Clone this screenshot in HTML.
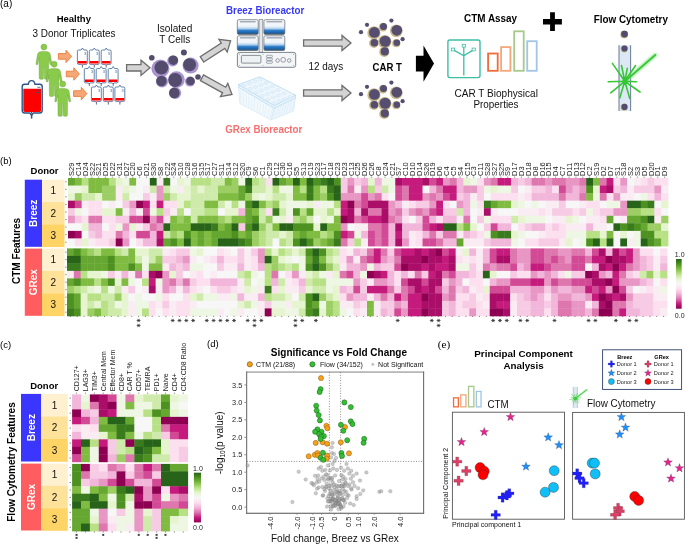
<!DOCTYPE html>
<html><head><meta charset="utf-8"><title>Figure</title>
<style>
html,body{margin:0;padding:0;background:#fff;overflow:hidden;}
svg{display:block;will-change:transform;}
text{font-family:"Liberation Sans", sans-serif;}
</style></head><body>
<svg width="685" height="544" viewBox="0 0 685 544">
<rect width="685" height="544" fill="#fff"/>
<text transform="translate(0.00,7.00) scale(1,1.0)" font-size="10" text-anchor="start" fill="#000">(a)</text>
<text transform="translate(73.80,21.70) scale(1,1.05)" font-size="9.5" font-weight="bold" text-anchor="middle" fill="#000">Healthy</text>
<text transform="translate(74.00,36.70) scale(1,1.08)" font-size="9.95" text-anchor="middle" fill="#111">3 Donor Triplicates</text>
<text transform="translate(174.60,31.60) scale(1,1.15)" font-size="10.1" text-anchor="middle" fill="#111">Isolated</text>
<text transform="translate(174.70,42.60) scale(1,1.15)" font-size="10.0" text-anchor="middle" fill="#111">T Cells</text>
<text transform="translate(265.20,14.00) scale(1,1.05)" font-size="9.8" font-weight="bold" text-anchor="middle" fill="#3838fa">Breez Bioreactor</text>
<text transform="translate(263.80,132.50) scale(1,1.07)" font-size="9.8" font-weight="bold" text-anchor="middle" fill="#f77070">GRex Bioreactor</text>
<text transform="translate(325.80,69.70) scale(1,1.02)" font-size="9.95" text-anchor="middle" fill="#111">12 days</text>
<text transform="translate(387.20,70.70) scale(1,1.08)" font-size="9.6" font-weight="bold" text-anchor="middle" fill="#000">CAR T</text>
<text transform="translate(490.60,22.20) scale(1,1.15)" font-size="9.9" font-weight="bold" text-anchor="middle" fill="#000">CTM Assay</text>
<text transform="translate(630.80,23.00) scale(1,1.15)" font-size="9.9" font-weight="bold" text-anchor="middle" fill="#000">Flow Cytometry</text>
<text transform="translate(496.20,96.70) scale(1,1.15)" font-size="10.05" text-anchor="middle" fill="#111">CAR T Biophysical</text>
<text transform="translate(496.00,108.30) scale(1,1.15)" font-size="9.9" text-anchor="middle" fill="#111">Properties</text>
<g transform="translate(43.9,47.0)"><circle r="3.0" fill="#8bcb4c" stroke="#6a9f3e" stroke-width="0.4"/><path d="M -2 4.4 L 2 4.4 Q 5.6 4.4 6.4 7.2 L 7.9 16.6 Q 8.1 17.8 7.0 17.8 Q 6.2 17.8 6.0 16.9 L 4.9 10.6 L 4.7 31.2 Q 4.7 32.2 3.6 32.2 L 1.4 32.2 Q 0.5 32.2 0.5 31.2 L 0.3 19.5 L -0.3 19.5 L -0.5 31.2 Q -0.5 32.2 -1.4 32.2 L -3.6 32.2 Q -4.7 32.2 -4.7 31.2 L -4.9 10.6 L -6.0 16.9 Q -6.2 17.8 -7.0 17.8 Q -8.1 17.8 -7.9 16.6 L -6.4 7.2 Q -5.6 4.4 -2 4.4 Z" fill="#8bcb4c" stroke="#6a9f3e" stroke-width="0.4"/></g>
<g transform="translate(54.1,64.2)"><circle r="3.0" fill="#8bcb4c" stroke="#6a9f3e" stroke-width="0.4"/><path d="M -2 4.4 L 2 4.4 Q 5.6 4.4 6.4 7.2 L 7.9 16.6 Q 8.1 17.8 7.0 17.8 Q 6.2 17.8 6.0 16.9 L 4.9 10.6 L 4.7 31.2 Q 4.7 32.2 3.6 32.2 L 1.4 32.2 Q 0.5 32.2 0.5 31.2 L 0.3 19.5 L -0.3 19.5 L -0.5 31.2 Q -0.5 32.2 -1.4 32.2 L -3.6 32.2 Q -4.7 32.2 -4.7 31.2 L -4.9 10.6 L -6.0 16.9 Q -6.2 17.8 -7.0 17.8 Q -8.1 17.8 -7.9 16.6 L -6.4 7.2 Q -5.6 4.4 -2 4.4 Z" fill="#8bcb4c" stroke="#6a9f3e" stroke-width="0.4"/></g>
<g transform="translate(62.7,84.1)"><circle r="3.0" fill="#8bcb4c" stroke="#6a9f3e" stroke-width="0.4"/><path d="M -2 4.4 L 2 4.4 Q 5.6 4.4 6.4 7.2 L 7.9 16.6 Q 8.1 17.8 7.0 17.8 Q 6.2 17.8 6.0 16.9 L 4.9 10.6 L 4.7 31.2 Q 4.7 32.2 3.6 32.2 L 1.4 32.2 Q 0.5 32.2 0.5 31.2 L 0.3 19.5 L -0.3 19.5 L -0.5 31.2 Q -0.5 32.2 -1.4 32.2 L -3.6 32.2 Q -4.7 32.2 -4.7 31.2 L -4.9 10.6 L -6.0 16.9 Q -6.2 17.8 -7.0 17.8 Q -8.1 17.8 -7.9 16.6 L -6.4 7.2 Q -5.6 4.4 -2 4.4 Z" fill="#8bcb4c" stroke="#6a9f3e" stroke-width="0.4"/></g>
<path d="M22.2 86.6 Q22.2 84.2 24.6 84.2 L28.4 84.2 Q28.6 80.6 31.6 80.6 Q34.6 80.6 34.8 84.2 L39.8 84.2 Q42.2 84.2 42.2 86.6 L42.2 110.6 Q42.2 113.0 39.8 113.0 L33.4 113.0 L31.6 115.2 L29.8 113.0 L24.6 113.0 Q22.2 113.0 22.2 110.6 Z" fill="#fff" stroke="#2b5687" stroke-width="1.4" stroke-linejoin="round"/>
<path d="M23.3 88.8 H41.1 V110.2 Q41.1 111.9 39.4 111.9 H25.0 Q23.3 111.9 23.3 110.2 Z" fill="#ff0000"/>
<path d="M31.6 111.8 V113.6" stroke="#ff0000" stroke-width="1.2"/>
<path d="M37.4 87.3 H40.4 M36.0 92.4 H39.6" stroke="#2b5687" stroke-width="0.8"/>
<path d="M37.8 89.6 h1.4 v1.2 h-1.4" fill="none" stroke="#2b5687" stroke-width="0.5"/>
<path d="M31.6 115 V118.6" fill="none" stroke="#2b5687" stroke-width="1.5"/>
<path d="M58.4 53.6 L66.0 53.6 L66.0 50.199999999999996 L71.6 56.4 L66.0 62.6 L66.0 59.199999999999996 L58.4 59.199999999999996 Z" fill="#f5a877" stroke="#ec7a34" stroke-width="0.9" stroke-linejoin="miter"/>
<path d="M66.3 71.2 L73.80000000000001 71.2 L73.80000000000001 67.8 L79.4 74.0 L73.80000000000001 80.2 L73.80000000000001 76.8 L66.3 76.8 Z" fill="#f5a877" stroke="#ec7a34" stroke-width="0.9" stroke-linejoin="miter"/>
<path d="M73.6 90.8 L81.30000000000001 90.8 L81.30000000000001 87.39999999999999 L86.9 93.6 L81.30000000000001 99.8 L81.30000000000001 96.39999999999999 L73.6 96.39999999999999 Z" fill="#f5a877" stroke="#ec7a34" stroke-width="0.9" stroke-linejoin="miter"/>
<path d="M77.4 51.2 Q77.4 50.0 78.60000000000001 50.0 L81.10000000000001 50.0 L82.4 48.0 L83.7 50.0 L86.10000000000001 50.0 Q87.30000000000001 50.0 87.30000000000001 51.2 L87.30000000000001 63.2 Q87.30000000000001 64.4 86.10000000000001 64.4 L83.2 64.4 L82.4 65.4 L81.60000000000001 64.4 L78.60000000000001 64.4 Q77.4 64.4 77.4 63.2 Z" fill="#fff" stroke="#3c6696" stroke-width="0.8" stroke-linejoin="round"/>
<rect x="78.0" y="61.0" width="8.7" height="2.5" fill="#ff0000"/>
<path d="M82.4 64.6 L82.4 65.4" stroke="#ff0000" stroke-width="1"/>
<text x="84.0" y="54.7" font-size="3.9" fill="#3c6696">3</text>
<path d="M82.4 65.4 V67.6" stroke="#3c6696" stroke-width="0.9"/>
<path d="M89.3 51.2 Q89.3 50.0 90.5 50.0 L93.0 50.0 L94.3 48.0 L95.6 50.0 L98.0 50.0 Q99.2 50.0 99.2 51.2 L99.2 63.2 Q99.2 64.4 98.0 64.4 L95.1 64.4 L94.3 65.4 L93.5 64.4 L90.5 64.4 Q89.3 64.4 89.3 63.2 Z" fill="#fff" stroke="#3c6696" stroke-width="0.8" stroke-linejoin="round"/>
<rect x="89.9" y="61.0" width="8.7" height="2.5" fill="#ff0000"/>
<path d="M94.3 64.6 L94.3 65.4" stroke="#ff0000" stroke-width="1"/>
<text x="95.9" y="54.7" font-size="3.9" fill="#3c6696">3</text>
<path d="M94.3 65.4 V67.6" stroke="#3c6696" stroke-width="0.9"/>
<path d="M101.2 51.2 Q101.2 50.0 102.4 50.0 L104.9 50.0 L106.2 48.0 L107.5 50.0 L109.9 50.0 Q111.10000000000001 50.0 111.10000000000001 51.2 L111.10000000000001 63.2 Q111.10000000000001 64.4 109.9 64.4 L107.0 64.4 L106.2 65.4 L105.4 64.4 L102.4 64.4 Q101.2 64.4 101.2 63.2 Z" fill="#fff" stroke="#3c6696" stroke-width="0.8" stroke-linejoin="round"/>
<rect x="101.8" y="61.0" width="8.7" height="2.5" fill="#ff0000"/>
<path d="M106.2 64.6 L106.2 65.4" stroke="#ff0000" stroke-width="1"/>
<text x="107.8" y="54.7" font-size="3.9" fill="#3c6696">3</text>
<path d="M106.2 65.4 V67.6" stroke="#3c6696" stroke-width="0.9"/>
<path d="M84.3 69.7 Q84.3 68.5 85.5 68.5 L88.0 68.5 L89.3 66.5 L90.6 68.5 L93.0 68.5 Q94.2 68.5 94.2 69.7 L94.2 81.7 Q94.2 82.9 93.0 82.9 L90.1 82.9 L89.3 83.9 L88.5 82.9 L85.5 82.9 Q84.3 82.9 84.3 81.7 Z" fill="#fff" stroke="#3c6696" stroke-width="0.8" stroke-linejoin="round"/>
<rect x="84.9" y="79.5" width="8.7" height="2.5" fill="#ff0000"/>
<path d="M89.3 83.1 L89.3 83.9" stroke="#ff0000" stroke-width="1"/>
<text x="90.9" y="73.2" font-size="3.9" fill="#3c6696">3</text>
<path d="M89.3 83.9 V86.1" stroke="#3c6696" stroke-width="0.9"/>
<path d="M96.2 69.7 Q96.2 68.5 97.4 68.5 L99.9 68.5 L101.2 66.5 L102.5 68.5 L104.9 68.5 Q106.10000000000001 68.5 106.10000000000001 69.7 L106.10000000000001 81.7 Q106.10000000000001 82.9 104.9 82.9 L102.0 82.9 L101.2 83.9 L100.4 82.9 L97.4 82.9 Q96.2 82.9 96.2 81.7 Z" fill="#fff" stroke="#3c6696" stroke-width="0.8" stroke-linejoin="round"/>
<rect x="96.8" y="79.5" width="8.7" height="2.5" fill="#ff0000"/>
<path d="M101.2 83.1 L101.2 83.9" stroke="#ff0000" stroke-width="1"/>
<text x="102.8" y="73.2" font-size="3.9" fill="#3c6696">3</text>
<path d="M101.2 83.9 V86.1" stroke="#3c6696" stroke-width="0.9"/>
<path d="M108.2 69.7 Q108.2 68.5 109.4 68.5 L111.9 68.5 L113.2 66.5 L114.5 68.5 L116.9 68.5 Q118.10000000000001 68.5 118.10000000000001 69.7 L118.10000000000001 81.7 Q118.10000000000001 82.9 116.9 82.9 L114.0 82.9 L113.2 83.9 L112.4 82.9 L109.4 82.9 Q108.2 82.9 108.2 81.7 Z" fill="#fff" stroke="#3c6696" stroke-width="0.8" stroke-linejoin="round"/>
<rect x="108.8" y="79.5" width="8.7" height="2.5" fill="#ff0000"/>
<path d="M113.2 83.1 L113.2 83.9" stroke="#ff0000" stroke-width="1"/>
<text x="114.8" y="73.2" font-size="3.9" fill="#3c6696">3</text>
<path d="M113.2 83.9 V86.1" stroke="#3c6696" stroke-width="0.9"/>
<path d="M91.4 88.2 Q91.4 87.0 92.60000000000001 87.0 L95.10000000000001 87.0 L96.4 85.0 L97.7 87.0 L100.10000000000001 87.0 Q101.30000000000001 87.0 101.30000000000001 88.2 L101.30000000000001 100.2 Q101.30000000000001 101.4 100.10000000000001 101.4 L97.2 101.4 L96.4 102.4 L95.60000000000001 101.4 L92.60000000000001 101.4 Q91.4 101.4 91.4 100.2 Z" fill="#fff" stroke="#3c6696" stroke-width="0.8" stroke-linejoin="round"/>
<rect x="92.0" y="98.0" width="8.7" height="2.5" fill="#ff0000"/>
<path d="M96.4 101.6 L96.4 102.4" stroke="#ff0000" stroke-width="1"/>
<text x="98.0" y="91.7" font-size="3.9" fill="#3c6696">3</text>
<path d="M96.4 102.4 V104.6" stroke="#3c6696" stroke-width="0.9"/>
<path d="M103.3 88.2 Q103.3 87.0 104.5 87.0 L107.0 87.0 L108.3 85.0 L109.6 87.0 L112.0 87.0 Q113.2 87.0 113.2 88.2 L113.2 100.2 Q113.2 101.4 112.0 101.4 L109.1 101.4 L108.3 102.4 L107.5 101.4 L104.5 101.4 Q103.3 101.4 103.3 100.2 Z" fill="#fff" stroke="#3c6696" stroke-width="0.8" stroke-linejoin="round"/>
<rect x="103.9" y="98.0" width="8.7" height="2.5" fill="#ff0000"/>
<path d="M108.3 101.6 L108.3 102.4" stroke="#ff0000" stroke-width="1"/>
<text x="109.9" y="91.7" font-size="3.9" fill="#3c6696">3</text>
<path d="M108.3 102.4 V104.6" stroke="#3c6696" stroke-width="0.9"/>
<path d="M114.9 88.2 Q114.9 87.0 116.10000000000001 87.0 L118.60000000000001 87.0 L119.9 85.0 L121.2 87.0 L123.60000000000001 87.0 Q124.80000000000001 87.0 124.80000000000001 88.2 L124.80000000000001 100.2 Q124.80000000000001 101.4 123.60000000000001 101.4 L120.7 101.4 L119.9 102.4 L119.10000000000001 101.4 L116.10000000000001 101.4 Q114.9 101.4 114.9 100.2 Z" fill="#fff" stroke="#3c6696" stroke-width="0.8" stroke-linejoin="round"/>
<rect x="115.5" y="98.0" width="8.7" height="2.5" fill="#ff0000"/>
<path d="M119.9 101.6 L119.9 102.4" stroke="#ff0000" stroke-width="1"/>
<text x="121.5" y="91.7" font-size="3.9" fill="#3c6696">3</text>
<path d="M119.9 102.4 V104.6" stroke="#3c6696" stroke-width="0.9"/>
<path d="M126.60 71.00 L141.00 71.00 L141.00 75.40 L150.00 67.80 L141.00 60.20 L141.00 64.60 L126.60 64.60 Z" fill="#d4d4d4" stroke="#6e6e6e" stroke-width="1.3" stroke-linejoin="miter"/>
<path d="M203.74 62.08 L224.80 48.39 L227.20 52.08 L230.60 40.80 L218.91 39.34 L221.31 43.02 L200.26 56.72 Z" fill="#d4d4d4" stroke="#6e6e6e" stroke-width="1.3" stroke-linejoin="miter"/>
<path d="M200.45 80.60 L222.58 92.84 L220.45 96.69 L232.00 94.40 L227.80 83.39 L225.67 87.24 L203.55 75.00 Z" fill="#d4d4d4" stroke="#6e6e6e" stroke-width="1.3" stroke-linejoin="miter"/>
<path d="M303.60 46.20 L342.00 46.20 L342.00 50.60 L351.00 43.00 L342.00 35.40 L342.00 39.80 L303.60 39.80 Z" fill="#d4d4d4" stroke="#6e6e6e" stroke-width="1.3" stroke-linejoin="miter"/>
<path d="M303.60 96.20 L342.00 96.20 L342.00 100.60 L351.00 93.00 L342.00 85.40 L342.00 89.80 L303.60 89.80 Z" fill="#d4d4d4" stroke="#6e6e6e" stroke-width="1.3" stroke-linejoin="miter"/>
<circle cx="160.4" cy="68.6" r="9.0" fill="#a994cf"/>
<circle cx="172.7" cy="60.9" r="5.5" fill="#a994cf"/>
<circle cx="190.6" cy="65.6" r="8.0" fill="#a994cf"/>
<circle cx="162.0" cy="81.6" r="6.0" fill="#a994cf"/>
<circle cx="176.4" cy="79.6" r="8.4" fill="#a994cf"/>
<circle cx="190.0" cy="81.6" r="5.0" fill="#a994cf"/>
<circle cx="175.2" cy="92.9" r="6.0" fill="#a994cf"/>
<circle cx="161.4" cy="67.6" r="6.9" fill="#544c6c"/>
<circle cx="173.3" cy="60.2" r="4.8" fill="#544c6c"/>
<circle cx="189.6" cy="64.7" r="6.5" fill="#544c6c"/>
<circle cx="161.4" cy="81.0" r="5.3" fill="#544c6c"/>
<circle cx="175.2" cy="80.0" r="6.9" fill="#544c6c"/>
<circle cx="190.5" cy="81.0" r="4.3" fill="#544c6c"/>
<circle cx="174.3" cy="92.9" r="5.3" fill="#544c6c"/>
<circle cx="151.8" cy="57.8" r="2.8" fill="#544c6c"/>
<circle cx="183.9" cy="52.6" r="3.0" fill="#544c6c"/>
<circle cx="198.0" cy="77.0" r="2.8" fill="#544c6c"/>
<circle cx="361.0" cy="32.20" r="2.1" fill="#554e70"/>
<circle cx="367.0" cy="24.80" r="2.1" fill="#554e70"/>
<circle cx="391.4" cy="20.60" r="2.1" fill="#554e70"/>
<circle cx="402.6" cy="39.20" r="2.1" fill="#554e70"/>
<circle cx="373.90" cy="32.90" r="6.6" fill="#c9b98b"/>
<circle cx="374.4" cy="32.40" r="5.4" fill="#554e70"/>
<circle cx="383.00" cy="27.10" r="4.3" fill="#c9b98b"/>
<circle cx="383.5" cy="26.60" r="3.5" fill="#554e70"/>
<circle cx="396.30" cy="30.80" r="6.4" fill="#c9b98b"/>
<circle cx="396.8" cy="30.30" r="5.4" fill="#554e70"/>
<circle cx="373.90" cy="43.20" r="4.8" fill="#c9b98b"/>
<circle cx="374.4" cy="42.70" r="3.8" fill="#554e70"/>
<circle cx="384.70" cy="41.80" r="6.8" fill="#c9b98b"/>
<circle cx="385.2" cy="41.30" r="5.6" fill="#554e70"/>
<circle cx="396.30" cy="43.20" r="4.1" fill="#c9b98b"/>
<circle cx="396.8" cy="42.70" r="3.3" fill="#554e70"/>
<circle cx="384.30" cy="51.90" r="5.1" fill="#c9b98b"/>
<circle cx="384.8" cy="51.40" r="4.1" fill="#554e70"/>
<circle cx="361.0" cy="94.20" r="2.1" fill="#554e70"/>
<circle cx="367.0" cy="86.80" r="2.1" fill="#554e70"/>
<circle cx="391.4" cy="82.60" r="2.1" fill="#554e70"/>
<circle cx="402.6" cy="101.20" r="2.1" fill="#554e70"/>
<circle cx="373.90" cy="94.90" r="6.6" fill="#c9b98b"/>
<circle cx="374.4" cy="94.40" r="5.4" fill="#554e70"/>
<circle cx="383.00" cy="89.10" r="4.3" fill="#c9b98b"/>
<circle cx="383.5" cy="88.60" r="3.5" fill="#554e70"/>
<circle cx="396.30" cy="92.80" r="6.4" fill="#c9b98b"/>
<circle cx="396.8" cy="92.30" r="5.4" fill="#554e70"/>
<circle cx="373.90" cy="105.20" r="4.8" fill="#c9b98b"/>
<circle cx="374.4" cy="104.70" r="3.8" fill="#554e70"/>
<circle cx="384.70" cy="103.80" r="6.8" fill="#c9b98b"/>
<circle cx="385.2" cy="103.30" r="5.6" fill="#554e70"/>
<circle cx="396.30" cy="105.20" r="4.1" fill="#c9b98b"/>
<circle cx="396.8" cy="104.70" r="3.3" fill="#554e70"/>
<circle cx="384.30" cy="113.90" r="5.1" fill="#c9b98b"/>
<circle cx="384.8" cy="113.40" r="4.1" fill="#554e70"/>
<defs><linearGradient id="bz" x1="0" y1="0" x2="0" y2="1"><stop offset="0" stop-color="#f7f9fb"/><stop offset="0.45" stop-color="#eef4fa"/><stop offset="0.6" stop-color="#b4d2ee"/><stop offset="0.74" stop-color="#2a7ccb"/><stop offset="0.88" stop-color="#1c64ad"/><stop offset="1" stop-color="#4a5563"/></linearGradient><linearGradient id="gx" x1="0" y1="0" x2="1" y2="1"><stop offset="0" stop-color="#eaf5fc"/><stop offset="1" stop-color="#d6ecf8"/></linearGradient></defs>
<rect x="259.1" y="19.3" width="3.7" height="33.4" fill="#e4e8ec" stroke="#777" stroke-width="0.6"/>
<rect x="237.3" y="19.7" width="20.9" height="14.7" rx="1.5" fill="url(#bz)" stroke="#5c6670" stroke-width="0.7"/>
<rect x="239.9" y="21.099999999999998" width="15.7" height="1.3" fill="#9aa4ae"/>
<rect x="263.9" y="19.7" width="20.9" height="14.7" rx="1.5" fill="url(#bz)" stroke="#5c6670" stroke-width="0.7"/>
<rect x="266.5" y="21.099999999999998" width="15.7" height="1.3" fill="#9aa4ae"/>
<rect x="237.3" y="35.8" width="20.9" height="14.7" rx="1.5" fill="url(#bz)" stroke="#5c6670" stroke-width="0.7"/>
<rect x="239.9" y="37.199999999999996" width="15.7" height="1.3" fill="#9aa4ae"/>
<rect x="263.9" y="35.8" width="20.9" height="14.7" rx="1.5" fill="url(#bz)" stroke="#5c6670" stroke-width="0.7"/>
<rect x="266.5" y="37.199999999999996" width="15.7" height="1.3" fill="#9aa4ae"/>
<rect x="237.4" y="52.4" width="58.3" height="14.9" rx="2" fill="#f3f5f7" stroke="#5c6670" stroke-width="0.8"/>
<rect x="241.4" y="55.4" width="19.5" height="7.7" rx="1" fill="#eef1f4" stroke="#5c6670" stroke-width="0.7"/>
<rect x="266.4" y="55.3" width="6" height="2.2" rx="0.8" fill="#eef1f4" stroke="#5c6670" stroke-width="0.5"/>
<rect x="266.4" y="58.2" width="6" height="2.2" rx="0.8" fill="#eef1f4" stroke="#5c6670" stroke-width="0.5"/>
<rect x="266.4" y="61.1" width="6" height="2.2" rx="0.8" fill="#eef1f4" stroke="#5c6670" stroke-width="0.5"/>
<circle cx="277.6" cy="60.5" r="1.8" fill="none" stroke="#5c6670" stroke-width="0.6"/>
<circle cx="283.2" cy="59.8" r="2.4" fill="none" stroke="#5c6670" stroke-width="0.6"/>
<circle cx="289.2" cy="60.5" r="1.8" fill="none" stroke="#5c6670" stroke-width="0.6"/>
<circle cx="239.5" cy="54.3" r="0.45" fill="#5c6670"/>
<circle cx="293.6" cy="54.3" r="0.45" fill="#5c6670"/>
<circle cx="239.5" cy="65.4" r="0.45" fill="#5c6670"/>
<circle cx="293.6" cy="65.4" r="0.45" fill="#5c6670"/>
<circle cx="263.0" cy="54.3" r="0.45" fill="#5c6670"/>
<circle cx="263.0" cy="65.4" r="0.45" fill="#5c6670"/>
<path d="M238.6 87.2 L274.2 108.2 L271.2 120.0 L239.8 103.6 Z" fill="#f3f9fd" stroke="#cfe6f5" stroke-width="0.6"/>
<path d="M274.2 108.2 L295.5 97.9 L293.6 111.0 L271.2 120.0 Z" fill="#eef6fc" stroke="#cfe6f5" stroke-width="0.6"/>
<path d="M240.2 89.9 L241.2 104.2 M243.0 90.5 L243.6 104.8 M246.1 93.4 L246.5 106.9 M248.9 94.0 L248.8 107.5 M252.0 96.9 L251.7 109.6 M254.8 97.5 L254.1 110.2 M258.0 100.4 L256.9 112.4 M260.8 101.0 L259.3 113.0 M263.9 103.9 L262.2 115.1 M266.7 104.5 L264.6 115.7 M269.8 107.4 L267.4 117.8 M272.6 108.0 L269.8 118.4 M275.5 107.7 L272.8 118.3 M278.3 107.1 L275.2 117.7 M280.8 105.1 L278.4 116.0 M283.6 104.5 L280.8 115.4 M286.1 102.6 L284.0 113.8 M288.9 102.0 L286.4 113.2 M291.4 100.0 L289.6 111.5 M294.2 99.4 L292.0 110.9" fill="none" stroke="#d7ebf7" stroke-width="0.6"/>
<path d="M238.6 84.6 L238.6 87.2 L274.2 108.2 L295.5 97.9 L295.5 95.3 Z" fill="#ebf5fc" stroke="#acd4ee" stroke-width="0.6" stroke-linejoin="round"/>
<path d="M238.6 84.6 L259.9 76.8 L295.5 95.3 L274.2 105.6 Z" fill="#f0f7fc" stroke="#acd4ee" stroke-width="0.7" stroke-linejoin="round"/>
<ellipse cx="244.2" cy="85.4" rx="2.3" ry="1.5" fill="#e6f2fb" stroke="#c6e2f4" stroke-width="0.45"/><ellipse cx="250.2" cy="88.9" rx="2.3" ry="1.5" fill="#e6f2fb" stroke="#c6e2f4" stroke-width="0.45"/><ellipse cx="256.1" cy="92.4" rx="2.3" ry="1.5" fill="#e6f2fb" stroke="#c6e2f4" stroke-width="0.45"/><ellipse cx="262.0" cy="95.9" rx="2.3" ry="1.5" fill="#e6f2fb" stroke="#c6e2f4" stroke-width="0.45"/><ellipse cx="268.0" cy="99.4" rx="2.3" ry="1.5" fill="#e6f2fb" stroke="#c6e2f4" stroke-width="0.45"/><ellipse cx="273.9" cy="102.9" rx="2.3" ry="1.5" fill="#e6f2fb" stroke="#c6e2f4" stroke-width="0.45"/><ellipse cx="249.6" cy="83.4" rx="2.3" ry="1.5" fill="#e6f2fb" stroke="#c6e2f4" stroke-width="0.45"/><ellipse cx="255.5" cy="86.9" rx="2.3" ry="1.5" fill="#e6f2fb" stroke="#c6e2f4" stroke-width="0.45"/><ellipse cx="261.4" cy="90.4" rx="2.3" ry="1.5" fill="#e6f2fb" stroke="#c6e2f4" stroke-width="0.45"/><ellipse cx="267.4" cy="93.9" rx="2.3" ry="1.5" fill="#e6f2fb" stroke="#c6e2f4" stroke-width="0.45"/><ellipse cx="273.3" cy="97.4" rx="2.3" ry="1.5" fill="#e6f2fb" stroke="#c6e2f4" stroke-width="0.45"/><ellipse cx="279.2" cy="100.9" rx="2.3" ry="1.5" fill="#e6f2fb" stroke="#c6e2f4" stroke-width="0.45"/><ellipse cx="254.9" cy="81.5" rx="2.3" ry="1.5" fill="#e6f2fb" stroke="#c6e2f4" stroke-width="0.45"/><ellipse cx="260.8" cy="85.0" rx="2.3" ry="1.5" fill="#e6f2fb" stroke="#c6e2f4" stroke-width="0.45"/><ellipse cx="266.7" cy="88.5" rx="2.3" ry="1.5" fill="#e6f2fb" stroke="#c6e2f4" stroke-width="0.45"/><ellipse cx="272.7" cy="92.0" rx="2.3" ry="1.5" fill="#e6f2fb" stroke="#c6e2f4" stroke-width="0.45"/><ellipse cx="278.6" cy="95.5" rx="2.3" ry="1.5" fill="#e6f2fb" stroke="#c6e2f4" stroke-width="0.45"/><ellipse cx="284.5" cy="99.0" rx="2.3" ry="1.5" fill="#e6f2fb" stroke="#c6e2f4" stroke-width="0.45"/><ellipse cx="260.2" cy="79.5" rx="2.3" ry="1.5" fill="#e6f2fb" stroke="#c6e2f4" stroke-width="0.45"/><ellipse cx="266.1" cy="83.0" rx="2.3" ry="1.5" fill="#e6f2fb" stroke="#c6e2f4" stroke-width="0.45"/><ellipse cx="272.1" cy="86.5" rx="2.3" ry="1.5" fill="#e6f2fb" stroke="#c6e2f4" stroke-width="0.45"/><ellipse cx="278.0" cy="90.0" rx="2.3" ry="1.5" fill="#e6f2fb" stroke="#c6e2f4" stroke-width="0.45"/><ellipse cx="283.9" cy="93.5" rx="2.3" ry="1.5" fill="#e6f2fb" stroke="#c6e2f4" stroke-width="0.45"/><ellipse cx="289.9" cy="97.0" rx="2.3" ry="1.5" fill="#e6f2fb" stroke="#c6e2f4" stroke-width="0.45"/>
<path d="M415.9 55.7 H423.5 V45.6 L434.0 63.6 L423.5 81.7 V71.6 H415.9 Z" fill="#000"/>
<rect x="447.9" y="40.0" width="32.1" height="37.6" rx="2" fill="none" stroke="#3dbfa5" stroke-width="1.4"/>
<path d="M463.8 46.5 V75.6 M453 49.6 L463.8 55.7 L473.7 49.6" fill="none" stroke="#3dbfa5" stroke-width="1.3"/>
<rect x="462.2" y="44.3" width="3.2" height="2.8" fill="#fff" stroke="#3dbfa5" stroke-width="0.8"/>
<rect x="451.4" y="48.1" width="3.2" height="2.8" fill="#fff" stroke="#3dbfa5" stroke-width="0.8"/>
<rect x="472.1" y="48.1" width="3.2" height="2.8" fill="#fff" stroke="#3dbfa5" stroke-width="0.8"/>
<rect x="488.09999999999997" y="53.5" width="9.60" height="17.30" fill="none" stroke="#f26b3a" stroke-width="1.8"/>
<rect x="501.09999999999997" y="47.1" width="9.30" height="23.70" fill="none" stroke="#f3a77b" stroke-width="1.8"/>
<rect x="514.1999999999999" y="31.299999999999997" width="9.50" height="39.50" fill="none" stroke="#a7c98a" stroke-width="1.8"/>
<rect x="527.1999999999999" y="41.199999999999996" width="9.50" height="29.60" fill="none" stroke="#a2c4e8" stroke-width="1.8"/>
<path d="M550.1 12.2 H554.9 V19.0 H561.9 V24.4 H554.9 V30.9 H550.1 V24.4 H543.0 V19.0 H550.1 Z" fill="#000"/>
<defs><filter id="glow" x="-50%" y="-50%" width="200%" height="200%"><feGaussianBlur stdDeviation="1.2"/></filter></defs>
<rect x="619.0" y="45.2" width="11.6" height="65.8" fill="#dde8f5"/>
<path d="M619.0 45.2 V111 M630.6 45.2 V111" stroke="#7384a0" stroke-width="1.1"/>
<path d="M624.8 81.3 L655.4 54.8" stroke="#7fe07f" stroke-width="3.6" stroke-linecap="round" filter="url(#glow)" opacity="0.85"/>
<path d="M624.8 81.3 L655.4 54.8" stroke="#33c833" stroke-width="1.7" stroke-linecap="round"/>
<path d="M624.8 81.3 L608.2 81.8 M624.8 81.3 L636.4 81.8 M624.8 81.3 L612.4 63.4 M624.8 81.3 L621.5 65.5 M624.8 81.3 L627.3 68.4 M624.8 81.3 L635.5 65.5 M624.8 81.3 L610.7 92.8 M624.8 81.3 L619.8 97.8 M624.8 81.3 L629.8 98.6 M624.8 81.3 L640.0 92.0" stroke="#33c833" stroke-width="1.6" stroke-linecap="round"/>
<circle cx="624.8" cy="81.3" r="2.6" fill="#33c833"/>
<circle cx="624.2" cy="34.4" r="3.9" fill="#cbbb8c"/>
<circle cx="624.5" cy="34.1" r="3.4" fill="#534c70"/>
<circle cx="624.2" cy="48.8" r="3.6" fill="#cbbb8c"/>
<circle cx="624.5" cy="48.5" r="3.1" fill="#534c70"/>
<circle cx="624.2" cy="107.2" r="3.6" fill="#cbbb8c"/>
<circle cx="624.5" cy="106.9" r="3.1" fill="#534c70"/>
<text x="0.00" y="163.90" font-size="9.5" text-anchor="start" fill="#000" >(b)</text>
<text x="44.50" y="174.40" font-size="9.5" font-weight="bold" text-anchor="middle" fill="#000" >Donor</text>
<text transform="translate(19.50,251.00) rotate(-90)" font-size="10" font-weight="bold" text-anchor="middle" fill="#000">CTM Features</text>
<rect x="24.8" y="179.7" width="17.2" height="67.10000000000002" fill="#3b36fd"/>
<rect x="42.0" y="179.70" width="22.5" height="22.67" fill="#fff0d0"/>
<text x="53.25" y="194.48" font-size="10" text-anchor="middle" fill="#111" >1</text>
<rect x="42.0" y="202.07" width="22.5" height="22.67" fill="#ffe299"/>
<text x="53.25" y="216.85" font-size="10" text-anchor="middle" fill="#111" >2</text>
<rect x="42.0" y="224.43" width="22.5" height="22.67" fill="#ffd466"/>
<text x="53.25" y="239.22" font-size="10" text-anchor="middle" fill="#111" >3</text>
<text transform="translate(37.00,213.25) rotate(-90)" font-size="10" font-weight="bold" text-anchor="middle" fill="#fff">Breez</text>
<rect x="24.8" y="248.6" width="17.2" height="67.20000000000002" fill="#ff5d5f"/>
<rect x="42.0" y="248.60" width="22.5" height="22.70" fill="#fff0d0"/>
<text x="53.25" y="263.40" font-size="10" text-anchor="middle" fill="#111" >1</text>
<rect x="42.0" y="271.00" width="22.5" height="22.70" fill="#ffe299"/>
<text x="53.25" y="285.80" font-size="10" text-anchor="middle" fill="#111" >2</text>
<rect x="42.0" y="293.40" width="22.5" height="22.70" fill="#ffd466"/>
<text x="53.25" y="308.20" font-size="10" text-anchor="middle" fill="#111" >3</text>
<text transform="translate(37.00,282.20) rotate(-90)" font-size="10" font-weight="bold" text-anchor="middle" fill="#fff">GRex</text>
<rect x="68.00" y="178.00" width="7.22" height="7.96" fill="#66a731"/>
<rect x="74.82" y="178.00" width="7.22" height="7.96" fill="#7fbc41"/>
<rect x="81.64" y="178.00" width="7.22" height="7.96" fill="#b8e186"/>
<rect x="88.45" y="178.00" width="7.22" height="7.96" fill="#7fbc41"/>
<rect x="95.27" y="178.00" width="7.22" height="7.96" fill="#7fbc41"/>
<rect x="102.09" y="178.00" width="7.22" height="7.96" fill="#7fbc41"/>
<rect x="108.91" y="178.00" width="7.22" height="7.96" fill="#b8e186"/>
<rect x="115.73" y="178.00" width="7.22" height="7.96" fill="#e6f5d0"/>
<rect x="122.55" y="178.00" width="7.22" height="7.96" fill="#eef6e4"/>
<rect x="129.36" y="178.00" width="7.22" height="7.96" fill="#7fbc41"/>
<rect x="136.18" y="178.00" width="7.22" height="7.96" fill="#f7f7f7"/>
<rect x="143.00" y="178.00" width="7.22" height="7.96" fill="#f7f7f7"/>
<rect x="149.82" y="178.00" width="7.22" height="7.96" fill="#276419"/>
<rect x="156.64" y="178.00" width="7.22" height="7.96" fill="#faecf3"/>
<rect x="163.45" y="178.00" width="7.22" height="7.96" fill="#3a7b1d"/>
<rect x="170.27" y="178.00" width="7.22" height="7.96" fill="#f7f7f7"/>
<rect x="177.09" y="178.00" width="7.22" height="7.96" fill="#e6f5d0"/>
<rect x="183.91" y="178.00" width="7.22" height="7.96" fill="#eef6e4"/>
<rect x="190.73" y="178.00" width="7.22" height="7.96" fill="#b8e186"/>
<rect x="197.55" y="178.00" width="7.22" height="7.96" fill="#b8e186"/>
<rect x="204.36" y="178.00" width="7.22" height="7.96" fill="#b8e186"/>
<rect x="211.18" y="178.00" width="7.22" height="7.96" fill="#cfebab"/>
<rect x="218.00" y="178.00" width="7.22" height="7.96" fill="#cfebab"/>
<rect x="224.82" y="178.00" width="7.22" height="7.96" fill="#7fbc41"/>
<rect x="231.64" y="178.00" width="7.22" height="7.96" fill="#9cce64"/>
<rect x="238.45" y="178.00" width="7.22" height="7.96" fill="#eef6e4"/>
<rect x="245.27" y="178.00" width="7.22" height="7.96" fill="#276419"/>
<rect x="252.09" y="178.00" width="7.22" height="7.96" fill="#b8e186"/>
<rect x="258.91" y="178.00" width="7.22" height="7.96" fill="#cfebab"/>
<rect x="265.73" y="178.00" width="7.22" height="7.96" fill="#fde0ef"/>
<rect x="272.55" y="178.00" width="7.22" height="7.96" fill="#276419"/>
<rect x="279.36" y="178.00" width="7.22" height="7.96" fill="#66a731"/>
<rect x="286.18" y="178.00" width="7.22" height="7.96" fill="#7fbc41"/>
<rect x="293.00" y="178.00" width="7.22" height="7.96" fill="#276419"/>
<rect x="299.82" y="178.00" width="7.22" height="7.96" fill="#7fbc41"/>
<rect x="306.64" y="178.00" width="7.22" height="7.96" fill="#276419"/>
<rect x="313.45" y="178.00" width="7.22" height="7.96" fill="#4d9221"/>
<rect x="320.27" y="178.00" width="7.22" height="7.96" fill="#3a7b1d"/>
<rect x="327.09" y="178.00" width="7.22" height="7.96" fill="#276419"/>
<rect x="333.91" y="178.00" width="7.22" height="7.96" fill="#4d9221"/>
<rect x="340.73" y="178.00" width="7.22" height="7.96" fill="#f7cbe4"/>
<rect x="347.55" y="178.00" width="7.22" height="7.96" fill="#e896c4"/>
<rect x="354.36" y="178.00" width="7.22" height="7.96" fill="#f7cbe4"/>
<rect x="361.18" y="178.00" width="7.22" height="7.96" fill="#f1b6da"/>
<rect x="368.00" y="178.00" width="7.22" height="7.96" fill="#e6f5d0"/>
<rect x="374.82" y="178.00" width="7.22" height="7.96" fill="#f1b6da"/>
<rect x="381.64" y="178.00" width="7.22" height="7.96" fill="#eef6e4"/>
<rect x="388.45" y="178.00" width="7.22" height="7.96" fill="#eef6e4"/>
<rect x="395.27" y="178.00" width="7.22" height="7.96" fill="#aa0e68"/>
<rect x="402.09" y="178.00" width="7.22" height="7.96" fill="#c51b7d"/>
<rect x="408.91" y="178.00" width="7.22" height="7.96" fill="#c51b7d"/>
<rect x="415.73" y="178.00" width="7.22" height="7.96" fill="#c51b7d"/>
<rect x="422.55" y="178.00" width="7.22" height="7.96" fill="#aa0e68"/>
<rect x="429.36" y="178.00" width="7.22" height="7.96" fill="#d24996"/>
<rect x="436.18" y="178.00" width="7.22" height="7.96" fill="#c51b7d"/>
<rect x="443.00" y="178.00" width="7.22" height="7.96" fill="#e896c4"/>
<rect x="449.82" y="178.00" width="7.22" height="7.96" fill="#de77ae"/>
<rect x="456.64" y="178.00" width="7.22" height="7.96" fill="#f1b6da"/>
<rect x="463.45" y="178.00" width="7.22" height="7.96" fill="#e6f5d0"/>
<rect x="470.27" y="178.00" width="7.22" height="7.96" fill="#eef6e4"/>
<rect x="477.09" y="178.00" width="7.22" height="7.96" fill="#fde0ef"/>
<rect x="483.91" y="178.00" width="7.22" height="7.96" fill="#e896c4"/>
<rect x="490.73" y="178.00" width="7.22" height="7.96" fill="#de77ae"/>
<rect x="497.55" y="178.00" width="7.22" height="7.96" fill="#c51b7d"/>
<rect x="504.36" y="178.00" width="7.22" height="7.96" fill="#c51b7d"/>
<rect x="511.18" y="178.00" width="7.22" height="7.96" fill="#f1b6da"/>
<rect x="518.00" y="178.00" width="7.22" height="7.96" fill="#f7cbe4"/>
<rect x="524.82" y="178.00" width="7.22" height="7.96" fill="#f1b6da"/>
<rect x="531.64" y="178.00" width="7.22" height="7.96" fill="#de77ae"/>
<rect x="538.45" y="178.00" width="7.22" height="7.96" fill="#de77ae"/>
<rect x="545.27" y="178.00" width="7.22" height="7.96" fill="#e896c4"/>
<rect x="552.09" y="178.00" width="7.22" height="7.96" fill="#de77ae"/>
<rect x="558.91" y="178.00" width="7.22" height="7.96" fill="#de77ae"/>
<rect x="565.73" y="178.00" width="7.22" height="7.96" fill="#e896c4"/>
<rect x="572.55" y="178.00" width="7.22" height="7.96" fill="#e896c4"/>
<rect x="579.36" y="178.00" width="7.22" height="7.96" fill="#de77ae"/>
<rect x="586.18" y="178.00" width="7.22" height="7.96" fill="#276419"/>
<rect x="593.00" y="178.00" width="7.22" height="7.96" fill="#7fbc41"/>
<rect x="599.82" y="178.00" width="7.22" height="7.96" fill="#de77ae"/>
<rect x="606.64" y="178.00" width="7.22" height="7.96" fill="#c51b7d"/>
<rect x="613.45" y="178.00" width="7.22" height="7.96" fill="#fde0ef"/>
<rect x="620.27" y="178.00" width="7.22" height="7.96" fill="#e896c4"/>
<rect x="627.09" y="178.00" width="7.22" height="7.96" fill="#f7f7f7"/>
<rect x="633.91" y="178.00" width="7.22" height="7.96" fill="#faecf3"/>
<rect x="640.73" y="178.00" width="7.22" height="7.96" fill="#fde0ef"/>
<rect x="647.55" y="178.00" width="7.22" height="7.96" fill="#f7cbe4"/>
<rect x="654.36" y="178.00" width="7.22" height="7.96" fill="#fde0ef"/>
<rect x="661.18" y="178.00" width="7.22" height="7.96" fill="#fde0ef"/>
<rect x="68.00" y="185.56" width="7.22" height="7.96" fill="#eef6e4"/>
<rect x="74.82" y="185.56" width="7.22" height="7.96" fill="#eef6e4"/>
<rect x="81.64" y="185.56" width="7.22" height="7.96" fill="#e6f5d0"/>
<rect x="88.45" y="185.56" width="7.22" height="7.96" fill="#7fbc41"/>
<rect x="95.27" y="185.56" width="7.22" height="7.96" fill="#7fbc41"/>
<rect x="102.09" y="185.56" width="7.22" height="7.96" fill="#9cce64"/>
<rect x="108.91" y="185.56" width="7.22" height="7.96" fill="#9cce64"/>
<rect x="115.73" y="185.56" width="7.22" height="7.96" fill="#faecf3"/>
<rect x="122.55" y="185.56" width="7.22" height="7.96" fill="#e6f5d0"/>
<rect x="129.36" y="185.56" width="7.22" height="7.96" fill="#eef6e4"/>
<rect x="136.18" y="185.56" width="7.22" height="7.96" fill="#f7f7f7"/>
<rect x="143.00" y="185.56" width="7.22" height="7.96" fill="#faecf3"/>
<rect x="149.82" y="185.56" width="7.22" height="7.96" fill="#cfebab"/>
<rect x="156.64" y="185.56" width="7.22" height="7.96" fill="#e896c4"/>
<rect x="163.45" y="185.56" width="7.22" height="7.96" fill="#cfebab"/>
<rect x="170.27" y="185.56" width="7.22" height="7.96" fill="#eef6e4"/>
<rect x="177.09" y="185.56" width="7.22" height="7.96" fill="#faecf3"/>
<rect x="183.91" y="185.56" width="7.22" height="7.96" fill="#e6f5d0"/>
<rect x="190.73" y="185.56" width="7.22" height="7.96" fill="#cfebab"/>
<rect x="197.55" y="185.56" width="7.22" height="7.96" fill="#e6f5d0"/>
<rect x="204.36" y="185.56" width="7.22" height="7.96" fill="#cfebab"/>
<rect x="211.18" y="185.56" width="7.22" height="7.96" fill="#cfebab"/>
<rect x="218.00" y="185.56" width="7.22" height="7.96" fill="#9cce64"/>
<rect x="224.82" y="185.56" width="7.22" height="7.96" fill="#9cce64"/>
<rect x="231.64" y="185.56" width="7.22" height="7.96" fill="#9cce64"/>
<rect x="238.45" y="185.56" width="7.22" height="7.96" fill="#66a731"/>
<rect x="245.27" y="185.56" width="7.22" height="7.96" fill="#3a7b1d"/>
<rect x="252.09" y="185.56" width="7.22" height="7.96" fill="#cfebab"/>
<rect x="258.91" y="185.56" width="7.22" height="7.96" fill="#cfebab"/>
<rect x="265.73" y="185.56" width="7.22" height="7.96" fill="#e6f5d0"/>
<rect x="272.55" y="185.56" width="7.22" height="7.96" fill="#b8e186"/>
<rect x="279.36" y="185.56" width="7.22" height="7.96" fill="#eef6e4"/>
<rect x="286.18" y="185.56" width="7.22" height="7.96" fill="#eef6e4"/>
<rect x="293.00" y="185.56" width="7.22" height="7.96" fill="#7fbc41"/>
<rect x="299.82" y="185.56" width="7.22" height="7.96" fill="#b8e186"/>
<rect x="306.64" y="185.56" width="7.22" height="7.96" fill="#3a7b1d"/>
<rect x="313.45" y="185.56" width="7.22" height="7.96" fill="#7fbc41"/>
<rect x="320.27" y="185.56" width="7.22" height="7.96" fill="#b8e186"/>
<rect x="327.09" y="185.56" width="7.22" height="7.96" fill="#3a7b1d"/>
<rect x="333.91" y="185.56" width="7.22" height="7.96" fill="#276419"/>
<rect x="340.73" y="185.56" width="7.22" height="7.96" fill="#f7cbe4"/>
<rect x="347.55" y="185.56" width="7.22" height="7.96" fill="#de77ae"/>
<rect x="354.36" y="185.56" width="7.22" height="7.96" fill="#faecf3"/>
<rect x="361.18" y="185.56" width="7.22" height="7.96" fill="#e896c4"/>
<rect x="368.00" y="185.56" width="7.22" height="7.96" fill="#b8e186"/>
<rect x="374.82" y="185.56" width="7.22" height="7.96" fill="#f7cbe4"/>
<rect x="381.64" y="185.56" width="7.22" height="7.96" fill="#cfebab"/>
<rect x="388.45" y="185.56" width="7.22" height="7.96" fill="#eef6e4"/>
<rect x="395.27" y="185.56" width="7.22" height="7.96" fill="#d24996"/>
<rect x="402.09" y="185.56" width="7.22" height="7.96" fill="#de77ae"/>
<rect x="408.91" y="185.56" width="7.22" height="7.96" fill="#c51b7d"/>
<rect x="415.73" y="185.56" width="7.22" height="7.96" fill="#c51b7d"/>
<rect x="422.55" y="185.56" width="7.22" height="7.96" fill="#f7f7f7"/>
<rect x="429.36" y="185.56" width="7.22" height="7.96" fill="#f1b6da"/>
<rect x="436.18" y="185.56" width="7.22" height="7.96" fill="#de77ae"/>
<rect x="443.00" y="185.56" width="7.22" height="7.96" fill="#c51b7d"/>
<rect x="449.82" y="185.56" width="7.22" height="7.96" fill="#c51b7d"/>
<rect x="456.64" y="185.56" width="7.22" height="7.96" fill="#f1b6da"/>
<rect x="463.45" y="185.56" width="7.22" height="7.96" fill="#e896c4"/>
<rect x="470.27" y="185.56" width="7.22" height="7.96" fill="#e896c4"/>
<rect x="477.09" y="185.56" width="7.22" height="7.96" fill="#f7cbe4"/>
<rect x="483.91" y="185.56" width="7.22" height="7.96" fill="#eef6e4"/>
<rect x="490.73" y="185.56" width="7.22" height="7.96" fill="#e6f5d0"/>
<rect x="497.55" y="185.56" width="7.22" height="7.96" fill="#eef6e4"/>
<rect x="504.36" y="185.56" width="7.22" height="7.96" fill="#eef6e4"/>
<rect x="511.18" y="185.56" width="7.22" height="7.96" fill="#f7cbe4"/>
<rect x="518.00" y="185.56" width="7.22" height="7.96" fill="#f7f7f7"/>
<rect x="524.82" y="185.56" width="7.22" height="7.96" fill="#faecf3"/>
<rect x="531.64" y="185.56" width="7.22" height="7.96" fill="#f7cbe4"/>
<rect x="538.45" y="185.56" width="7.22" height="7.96" fill="#f7cbe4"/>
<rect x="545.27" y="185.56" width="7.22" height="7.96" fill="#f1b6da"/>
<rect x="552.09" y="185.56" width="7.22" height="7.96" fill="#fde0ef"/>
<rect x="558.91" y="185.56" width="7.22" height="7.96" fill="#d24996"/>
<rect x="565.73" y="185.56" width="7.22" height="7.96" fill="#e896c4"/>
<rect x="572.55" y="185.56" width="7.22" height="7.96" fill="#f1b6da"/>
<rect x="579.36" y="185.56" width="7.22" height="7.96" fill="#e896c4"/>
<rect x="586.18" y="185.56" width="7.22" height="7.96" fill="#4d9221"/>
<rect x="593.00" y="185.56" width="7.22" height="7.96" fill="#e6f5d0"/>
<rect x="599.82" y="185.56" width="7.22" height="7.96" fill="#c51b7d"/>
<rect x="606.64" y="185.56" width="7.22" height="7.96" fill="#aa0e68"/>
<rect x="613.45" y="185.56" width="7.22" height="7.96" fill="#f7cbe4"/>
<rect x="620.27" y="185.56" width="7.22" height="7.96" fill="#f1b6da"/>
<rect x="627.09" y="185.56" width="7.22" height="7.96" fill="#faecf3"/>
<rect x="633.91" y="185.56" width="7.22" height="7.96" fill="#f7cbe4"/>
<rect x="640.73" y="185.56" width="7.22" height="7.96" fill="#f7cbe4"/>
<rect x="647.55" y="185.56" width="7.22" height="7.96" fill="#f7cbe4"/>
<rect x="654.36" y="185.56" width="7.22" height="7.96" fill="#e896c4"/>
<rect x="661.18" y="185.56" width="7.22" height="7.96" fill="#faecf3"/>
<rect x="68.00" y="193.11" width="7.22" height="7.96" fill="#e6f5d0"/>
<rect x="74.82" y="193.11" width="7.22" height="7.96" fill="#9cce64"/>
<rect x="81.64" y="193.11" width="7.22" height="7.96" fill="#cfebab"/>
<rect x="88.45" y="193.11" width="7.22" height="7.96" fill="#cfebab"/>
<rect x="95.27" y="193.11" width="7.22" height="7.96" fill="#e6f5d0"/>
<rect x="102.09" y="193.11" width="7.22" height="7.96" fill="#9cce64"/>
<rect x="108.91" y="193.11" width="7.22" height="7.96" fill="#9cce64"/>
<rect x="115.73" y="193.11" width="7.22" height="7.96" fill="#faecf3"/>
<rect x="122.55" y="193.11" width="7.22" height="7.96" fill="#cfebab"/>
<rect x="129.36" y="193.11" width="7.22" height="7.96" fill="#f7f7f7"/>
<rect x="136.18" y="193.11" width="7.22" height="7.96" fill="#f7f7f7"/>
<rect x="143.00" y="193.11" width="7.22" height="7.96" fill="#f7cbe4"/>
<rect x="149.82" y="193.11" width="7.22" height="7.96" fill="#faecf3"/>
<rect x="156.64" y="193.11" width="7.22" height="7.96" fill="#e896c4"/>
<rect x="163.45" y="193.11" width="7.22" height="7.96" fill="#9cce64"/>
<rect x="170.27" y="193.11" width="7.22" height="7.96" fill="#cfebab"/>
<rect x="177.09" y="193.11" width="7.22" height="7.96" fill="#e6f5d0"/>
<rect x="183.91" y="193.11" width="7.22" height="7.96" fill="#e6f5d0"/>
<rect x="190.73" y="193.11" width="7.22" height="7.96" fill="#cfebab"/>
<rect x="197.55" y="193.11" width="7.22" height="7.96" fill="#cfebab"/>
<rect x="204.36" y="193.11" width="7.22" height="7.96" fill="#cfebab"/>
<rect x="211.18" y="193.11" width="7.22" height="7.96" fill="#cfebab"/>
<rect x="218.00" y="193.11" width="7.22" height="7.96" fill="#7fbc41"/>
<rect x="224.82" y="193.11" width="7.22" height="7.96" fill="#7fbc41"/>
<rect x="231.64" y="193.11" width="7.22" height="7.96" fill="#7fbc41"/>
<rect x="238.45" y="193.11" width="7.22" height="7.96" fill="#66a731"/>
<rect x="245.27" y="193.11" width="7.22" height="7.96" fill="#9cce64"/>
<rect x="252.09" y="193.11" width="7.22" height="7.96" fill="#e6f5d0"/>
<rect x="258.91" y="193.11" width="7.22" height="7.96" fill="#eef6e4"/>
<rect x="265.73" y="193.11" width="7.22" height="7.96" fill="#e6f5d0"/>
<rect x="272.55" y="193.11" width="7.22" height="7.96" fill="#cfebab"/>
<rect x="279.36" y="193.11" width="7.22" height="7.96" fill="#cfebab"/>
<rect x="286.18" y="193.11" width="7.22" height="7.96" fill="#e6f5d0"/>
<rect x="293.00" y="193.11" width="7.22" height="7.96" fill="#7fbc41"/>
<rect x="299.82" y="193.11" width="7.22" height="7.96" fill="#7fbc41"/>
<rect x="306.64" y="193.11" width="7.22" height="7.96" fill="#3a7b1d"/>
<rect x="313.45" y="193.11" width="7.22" height="7.96" fill="#7fbc41"/>
<rect x="320.27" y="193.11" width="7.22" height="7.96" fill="#9cce64"/>
<rect x="327.09" y="193.11" width="7.22" height="7.96" fill="#4d9221"/>
<rect x="333.91" y="193.11" width="7.22" height="7.96" fill="#276419"/>
<rect x="340.73" y="193.11" width="7.22" height="7.96" fill="#e896c4"/>
<rect x="347.55" y="193.11" width="7.22" height="7.96" fill="#e896c4"/>
<rect x="354.36" y="193.11" width="7.22" height="7.96" fill="#e896c4"/>
<rect x="361.18" y="193.11" width="7.22" height="7.96" fill="#d24996"/>
<rect x="368.00" y="193.11" width="7.22" height="7.96" fill="#e896c4"/>
<rect x="374.82" y="193.11" width="7.22" height="7.96" fill="#de77ae"/>
<rect x="381.64" y="193.11" width="7.22" height="7.96" fill="#fde0ef"/>
<rect x="388.45" y="193.11" width="7.22" height="7.96" fill="#f7f7f7"/>
<rect x="395.27" y="193.11" width="7.22" height="7.96" fill="#d24996"/>
<rect x="402.09" y="193.11" width="7.22" height="7.96" fill="#de77ae"/>
<rect x="408.91" y="193.11" width="7.22" height="7.96" fill="#c51b7d"/>
<rect x="415.73" y="193.11" width="7.22" height="7.96" fill="#c51b7d"/>
<rect x="422.55" y="193.11" width="7.22" height="7.96" fill="#e896c4"/>
<rect x="429.36" y="193.11" width="7.22" height="7.96" fill="#de77ae"/>
<rect x="436.18" y="193.11" width="7.22" height="7.96" fill="#e896c4"/>
<rect x="443.00" y="193.11" width="7.22" height="7.96" fill="#d24996"/>
<rect x="449.82" y="193.11" width="7.22" height="7.96" fill="#c51b7d"/>
<rect x="456.64" y="193.11" width="7.22" height="7.96" fill="#f7cbe4"/>
<rect x="463.45" y="193.11" width="7.22" height="7.96" fill="#f1b6da"/>
<rect x="470.27" y="193.11" width="7.22" height="7.96" fill="#faecf3"/>
<rect x="477.09" y="193.11" width="7.22" height="7.96" fill="#f7cbe4"/>
<rect x="483.91" y="193.11" width="7.22" height="7.96" fill="#f7f7f7"/>
<rect x="490.73" y="193.11" width="7.22" height="7.96" fill="#fde0ef"/>
<rect x="497.55" y="193.11" width="7.22" height="7.96" fill="#fde0ef"/>
<rect x="504.36" y="193.11" width="7.22" height="7.96" fill="#fde0ef"/>
<rect x="511.18" y="193.11" width="7.22" height="7.96" fill="#fde0ef"/>
<rect x="518.00" y="193.11" width="7.22" height="7.96" fill="#faecf3"/>
<rect x="524.82" y="193.11" width="7.22" height="7.96" fill="#fde0ef"/>
<rect x="531.64" y="193.11" width="7.22" height="7.96" fill="#f1b6da"/>
<rect x="538.45" y="193.11" width="7.22" height="7.96" fill="#f1b6da"/>
<rect x="545.27" y="193.11" width="7.22" height="7.96" fill="#f1b6da"/>
<rect x="552.09" y="193.11" width="7.22" height="7.96" fill="#f1b6da"/>
<rect x="558.91" y="193.11" width="7.22" height="7.96" fill="#de77ae"/>
<rect x="565.73" y="193.11" width="7.22" height="7.96" fill="#f1b6da"/>
<rect x="572.55" y="193.11" width="7.22" height="7.96" fill="#f1b6da"/>
<rect x="579.36" y="193.11" width="7.22" height="7.96" fill="#de77ae"/>
<rect x="586.18" y="193.11" width="7.22" height="7.96" fill="#7fbc41"/>
<rect x="593.00" y="193.11" width="7.22" height="7.96" fill="#eef6e4"/>
<rect x="599.82" y="193.11" width="7.22" height="7.96" fill="#de77ae"/>
<rect x="606.64" y="193.11" width="7.22" height="7.96" fill="#fde0ef"/>
<rect x="613.45" y="193.11" width="7.22" height="7.96" fill="#e896c4"/>
<rect x="620.27" y="193.11" width="7.22" height="7.96" fill="#faecf3"/>
<rect x="627.09" y="193.11" width="7.22" height="7.96" fill="#faecf3"/>
<rect x="633.91" y="193.11" width="7.22" height="7.96" fill="#f7f7f7"/>
<rect x="640.73" y="193.11" width="7.22" height="7.96" fill="#eef6e4"/>
<rect x="647.55" y="193.11" width="7.22" height="7.96" fill="#fde0ef"/>
<rect x="654.36" y="193.11" width="7.22" height="7.96" fill="#f1b6da"/>
<rect x="661.18" y="193.11" width="7.22" height="7.96" fill="#fde0ef"/>
<rect x="68.00" y="200.67" width="7.22" height="7.96" fill="#aa0e68"/>
<rect x="74.82" y="200.67" width="7.22" height="7.96" fill="#d24996"/>
<rect x="81.64" y="200.67" width="7.22" height="7.96" fill="#faecf3"/>
<rect x="88.45" y="200.67" width="7.22" height="7.96" fill="#fde0ef"/>
<rect x="95.27" y="200.67" width="7.22" height="7.96" fill="#fde0ef"/>
<rect x="102.09" y="200.67" width="7.22" height="7.96" fill="#f7f7f7"/>
<rect x="108.91" y="200.67" width="7.22" height="7.96" fill="#faecf3"/>
<rect x="115.73" y="200.67" width="7.22" height="7.96" fill="#f7f7f7"/>
<rect x="122.55" y="200.67" width="7.22" height="7.96" fill="#f7cbe4"/>
<rect x="129.36" y="200.67" width="7.22" height="7.96" fill="#e896c4"/>
<rect x="136.18" y="200.67" width="7.22" height="7.96" fill="#8e0152"/>
<rect x="143.00" y="200.67" width="7.22" height="7.96" fill="#c51b7d"/>
<rect x="149.82" y="200.67" width="7.22" height="7.96" fill="#fde0ef"/>
<rect x="156.64" y="200.67" width="7.22" height="7.96" fill="#c51b7d"/>
<rect x="163.45" y="200.67" width="7.22" height="7.96" fill="#fde0ef"/>
<rect x="170.27" y="200.67" width="7.22" height="7.96" fill="#fde0ef"/>
<rect x="177.09" y="200.67" width="7.22" height="7.96" fill="#e6f5d0"/>
<rect x="183.91" y="200.67" width="7.22" height="7.96" fill="#b8e186"/>
<rect x="190.73" y="200.67" width="7.22" height="7.96" fill="#cfebab"/>
<rect x="197.55" y="200.67" width="7.22" height="7.96" fill="#cfebab"/>
<rect x="204.36" y="200.67" width="7.22" height="7.96" fill="#7fbc41"/>
<rect x="211.18" y="200.67" width="7.22" height="7.96" fill="#7fbc41"/>
<rect x="218.00" y="200.67" width="7.22" height="7.96" fill="#cfebab"/>
<rect x="224.82" y="200.67" width="7.22" height="7.96" fill="#eef6e4"/>
<rect x="231.64" y="200.67" width="7.22" height="7.96" fill="#b8e186"/>
<rect x="238.45" y="200.67" width="7.22" height="7.96" fill="#eef6e4"/>
<rect x="245.27" y="200.67" width="7.22" height="7.96" fill="#4d9221"/>
<rect x="252.09" y="200.67" width="7.22" height="7.96" fill="#276419"/>
<rect x="258.91" y="200.67" width="7.22" height="7.96" fill="#7fbc41"/>
<rect x="265.73" y="200.67" width="7.22" height="7.96" fill="#b8e186"/>
<rect x="272.55" y="200.67" width="7.22" height="7.96" fill="#9cce64"/>
<rect x="279.36" y="200.67" width="7.22" height="7.96" fill="#e6f5d0"/>
<rect x="286.18" y="200.67" width="7.22" height="7.96" fill="#eef6e4"/>
<rect x="293.00" y="200.67" width="7.22" height="7.96" fill="#eef6e4"/>
<rect x="299.82" y="200.67" width="7.22" height="7.96" fill="#eef6e4"/>
<rect x="306.64" y="200.67" width="7.22" height="7.96" fill="#e6f5d0"/>
<rect x="313.45" y="200.67" width="7.22" height="7.96" fill="#faecf3"/>
<rect x="320.27" y="200.67" width="7.22" height="7.96" fill="#eef6e4"/>
<rect x="327.09" y="200.67" width="7.22" height="7.96" fill="#eef6e4"/>
<rect x="333.91" y="200.67" width="7.22" height="7.96" fill="#b8e186"/>
<rect x="340.73" y="200.67" width="7.22" height="7.96" fill="#c51b7d"/>
<rect x="347.55" y="200.67" width="7.22" height="7.96" fill="#8e0152"/>
<rect x="354.36" y="200.67" width="7.22" height="7.96" fill="#de77ae"/>
<rect x="361.18" y="200.67" width="7.22" height="7.96" fill="#d24996"/>
<rect x="368.00" y="200.67" width="7.22" height="7.96" fill="#aa0e68"/>
<rect x="374.82" y="200.67" width="7.22" height="7.96" fill="#aa0e68"/>
<rect x="381.64" y="200.67" width="7.22" height="7.96" fill="#aa0e68"/>
<rect x="388.45" y="200.67" width="7.22" height="7.96" fill="#e896c4"/>
<rect x="395.27" y="200.67" width="7.22" height="7.96" fill="#f1b6da"/>
<rect x="402.09" y="200.67" width="7.22" height="7.96" fill="#faecf3"/>
<rect x="408.91" y="200.67" width="7.22" height="7.96" fill="#fde0ef"/>
<rect x="415.73" y="200.67" width="7.22" height="7.96" fill="#f7cbe4"/>
<rect x="422.55" y="200.67" width="7.22" height="7.96" fill="#f7cbe4"/>
<rect x="429.36" y="200.67" width="7.22" height="7.96" fill="#e896c4"/>
<rect x="436.18" y="200.67" width="7.22" height="7.96" fill="#c51b7d"/>
<rect x="443.00" y="200.67" width="7.22" height="7.96" fill="#fde0ef"/>
<rect x="449.82" y="200.67" width="7.22" height="7.96" fill="#f7f7f7"/>
<rect x="456.64" y="200.67" width="7.22" height="7.96" fill="#e896c4"/>
<rect x="463.45" y="200.67" width="7.22" height="7.96" fill="#f1b6da"/>
<rect x="470.27" y="200.67" width="7.22" height="7.96" fill="#eef6e4"/>
<rect x="477.09" y="200.67" width="7.22" height="7.96" fill="#fde0ef"/>
<rect x="483.91" y="200.67" width="7.22" height="7.96" fill="#3a7b1d"/>
<rect x="490.73" y="200.67" width="7.22" height="7.96" fill="#66a731"/>
<rect x="497.55" y="200.67" width="7.22" height="7.96" fill="#7fbc41"/>
<rect x="504.36" y="200.67" width="7.22" height="7.96" fill="#7fbc41"/>
<rect x="511.18" y="200.67" width="7.22" height="7.96" fill="#e6f5d0"/>
<rect x="518.00" y="200.67" width="7.22" height="7.96" fill="#eef6e4"/>
<rect x="524.82" y="200.67" width="7.22" height="7.96" fill="#f7f7f7"/>
<rect x="531.64" y="200.67" width="7.22" height="7.96" fill="#eef6e4"/>
<rect x="538.45" y="200.67" width="7.22" height="7.96" fill="#f7f7f7"/>
<rect x="545.27" y="200.67" width="7.22" height="7.96" fill="#faecf3"/>
<rect x="552.09" y="200.67" width="7.22" height="7.96" fill="#faecf3"/>
<rect x="558.91" y="200.67" width="7.22" height="7.96" fill="#f7cbe4"/>
<rect x="565.73" y="200.67" width="7.22" height="7.96" fill="#f7f7f7"/>
<rect x="572.55" y="200.67" width="7.22" height="7.96" fill="#f7f7f7"/>
<rect x="579.36" y="200.67" width="7.22" height="7.96" fill="#faecf3"/>
<rect x="586.18" y="200.67" width="7.22" height="7.96" fill="#fde0ef"/>
<rect x="593.00" y="200.67" width="7.22" height="7.96" fill="#fde0ef"/>
<rect x="599.82" y="200.67" width="7.22" height="7.96" fill="#f7f7f7"/>
<rect x="606.64" y="200.67" width="7.22" height="7.96" fill="#eef6e4"/>
<rect x="613.45" y="200.67" width="7.22" height="7.96" fill="#eef6e4"/>
<rect x="620.27" y="200.67" width="7.22" height="7.96" fill="#e896c4"/>
<rect x="627.09" y="200.67" width="7.22" height="7.96" fill="#276419"/>
<rect x="633.91" y="200.67" width="7.22" height="7.96" fill="#276419"/>
<rect x="640.73" y="200.67" width="7.22" height="7.96" fill="#4d9221"/>
<rect x="647.55" y="200.67" width="7.22" height="7.96" fill="#3a7b1d"/>
<rect x="654.36" y="200.67" width="7.22" height="7.96" fill="#f7f7f7"/>
<rect x="661.18" y="200.67" width="7.22" height="7.96" fill="#e6f5d0"/>
<rect x="68.00" y="208.22" width="7.22" height="7.96" fill="#f7cbe4"/>
<rect x="74.82" y="208.22" width="7.22" height="7.96" fill="#eef6e4"/>
<rect x="81.64" y="208.22" width="7.22" height="7.96" fill="#f7f7f7"/>
<rect x="88.45" y="208.22" width="7.22" height="7.96" fill="#fde0ef"/>
<rect x="95.27" y="208.22" width="7.22" height="7.96" fill="#fde0ef"/>
<rect x="102.09" y="208.22" width="7.22" height="7.96" fill="#e6f5d0"/>
<rect x="108.91" y="208.22" width="7.22" height="7.96" fill="#e6f5d0"/>
<rect x="115.73" y="208.22" width="7.22" height="7.96" fill="#7fbc41"/>
<rect x="122.55" y="208.22" width="7.22" height="7.96" fill="#faecf3"/>
<rect x="129.36" y="208.22" width="7.22" height="7.96" fill="#f1b6da"/>
<rect x="136.18" y="208.22" width="7.22" height="7.96" fill="#faecf3"/>
<rect x="143.00" y="208.22" width="7.22" height="7.96" fill="#d24996"/>
<rect x="149.82" y="208.22" width="7.22" height="7.96" fill="#eef6e4"/>
<rect x="156.64" y="208.22" width="7.22" height="7.96" fill="#b8e186"/>
<rect x="163.45" y="208.22" width="7.22" height="7.96" fill="#f7cbe4"/>
<rect x="170.27" y="208.22" width="7.22" height="7.96" fill="#faecf3"/>
<rect x="177.09" y="208.22" width="7.22" height="7.96" fill="#b8e186"/>
<rect x="183.91" y="208.22" width="7.22" height="7.96" fill="#f7f7f7"/>
<rect x="190.73" y="208.22" width="7.22" height="7.96" fill="#cfebab"/>
<rect x="197.55" y="208.22" width="7.22" height="7.96" fill="#cfebab"/>
<rect x="204.36" y="208.22" width="7.22" height="7.96" fill="#b8e186"/>
<rect x="211.18" y="208.22" width="7.22" height="7.96" fill="#b8e186"/>
<rect x="218.00" y="208.22" width="7.22" height="7.96" fill="#f7f7f7"/>
<rect x="224.82" y="208.22" width="7.22" height="7.96" fill="#e6f5d0"/>
<rect x="231.64" y="208.22" width="7.22" height="7.96" fill="#e6f5d0"/>
<rect x="238.45" y="208.22" width="7.22" height="7.96" fill="#f1b6da"/>
<rect x="245.27" y="208.22" width="7.22" height="7.96" fill="#66a731"/>
<rect x="252.09" y="208.22" width="7.22" height="7.96" fill="#7fbc41"/>
<rect x="258.91" y="208.22" width="7.22" height="7.96" fill="#cfebab"/>
<rect x="265.73" y="208.22" width="7.22" height="7.96" fill="#fde0ef"/>
<rect x="272.55" y="208.22" width="7.22" height="7.96" fill="#3a7b1d"/>
<rect x="279.36" y="208.22" width="7.22" height="7.96" fill="#cfebab"/>
<rect x="286.18" y="208.22" width="7.22" height="7.96" fill="#eef6e4"/>
<rect x="293.00" y="208.22" width="7.22" height="7.96" fill="#4d9221"/>
<rect x="299.82" y="208.22" width="7.22" height="7.96" fill="#b8e186"/>
<rect x="306.64" y="208.22" width="7.22" height="7.96" fill="#66a731"/>
<rect x="313.45" y="208.22" width="7.22" height="7.96" fill="#e6f5d0"/>
<rect x="320.27" y="208.22" width="7.22" height="7.96" fill="#e6f5d0"/>
<rect x="327.09" y="208.22" width="7.22" height="7.96" fill="#b8e186"/>
<rect x="333.91" y="208.22" width="7.22" height="7.96" fill="#e6f5d0"/>
<rect x="340.73" y="208.22" width="7.22" height="7.96" fill="#c51b7d"/>
<rect x="347.55" y="208.22" width="7.22" height="7.96" fill="#aa0e68"/>
<rect x="354.36" y="208.22" width="7.22" height="7.96" fill="#f1b6da"/>
<rect x="361.18" y="208.22" width="7.22" height="7.96" fill="#aa0e68"/>
<rect x="368.00" y="208.22" width="7.22" height="7.96" fill="#de77ae"/>
<rect x="374.82" y="208.22" width="7.22" height="7.96" fill="#de77ae"/>
<rect x="381.64" y="208.22" width="7.22" height="7.96" fill="#aa0e68"/>
<rect x="388.45" y="208.22" width="7.22" height="7.96" fill="#e896c4"/>
<rect x="395.27" y="208.22" width="7.22" height="7.96" fill="#de77ae"/>
<rect x="402.09" y="208.22" width="7.22" height="7.96" fill="#f7cbe4"/>
<rect x="408.91" y="208.22" width="7.22" height="7.96" fill="#e896c4"/>
<rect x="415.73" y="208.22" width="7.22" height="7.96" fill="#de77ae"/>
<rect x="422.55" y="208.22" width="7.22" height="7.96" fill="#e896c4"/>
<rect x="429.36" y="208.22" width="7.22" height="7.96" fill="#d24996"/>
<rect x="436.18" y="208.22" width="7.22" height="7.96" fill="#c51b7d"/>
<rect x="443.00" y="208.22" width="7.22" height="7.96" fill="#f7cbe4"/>
<rect x="449.82" y="208.22" width="7.22" height="7.96" fill="#f7cbe4"/>
<rect x="456.64" y="208.22" width="7.22" height="7.96" fill="#cfebab"/>
<rect x="463.45" y="208.22" width="7.22" height="7.96" fill="#f1b6da"/>
<rect x="470.27" y="208.22" width="7.22" height="7.96" fill="#f7f7f7"/>
<rect x="477.09" y="208.22" width="7.22" height="7.96" fill="#faecf3"/>
<rect x="483.91" y="208.22" width="7.22" height="7.96" fill="#aa0e68"/>
<rect x="490.73" y="208.22" width="7.22" height="7.96" fill="#faecf3"/>
<rect x="497.55" y="208.22" width="7.22" height="7.96" fill="#f7f7f7"/>
<rect x="504.36" y="208.22" width="7.22" height="7.96" fill="#f7f7f7"/>
<rect x="511.18" y="208.22" width="7.22" height="7.96" fill="#f7f7f7"/>
<rect x="518.00" y="208.22" width="7.22" height="7.96" fill="#faecf3"/>
<rect x="524.82" y="208.22" width="7.22" height="7.96" fill="#faecf3"/>
<rect x="531.64" y="208.22" width="7.22" height="7.96" fill="#faecf3"/>
<rect x="538.45" y="208.22" width="7.22" height="7.96" fill="#fde0ef"/>
<rect x="545.27" y="208.22" width="7.22" height="7.96" fill="#faecf3"/>
<rect x="552.09" y="208.22" width="7.22" height="7.96" fill="#f7cbe4"/>
<rect x="558.91" y="208.22" width="7.22" height="7.96" fill="#f7cbe4"/>
<rect x="565.73" y="208.22" width="7.22" height="7.96" fill="#f7cbe4"/>
<rect x="572.55" y="208.22" width="7.22" height="7.96" fill="#fde0ef"/>
<rect x="579.36" y="208.22" width="7.22" height="7.96" fill="#f7cbe4"/>
<rect x="586.18" y="208.22" width="7.22" height="7.96" fill="#eef6e4"/>
<rect x="593.00" y="208.22" width="7.22" height="7.96" fill="#fde0ef"/>
<rect x="599.82" y="208.22" width="7.22" height="7.96" fill="#f7cbe4"/>
<rect x="606.64" y="208.22" width="7.22" height="7.96" fill="#f7cbe4"/>
<rect x="613.45" y="208.22" width="7.22" height="7.96" fill="#e896c4"/>
<rect x="620.27" y="208.22" width="7.22" height="7.96" fill="#e896c4"/>
<rect x="627.09" y="208.22" width="7.22" height="7.96" fill="#9cce64"/>
<rect x="633.91" y="208.22" width="7.22" height="7.96" fill="#9cce64"/>
<rect x="640.73" y="208.22" width="7.22" height="7.96" fill="#b8e186"/>
<rect x="647.55" y="208.22" width="7.22" height="7.96" fill="#b8e186"/>
<rect x="654.36" y="208.22" width="7.22" height="7.96" fill="#fde0ef"/>
<rect x="661.18" y="208.22" width="7.22" height="7.96" fill="#f7f7f7"/>
<rect x="68.00" y="215.78" width="7.22" height="7.96" fill="#e896c4"/>
<rect x="74.82" y="215.78" width="7.22" height="7.96" fill="#f7cbe4"/>
<rect x="81.64" y="215.78" width="7.22" height="7.96" fill="#fde0ef"/>
<rect x="88.45" y="215.78" width="7.22" height="7.96" fill="#de77ae"/>
<rect x="95.27" y="215.78" width="7.22" height="7.96" fill="#de77ae"/>
<rect x="102.09" y="215.78" width="7.22" height="7.96" fill="#fde0ef"/>
<rect x="108.91" y="215.78" width="7.22" height="7.96" fill="#fde0ef"/>
<rect x="115.73" y="215.78" width="7.22" height="7.96" fill="#f7cbe4"/>
<rect x="122.55" y="215.78" width="7.22" height="7.96" fill="#f7cbe4"/>
<rect x="129.36" y="215.78" width="7.22" height="7.96" fill="#d24996"/>
<rect x="136.18" y="215.78" width="7.22" height="7.96" fill="#d24996"/>
<rect x="143.00" y="215.78" width="7.22" height="7.96" fill="#8e0152"/>
<rect x="149.82" y="215.78" width="7.22" height="7.96" fill="#e896c4"/>
<rect x="156.64" y="215.78" width="7.22" height="7.96" fill="#d24996"/>
<rect x="163.45" y="215.78" width="7.22" height="7.96" fill="#fde0ef"/>
<rect x="170.27" y="215.78" width="7.22" height="7.96" fill="#7fbc41"/>
<rect x="177.09" y="215.78" width="7.22" height="7.96" fill="#9cce64"/>
<rect x="183.91" y="215.78" width="7.22" height="7.96" fill="#7fbc41"/>
<rect x="190.73" y="215.78" width="7.22" height="7.96" fill="#cfebab"/>
<rect x="197.55" y="215.78" width="7.22" height="7.96" fill="#7fbc41"/>
<rect x="204.36" y="215.78" width="7.22" height="7.96" fill="#7fbc41"/>
<rect x="211.18" y="215.78" width="7.22" height="7.96" fill="#7fbc41"/>
<rect x="218.00" y="215.78" width="7.22" height="7.96" fill="#9cce64"/>
<rect x="224.82" y="215.78" width="7.22" height="7.96" fill="#b8e186"/>
<rect x="231.64" y="215.78" width="7.22" height="7.96" fill="#7fbc41"/>
<rect x="238.45" y="215.78" width="7.22" height="7.96" fill="#7fbc41"/>
<rect x="245.27" y="215.78" width="7.22" height="7.96" fill="#66a731"/>
<rect x="252.09" y="215.78" width="7.22" height="7.96" fill="#4d9221"/>
<rect x="258.91" y="215.78" width="7.22" height="7.96" fill="#cfebab"/>
<rect x="265.73" y="215.78" width="7.22" height="7.96" fill="#9cce64"/>
<rect x="272.55" y="215.78" width="7.22" height="7.96" fill="#eef6e4"/>
<rect x="279.36" y="215.78" width="7.22" height="7.96" fill="#e6f5d0"/>
<rect x="286.18" y="215.78" width="7.22" height="7.96" fill="#faecf3"/>
<rect x="293.00" y="215.78" width="7.22" height="7.96" fill="#b8e186"/>
<rect x="299.82" y="215.78" width="7.22" height="7.96" fill="#9cce64"/>
<rect x="306.64" y="215.78" width="7.22" height="7.96" fill="#cfebab"/>
<rect x="313.45" y="215.78" width="7.22" height="7.96" fill="#f7f7f7"/>
<rect x="320.27" y="215.78" width="7.22" height="7.96" fill="#e6f5d0"/>
<rect x="327.09" y="215.78" width="7.22" height="7.96" fill="#eef6e4"/>
<rect x="333.91" y="215.78" width="7.22" height="7.96" fill="#7fbc41"/>
<rect x="340.73" y="215.78" width="7.22" height="7.96" fill="#8e0152"/>
<rect x="347.55" y="215.78" width="7.22" height="7.96" fill="#aa0e68"/>
<rect x="354.36" y="215.78" width="7.22" height="7.96" fill="#de77ae"/>
<rect x="361.18" y="215.78" width="7.22" height="7.96" fill="#d24996"/>
<rect x="368.00" y="215.78" width="7.22" height="7.96" fill="#c51b7d"/>
<rect x="374.82" y="215.78" width="7.22" height="7.96" fill="#c51b7d"/>
<rect x="381.64" y="215.78" width="7.22" height="7.96" fill="#aa0e68"/>
<rect x="388.45" y="215.78" width="7.22" height="7.96" fill="#de77ae"/>
<rect x="395.27" y="215.78" width="7.22" height="7.96" fill="#e896c4"/>
<rect x="402.09" y="215.78" width="7.22" height="7.96" fill="#fde0ef"/>
<rect x="408.91" y="215.78" width="7.22" height="7.96" fill="#f7f7f7"/>
<rect x="415.73" y="215.78" width="7.22" height="7.96" fill="#f7cbe4"/>
<rect x="422.55" y="215.78" width="7.22" height="7.96" fill="#d24996"/>
<rect x="429.36" y="215.78" width="7.22" height="7.96" fill="#f1b6da"/>
<rect x="436.18" y="215.78" width="7.22" height="7.96" fill="#fde0ef"/>
<rect x="443.00" y="215.78" width="7.22" height="7.96" fill="#f1b6da"/>
<rect x="449.82" y="215.78" width="7.22" height="7.96" fill="#f1b6da"/>
<rect x="456.64" y="215.78" width="7.22" height="7.96" fill="#faecf3"/>
<rect x="463.45" y="215.78" width="7.22" height="7.96" fill="#de77ae"/>
<rect x="470.27" y="215.78" width="7.22" height="7.96" fill="#f7f7f7"/>
<rect x="477.09" y="215.78" width="7.22" height="7.96" fill="#f7cbe4"/>
<rect x="483.91" y="215.78" width="7.22" height="7.96" fill="#eef6e4"/>
<rect x="490.73" y="215.78" width="7.22" height="7.96" fill="#fde0ef"/>
<rect x="497.55" y="215.78" width="7.22" height="7.96" fill="#fde0ef"/>
<rect x="504.36" y="215.78" width="7.22" height="7.96" fill="#fde0ef"/>
<rect x="511.18" y="215.78" width="7.22" height="7.96" fill="#cfebab"/>
<rect x="518.00" y="215.78" width="7.22" height="7.96" fill="#e6f5d0"/>
<rect x="524.82" y="215.78" width="7.22" height="7.96" fill="#eef6e4"/>
<rect x="531.64" y="215.78" width="7.22" height="7.96" fill="#eef6e4"/>
<rect x="538.45" y="215.78" width="7.22" height="7.96" fill="#eef6e4"/>
<rect x="545.27" y="215.78" width="7.22" height="7.96" fill="#f7f7f7"/>
<rect x="552.09" y="215.78" width="7.22" height="7.96" fill="#faecf3"/>
<rect x="558.91" y="215.78" width="7.22" height="7.96" fill="#faecf3"/>
<rect x="565.73" y="215.78" width="7.22" height="7.96" fill="#e6f5d0"/>
<rect x="572.55" y="215.78" width="7.22" height="7.96" fill="#eef6e4"/>
<rect x="579.36" y="215.78" width="7.22" height="7.96" fill="#f7f7f7"/>
<rect x="586.18" y="215.78" width="7.22" height="7.96" fill="#faecf3"/>
<rect x="593.00" y="215.78" width="7.22" height="7.96" fill="#faecf3"/>
<rect x="599.82" y="215.78" width="7.22" height="7.96" fill="#fde0ef"/>
<rect x="606.64" y="215.78" width="7.22" height="7.96" fill="#66a731"/>
<rect x="613.45" y="215.78" width="7.22" height="7.96" fill="#f7f7f7"/>
<rect x="620.27" y="215.78" width="7.22" height="7.96" fill="#faecf3"/>
<rect x="627.09" y="215.78" width="7.22" height="7.96" fill="#66a731"/>
<rect x="633.91" y="215.78" width="7.22" height="7.96" fill="#66a731"/>
<rect x="640.73" y="215.78" width="7.22" height="7.96" fill="#4d9221"/>
<rect x="647.55" y="215.78" width="7.22" height="7.96" fill="#276419"/>
<rect x="654.36" y="215.78" width="7.22" height="7.96" fill="#faecf3"/>
<rect x="661.18" y="215.78" width="7.22" height="7.96" fill="#9cce64"/>
<rect x="68.00" y="223.33" width="7.22" height="7.96" fill="#f7f7f7"/>
<rect x="74.82" y="223.33" width="7.22" height="7.96" fill="#f7f7f7"/>
<rect x="81.64" y="223.33" width="7.22" height="7.96" fill="#e6f5d0"/>
<rect x="88.45" y="223.33" width="7.22" height="7.96" fill="#f1b6da"/>
<rect x="95.27" y="223.33" width="7.22" height="7.96" fill="#f1b6da"/>
<rect x="102.09" y="223.33" width="7.22" height="7.96" fill="#f7f7f7"/>
<rect x="108.91" y="223.33" width="7.22" height="7.96" fill="#fde0ef"/>
<rect x="115.73" y="223.33" width="7.22" height="7.96" fill="#eef6e4"/>
<rect x="122.55" y="223.33" width="7.22" height="7.96" fill="#e896c4"/>
<rect x="129.36" y="223.33" width="7.22" height="7.96" fill="#e6f5d0"/>
<rect x="136.18" y="223.33" width="7.22" height="7.96" fill="#faecf3"/>
<rect x="143.00" y="223.33" width="7.22" height="7.96" fill="#f7cbe4"/>
<rect x="149.82" y="223.33" width="7.22" height="7.96" fill="#de77ae"/>
<rect x="156.64" y="223.33" width="7.22" height="7.96" fill="#e896c4"/>
<rect x="163.45" y="223.33" width="7.22" height="7.96" fill="#276419"/>
<rect x="170.27" y="223.33" width="7.22" height="7.96" fill="#7fbc41"/>
<rect x="177.09" y="223.33" width="7.22" height="7.96" fill="#7fbc41"/>
<rect x="183.91" y="223.33" width="7.22" height="7.96" fill="#7fbc41"/>
<rect x="190.73" y="223.33" width="7.22" height="7.96" fill="#276419"/>
<rect x="197.55" y="223.33" width="7.22" height="7.96" fill="#276419"/>
<rect x="204.36" y="223.33" width="7.22" height="7.96" fill="#276419"/>
<rect x="211.18" y="223.33" width="7.22" height="7.96" fill="#3a7b1d"/>
<rect x="218.00" y="223.33" width="7.22" height="7.96" fill="#7fbc41"/>
<rect x="224.82" y="223.33" width="7.22" height="7.96" fill="#66a731"/>
<rect x="231.64" y="223.33" width="7.22" height="7.96" fill="#276419"/>
<rect x="238.45" y="223.33" width="7.22" height="7.96" fill="#f7cbe4"/>
<rect x="245.27" y="223.33" width="7.22" height="7.96" fill="#4d9221"/>
<rect x="252.09" y="223.33" width="7.22" height="7.96" fill="#276419"/>
<rect x="258.91" y="223.33" width="7.22" height="7.96" fill="#9cce64"/>
<rect x="265.73" y="223.33" width="7.22" height="7.96" fill="#cfebab"/>
<rect x="272.55" y="223.33" width="7.22" height="7.96" fill="#7fbc41"/>
<rect x="279.36" y="223.33" width="7.22" height="7.96" fill="#276419"/>
<rect x="286.18" y="223.33" width="7.22" height="7.96" fill="#276419"/>
<rect x="293.00" y="223.33" width="7.22" height="7.96" fill="#4d9221"/>
<rect x="299.82" y="223.33" width="7.22" height="7.96" fill="#4d9221"/>
<rect x="306.64" y="223.33" width="7.22" height="7.96" fill="#4d9221"/>
<rect x="313.45" y="223.33" width="7.22" height="7.96" fill="#e6f5d0"/>
<rect x="320.27" y="223.33" width="7.22" height="7.96" fill="#276419"/>
<rect x="327.09" y="223.33" width="7.22" height="7.96" fill="#7fbc41"/>
<rect x="333.91" y="223.33" width="7.22" height="7.96" fill="#7fbc41"/>
<rect x="340.73" y="223.33" width="7.22" height="7.96" fill="#e896c4"/>
<rect x="347.55" y="223.33" width="7.22" height="7.96" fill="#f7f7f7"/>
<rect x="354.36" y="223.33" width="7.22" height="7.96" fill="#faecf3"/>
<rect x="361.18" y="223.33" width="7.22" height="7.96" fill="#faecf3"/>
<rect x="368.00" y="223.33" width="7.22" height="7.96" fill="#de77ae"/>
<rect x="374.82" y="223.33" width="7.22" height="7.96" fill="#de77ae"/>
<rect x="381.64" y="223.33" width="7.22" height="7.96" fill="#d24996"/>
<rect x="388.45" y="223.33" width="7.22" height="7.96" fill="#f1b6da"/>
<rect x="395.27" y="223.33" width="7.22" height="7.96" fill="#aa0e68"/>
<rect x="402.09" y="223.33" width="7.22" height="7.96" fill="#f1b6da"/>
<rect x="408.91" y="223.33" width="7.22" height="7.96" fill="#f1b6da"/>
<rect x="415.73" y="223.33" width="7.22" height="7.96" fill="#f1b6da"/>
<rect x="422.55" y="223.33" width="7.22" height="7.96" fill="#d24996"/>
<rect x="429.36" y="223.33" width="7.22" height="7.96" fill="#c51b7d"/>
<rect x="436.18" y="223.33" width="7.22" height="7.96" fill="#aa0e68"/>
<rect x="443.00" y="223.33" width="7.22" height="7.96" fill="#276419"/>
<rect x="449.82" y="223.33" width="7.22" height="7.96" fill="#276419"/>
<rect x="456.64" y="223.33" width="7.22" height="7.96" fill="#b8e186"/>
<rect x="463.45" y="223.33" width="7.22" height="7.96" fill="#7fbc41"/>
<rect x="470.27" y="223.33" width="7.22" height="7.96" fill="#e6f5d0"/>
<rect x="477.09" y="223.33" width="7.22" height="7.96" fill="#f7f7f7"/>
<rect x="483.91" y="223.33" width="7.22" height="7.96" fill="#f7cbe4"/>
<rect x="490.73" y="223.33" width="7.22" height="7.96" fill="#d24996"/>
<rect x="497.55" y="223.33" width="7.22" height="7.96" fill="#f1b6da"/>
<rect x="504.36" y="223.33" width="7.22" height="7.96" fill="#f1b6da"/>
<rect x="511.18" y="223.33" width="7.22" height="7.96" fill="#f7f7f7"/>
<rect x="518.00" y="223.33" width="7.22" height="7.96" fill="#fde0ef"/>
<rect x="524.82" y="223.33" width="7.22" height="7.96" fill="#f7cbe4"/>
<rect x="531.64" y="223.33" width="7.22" height="7.96" fill="#f1b6da"/>
<rect x="538.45" y="223.33" width="7.22" height="7.96" fill="#f1b6da"/>
<rect x="545.27" y="223.33" width="7.22" height="7.96" fill="#fde0ef"/>
<rect x="552.09" y="223.33" width="7.22" height="7.96" fill="#f7cbe4"/>
<rect x="558.91" y="223.33" width="7.22" height="7.96" fill="#fde0ef"/>
<rect x="565.73" y="223.33" width="7.22" height="7.96" fill="#faecf3"/>
<rect x="572.55" y="223.33" width="7.22" height="7.96" fill="#faecf3"/>
<rect x="579.36" y="223.33" width="7.22" height="7.96" fill="#faecf3"/>
<rect x="586.18" y="223.33" width="7.22" height="7.96" fill="#f1b6da"/>
<rect x="593.00" y="223.33" width="7.22" height="7.96" fill="#faecf3"/>
<rect x="599.82" y="223.33" width="7.22" height="7.96" fill="#faecf3"/>
<rect x="606.64" y="223.33" width="7.22" height="7.96" fill="#f7f7f7"/>
<rect x="613.45" y="223.33" width="7.22" height="7.96" fill="#276419"/>
<rect x="620.27" y="223.33" width="7.22" height="7.96" fill="#4d9221"/>
<rect x="627.09" y="223.33" width="7.22" height="7.96" fill="#3a7b1d"/>
<rect x="633.91" y="223.33" width="7.22" height="7.96" fill="#4d9221"/>
<rect x="640.73" y="223.33" width="7.22" height="7.96" fill="#66a731"/>
<rect x="647.55" y="223.33" width="7.22" height="7.96" fill="#9cce64"/>
<rect x="654.36" y="223.33" width="7.22" height="7.96" fill="#9cce64"/>
<rect x="661.18" y="223.33" width="7.22" height="7.96" fill="#e6f5d0"/>
<rect x="68.00" y="230.89" width="7.22" height="7.96" fill="#8e0152"/>
<rect x="74.82" y="230.89" width="7.22" height="7.96" fill="#aa0e68"/>
<rect x="81.64" y="230.89" width="7.22" height="7.96" fill="#f7f7f7"/>
<rect x="88.45" y="230.89" width="7.22" height="7.96" fill="#f7cbe4"/>
<rect x="95.27" y="230.89" width="7.22" height="7.96" fill="#f1b6da"/>
<rect x="102.09" y="230.89" width="7.22" height="7.96" fill="#fde0ef"/>
<rect x="108.91" y="230.89" width="7.22" height="7.96" fill="#fde0ef"/>
<rect x="115.73" y="230.89" width="7.22" height="7.96" fill="#de77ae"/>
<rect x="122.55" y="230.89" width="7.22" height="7.96" fill="#f1b6da"/>
<rect x="129.36" y="230.89" width="7.22" height="7.96" fill="#fde0ef"/>
<rect x="136.18" y="230.89" width="7.22" height="7.96" fill="#d24996"/>
<rect x="143.00" y="230.89" width="7.22" height="7.96" fill="#d24996"/>
<rect x="149.82" y="230.89" width="7.22" height="7.96" fill="#f1b6da"/>
<rect x="156.64" y="230.89" width="7.22" height="7.96" fill="#c51b7d"/>
<rect x="163.45" y="230.89" width="7.22" height="7.96" fill="#cfebab"/>
<rect x="170.27" y="230.89" width="7.22" height="7.96" fill="#9cce64"/>
<rect x="177.09" y="230.89" width="7.22" height="7.96" fill="#b8e186"/>
<rect x="183.91" y="230.89" width="7.22" height="7.96" fill="#4d9221"/>
<rect x="190.73" y="230.89" width="7.22" height="7.96" fill="#7fbc41"/>
<rect x="197.55" y="230.89" width="7.22" height="7.96" fill="#66a731"/>
<rect x="204.36" y="230.89" width="7.22" height="7.96" fill="#7fbc41"/>
<rect x="211.18" y="230.89" width="7.22" height="7.96" fill="#66a731"/>
<rect x="218.00" y="230.89" width="7.22" height="7.96" fill="#66a731"/>
<rect x="224.82" y="230.89" width="7.22" height="7.96" fill="#66a731"/>
<rect x="231.64" y="230.89" width="7.22" height="7.96" fill="#4d9221"/>
<rect x="238.45" y="230.89" width="7.22" height="7.96" fill="#7fbc41"/>
<rect x="245.27" y="230.89" width="7.22" height="7.96" fill="#66a731"/>
<rect x="252.09" y="230.89" width="7.22" height="7.96" fill="#9cce64"/>
<rect x="258.91" y="230.89" width="7.22" height="7.96" fill="#b8e186"/>
<rect x="265.73" y="230.89" width="7.22" height="7.96" fill="#cfebab"/>
<rect x="272.55" y="230.89" width="7.22" height="7.96" fill="#cfebab"/>
<rect x="279.36" y="230.89" width="7.22" height="7.96" fill="#e6f5d0"/>
<rect x="286.18" y="230.89" width="7.22" height="7.96" fill="#cfebab"/>
<rect x="293.00" y="230.89" width="7.22" height="7.96" fill="#7fbc41"/>
<rect x="299.82" y="230.89" width="7.22" height="7.96" fill="#66a731"/>
<rect x="306.64" y="230.89" width="7.22" height="7.96" fill="#7fbc41"/>
<rect x="313.45" y="230.89" width="7.22" height="7.96" fill="#7fbc41"/>
<rect x="320.27" y="230.89" width="7.22" height="7.96" fill="#b8e186"/>
<rect x="327.09" y="230.89" width="7.22" height="7.96" fill="#9cce64"/>
<rect x="333.91" y="230.89" width="7.22" height="7.96" fill="#4d9221"/>
<rect x="340.73" y="230.89" width="7.22" height="7.96" fill="#c51b7d"/>
<rect x="347.55" y="230.89" width="7.22" height="7.96" fill="#d24996"/>
<rect x="354.36" y="230.89" width="7.22" height="7.96" fill="#eef6e4"/>
<rect x="361.18" y="230.89" width="7.22" height="7.96" fill="#f1b6da"/>
<rect x="368.00" y="230.89" width="7.22" height="7.96" fill="#d24996"/>
<rect x="374.82" y="230.89" width="7.22" height="7.96" fill="#de77ae"/>
<rect x="381.64" y="230.89" width="7.22" height="7.96" fill="#d24996"/>
<rect x="388.45" y="230.89" width="7.22" height="7.96" fill="#f1b6da"/>
<rect x="395.27" y="230.89" width="7.22" height="7.96" fill="#c51b7d"/>
<rect x="402.09" y="230.89" width="7.22" height="7.96" fill="#f1b6da"/>
<rect x="408.91" y="230.89" width="7.22" height="7.96" fill="#faecf3"/>
<rect x="415.73" y="230.89" width="7.22" height="7.96" fill="#fde0ef"/>
<rect x="422.55" y="230.89" width="7.22" height="7.96" fill="#f1b6da"/>
<rect x="429.36" y="230.89" width="7.22" height="7.96" fill="#de77ae"/>
<rect x="436.18" y="230.89" width="7.22" height="7.96" fill="#f7cbe4"/>
<rect x="443.00" y="230.89" width="7.22" height="7.96" fill="#de77ae"/>
<rect x="449.82" y="230.89" width="7.22" height="7.96" fill="#de77ae"/>
<rect x="456.64" y="230.89" width="7.22" height="7.96" fill="#faecf3"/>
<rect x="463.45" y="230.89" width="7.22" height="7.96" fill="#f1b6da"/>
<rect x="470.27" y="230.89" width="7.22" height="7.96" fill="#f7cbe4"/>
<rect x="477.09" y="230.89" width="7.22" height="7.96" fill="#fde0ef"/>
<rect x="483.91" y="230.89" width="7.22" height="7.96" fill="#eef6e4"/>
<rect x="490.73" y="230.89" width="7.22" height="7.96" fill="#4d9221"/>
<rect x="497.55" y="230.89" width="7.22" height="7.96" fill="#3a7b1d"/>
<rect x="504.36" y="230.89" width="7.22" height="7.96" fill="#3a7b1d"/>
<rect x="511.18" y="230.89" width="7.22" height="7.96" fill="#e6f5d0"/>
<rect x="518.00" y="230.89" width="7.22" height="7.96" fill="#eef6e4"/>
<rect x="524.82" y="230.89" width="7.22" height="7.96" fill="#f7f7f7"/>
<rect x="531.64" y="230.89" width="7.22" height="7.96" fill="#f7f7f7"/>
<rect x="538.45" y="230.89" width="7.22" height="7.96" fill="#faecf3"/>
<rect x="545.27" y="230.89" width="7.22" height="7.96" fill="#fde0ef"/>
<rect x="552.09" y="230.89" width="7.22" height="7.96" fill="#fde0ef"/>
<rect x="558.91" y="230.89" width="7.22" height="7.96" fill="#fde0ef"/>
<rect x="565.73" y="230.89" width="7.22" height="7.96" fill="#eef6e4"/>
<rect x="572.55" y="230.89" width="7.22" height="7.96" fill="#eef6e4"/>
<rect x="579.36" y="230.89" width="7.22" height="7.96" fill="#eef6e4"/>
<rect x="586.18" y="230.89" width="7.22" height="7.96" fill="#b8e186"/>
<rect x="593.00" y="230.89" width="7.22" height="7.96" fill="#b8e186"/>
<rect x="599.82" y="230.89" width="7.22" height="7.96" fill="#e6f5d0"/>
<rect x="606.64" y="230.89" width="7.22" height="7.96" fill="#7fbc41"/>
<rect x="613.45" y="230.89" width="7.22" height="7.96" fill="#f7f7f7"/>
<rect x="620.27" y="230.89" width="7.22" height="7.96" fill="#e6f5d0"/>
<rect x="627.09" y="230.89" width="7.22" height="7.96" fill="#f7f7f7"/>
<rect x="633.91" y="230.89" width="7.22" height="7.96" fill="#eef6e4"/>
<rect x="640.73" y="230.89" width="7.22" height="7.96" fill="#4d9221"/>
<rect x="647.55" y="230.89" width="7.22" height="7.96" fill="#4d9221"/>
<rect x="654.36" y="230.89" width="7.22" height="7.96" fill="#b8e186"/>
<rect x="661.18" y="230.89" width="7.22" height="7.96" fill="#b8e186"/>
<rect x="68.00" y="238.44" width="7.22" height="7.96" fill="#f7f7f7"/>
<rect x="74.82" y="238.44" width="7.22" height="7.96" fill="#fde0ef"/>
<rect x="81.64" y="238.44" width="7.22" height="7.96" fill="#e6f5d0"/>
<rect x="88.45" y="238.44" width="7.22" height="7.96" fill="#faecf3"/>
<rect x="95.27" y="238.44" width="7.22" height="7.96" fill="#fde0ef"/>
<rect x="102.09" y="238.44" width="7.22" height="7.96" fill="#fde0ef"/>
<rect x="108.91" y="238.44" width="7.22" height="7.96" fill="#f7cbe4"/>
<rect x="115.73" y="238.44" width="7.22" height="7.96" fill="#8e0152"/>
<rect x="122.55" y="238.44" width="7.22" height="7.96" fill="#e896c4"/>
<rect x="129.36" y="238.44" width="7.22" height="7.96" fill="#f7f7f7"/>
<rect x="136.18" y="238.44" width="7.22" height="7.96" fill="#fde0ef"/>
<rect x="143.00" y="238.44" width="7.22" height="7.96" fill="#f1b6da"/>
<rect x="149.82" y="238.44" width="7.22" height="7.96" fill="#f1b6da"/>
<rect x="156.64" y="238.44" width="7.22" height="7.96" fill="#aa0e68"/>
<rect x="163.45" y="238.44" width="7.22" height="7.96" fill="#66a731"/>
<rect x="170.27" y="238.44" width="7.22" height="7.96" fill="#4d9221"/>
<rect x="177.09" y="238.44" width="7.22" height="7.96" fill="#7fbc41"/>
<rect x="183.91" y="238.44" width="7.22" height="7.96" fill="#276419"/>
<rect x="190.73" y="238.44" width="7.22" height="7.96" fill="#7fbc41"/>
<rect x="197.55" y="238.44" width="7.22" height="7.96" fill="#66a731"/>
<rect x="204.36" y="238.44" width="7.22" height="7.96" fill="#7fbc41"/>
<rect x="211.18" y="238.44" width="7.22" height="7.96" fill="#66a731"/>
<rect x="218.00" y="238.44" width="7.22" height="7.96" fill="#276419"/>
<rect x="224.82" y="238.44" width="7.22" height="7.96" fill="#276419"/>
<rect x="231.64" y="238.44" width="7.22" height="7.96" fill="#276419"/>
<rect x="238.45" y="238.44" width="7.22" height="7.96" fill="#3a7b1d"/>
<rect x="245.27" y="238.44" width="7.22" height="7.96" fill="#4d9221"/>
<rect x="252.09" y="238.44" width="7.22" height="7.96" fill="#9cce64"/>
<rect x="258.91" y="238.44" width="7.22" height="7.96" fill="#b8e186"/>
<rect x="265.73" y="238.44" width="7.22" height="7.96" fill="#cfebab"/>
<rect x="272.55" y="238.44" width="7.22" height="7.96" fill="#f7f7f7"/>
<rect x="279.36" y="238.44" width="7.22" height="7.96" fill="#b8e186"/>
<rect x="286.18" y="238.44" width="7.22" height="7.96" fill="#cfebab"/>
<rect x="293.00" y="238.44" width="7.22" height="7.96" fill="#4d9221"/>
<rect x="299.82" y="238.44" width="7.22" height="7.96" fill="#276419"/>
<rect x="306.64" y="238.44" width="7.22" height="7.96" fill="#4d9221"/>
<rect x="313.45" y="238.44" width="7.22" height="7.96" fill="#9cce64"/>
<rect x="320.27" y="238.44" width="7.22" height="7.96" fill="#7fbc41"/>
<rect x="327.09" y="238.44" width="7.22" height="7.96" fill="#66a731"/>
<rect x="333.91" y="238.44" width="7.22" height="7.96" fill="#3a7b1d"/>
<rect x="340.73" y="238.44" width="7.22" height="7.96" fill="#de77ae"/>
<rect x="347.55" y="238.44" width="7.22" height="7.96" fill="#f7cbe4"/>
<rect x="354.36" y="238.44" width="7.22" height="7.96" fill="#b8e186"/>
<rect x="361.18" y="238.44" width="7.22" height="7.96" fill="#faecf3"/>
<rect x="368.00" y="238.44" width="7.22" height="7.96" fill="#d24996"/>
<rect x="374.82" y="238.44" width="7.22" height="7.96" fill="#de77ae"/>
<rect x="381.64" y="238.44" width="7.22" height="7.96" fill="#d24996"/>
<rect x="388.45" y="238.44" width="7.22" height="7.96" fill="#f1b6da"/>
<rect x="395.27" y="238.44" width="7.22" height="7.96" fill="#aa0e68"/>
<rect x="402.09" y="238.44" width="7.22" height="7.96" fill="#e896c4"/>
<rect x="408.91" y="238.44" width="7.22" height="7.96" fill="#faecf3"/>
<rect x="415.73" y="238.44" width="7.22" height="7.96" fill="#fde0ef"/>
<rect x="422.55" y="238.44" width="7.22" height="7.96" fill="#d24996"/>
<rect x="429.36" y="238.44" width="7.22" height="7.96" fill="#d24996"/>
<rect x="436.18" y="238.44" width="7.22" height="7.96" fill="#de77ae"/>
<rect x="443.00" y="238.44" width="7.22" height="7.96" fill="#f1b6da"/>
<rect x="449.82" y="238.44" width="7.22" height="7.96" fill="#f1b6da"/>
<rect x="456.64" y="238.44" width="7.22" height="7.96" fill="#66a731"/>
<rect x="463.45" y="238.44" width="7.22" height="7.96" fill="#faecf3"/>
<rect x="470.27" y="238.44" width="7.22" height="7.96" fill="#faecf3"/>
<rect x="477.09" y="238.44" width="7.22" height="7.96" fill="#faecf3"/>
<rect x="483.91" y="238.44" width="7.22" height="7.96" fill="#f7cbe4"/>
<rect x="490.73" y="238.44" width="7.22" height="7.96" fill="#f1b6da"/>
<rect x="497.55" y="238.44" width="7.22" height="7.96" fill="#f1b6da"/>
<rect x="504.36" y="238.44" width="7.22" height="7.96" fill="#f1b6da"/>
<rect x="511.18" y="238.44" width="7.22" height="7.96" fill="#eef6e4"/>
<rect x="518.00" y="238.44" width="7.22" height="7.96" fill="#f7f7f7"/>
<rect x="524.82" y="238.44" width="7.22" height="7.96" fill="#fde0ef"/>
<rect x="531.64" y="238.44" width="7.22" height="7.96" fill="#fde0ef"/>
<rect x="538.45" y="238.44" width="7.22" height="7.96" fill="#f7cbe4"/>
<rect x="545.27" y="238.44" width="7.22" height="7.96" fill="#f7cbe4"/>
<rect x="552.09" y="238.44" width="7.22" height="7.96" fill="#f7cbe4"/>
<rect x="558.91" y="238.44" width="7.22" height="7.96" fill="#faecf3"/>
<rect x="565.73" y="238.44" width="7.22" height="7.96" fill="#e6f5d0"/>
<rect x="572.55" y="238.44" width="7.22" height="7.96" fill="#f7f7f7"/>
<rect x="579.36" y="238.44" width="7.22" height="7.96" fill="#eef6e4"/>
<rect x="586.18" y="238.44" width="7.22" height="7.96" fill="#4d9221"/>
<rect x="593.00" y="238.44" width="7.22" height="7.96" fill="#276419"/>
<rect x="599.82" y="238.44" width="7.22" height="7.96" fill="#b8e186"/>
<rect x="606.64" y="238.44" width="7.22" height="7.96" fill="#276419"/>
<rect x="613.45" y="238.44" width="7.22" height="7.96" fill="#f7f7f7"/>
<rect x="620.27" y="238.44" width="7.22" height="7.96" fill="#276419"/>
<rect x="627.09" y="238.44" width="7.22" height="7.96" fill="#faecf3"/>
<rect x="633.91" y="238.44" width="7.22" height="7.96" fill="#eef6e4"/>
<rect x="640.73" y="238.44" width="7.22" height="7.96" fill="#276419"/>
<rect x="647.55" y="238.44" width="7.22" height="7.96" fill="#4d9221"/>
<rect x="654.36" y="238.44" width="7.22" height="7.96" fill="#66a731"/>
<rect x="661.18" y="238.44" width="7.22" height="7.96" fill="#b8e186"/>
<rect x="67.00" y="248.40" width="7.22" height="7.90" fill="#66a731"/>
<rect x="73.82" y="248.40" width="7.22" height="7.90" fill="#4d9221"/>
<rect x="80.64" y="248.40" width="7.22" height="7.90" fill="#7fbc41"/>
<rect x="87.45" y="248.40" width="7.22" height="7.90" fill="#9cce64"/>
<rect x="94.27" y="248.40" width="7.22" height="7.90" fill="#b8e186"/>
<rect x="101.09" y="248.40" width="7.22" height="7.90" fill="#7fbc41"/>
<rect x="107.91" y="248.40" width="7.22" height="7.90" fill="#7fbc41"/>
<rect x="114.73" y="248.40" width="7.22" height="7.90" fill="#b8e186"/>
<rect x="121.55" y="248.40" width="7.22" height="7.90" fill="#cfebab"/>
<rect x="128.36" y="248.40" width="7.22" height="7.90" fill="#7fbc41"/>
<rect x="135.18" y="248.40" width="7.22" height="7.90" fill="#e6f5d0"/>
<rect x="142.00" y="248.40" width="7.22" height="7.90" fill="#e6f5d0"/>
<rect x="148.82" y="248.40" width="7.22" height="7.90" fill="#cfebab"/>
<rect x="155.64" y="248.40" width="7.22" height="7.90" fill="#cfebab"/>
<rect x="162.45" y="248.40" width="7.22" height="7.90" fill="#faecf3"/>
<rect x="169.27" y="248.40" width="7.22" height="7.90" fill="#fde0ef"/>
<rect x="176.09" y="248.40" width="7.22" height="7.90" fill="#f7cbe4"/>
<rect x="182.91" y="248.40" width="7.22" height="7.90" fill="#f7cbe4"/>
<rect x="189.73" y="248.40" width="7.22" height="7.90" fill="#eef6e4"/>
<rect x="196.55" y="248.40" width="7.22" height="7.90" fill="#e6f5d0"/>
<rect x="203.36" y="248.40" width="7.22" height="7.90" fill="#f7f7f7"/>
<rect x="210.18" y="248.40" width="7.22" height="7.90" fill="#f7f7f7"/>
<rect x="217.00" y="248.40" width="7.22" height="7.90" fill="#fde0ef"/>
<rect x="223.82" y="248.40" width="7.22" height="7.90" fill="#faecf3"/>
<rect x="230.64" y="248.40" width="7.22" height="7.90" fill="#f7f7f7"/>
<rect x="237.45" y="248.40" width="7.22" height="7.90" fill="#f7cbe4"/>
<rect x="244.27" y="248.40" width="7.22" height="7.90" fill="#faecf3"/>
<rect x="251.09" y="248.40" width="7.22" height="7.90" fill="#f7cbe4"/>
<rect x="257.91" y="248.40" width="7.22" height="7.90" fill="#e896c4"/>
<rect x="264.73" y="248.40" width="7.22" height="7.90" fill="#b8e186"/>
<rect x="271.55" y="248.40" width="7.22" height="7.90" fill="#e6f5d0"/>
<rect x="278.36" y="248.40" width="7.22" height="7.90" fill="#b8e186"/>
<rect x="285.18" y="248.40" width="7.22" height="7.90" fill="#cfebab"/>
<rect x="292.00" y="248.40" width="7.22" height="7.90" fill="#e6f5d0"/>
<rect x="298.82" y="248.40" width="7.22" height="7.90" fill="#cfebab"/>
<rect x="305.64" y="248.40" width="7.22" height="7.90" fill="#4d9221"/>
<rect x="312.45" y="248.40" width="7.22" height="7.90" fill="#276419"/>
<rect x="319.27" y="248.40" width="7.22" height="7.90" fill="#4d9221"/>
<rect x="326.09" y="248.40" width="7.22" height="7.90" fill="#b8e186"/>
<rect x="332.91" y="248.40" width="7.22" height="7.90" fill="#cfebab"/>
<rect x="339.73" y="248.40" width="7.22" height="7.90" fill="#fde0ef"/>
<rect x="346.55" y="248.40" width="7.22" height="7.90" fill="#faecf3"/>
<rect x="353.36" y="248.40" width="7.22" height="7.90" fill="#f1b6da"/>
<rect x="360.18" y="248.40" width="7.22" height="7.90" fill="#f7cbe4"/>
<rect x="367.00" y="248.40" width="7.22" height="7.90" fill="#de77ae"/>
<rect x="373.82" y="248.40" width="7.22" height="7.90" fill="#c51b7d"/>
<rect x="380.64" y="248.40" width="7.22" height="7.90" fill="#de77ae"/>
<rect x="387.45" y="248.40" width="7.22" height="7.90" fill="#f7cbe4"/>
<rect x="394.27" y="248.40" width="7.22" height="7.90" fill="#d24996"/>
<rect x="401.09" y="248.40" width="7.22" height="7.90" fill="#c51b7d"/>
<rect x="407.91" y="248.40" width="7.22" height="7.90" fill="#c51b7d"/>
<rect x="414.73" y="248.40" width="7.22" height="7.90" fill="#aa0e68"/>
<rect x="421.55" y="248.40" width="7.22" height="7.90" fill="#c51b7d"/>
<rect x="428.36" y="248.40" width="7.22" height="7.90" fill="#aa0e68"/>
<rect x="435.18" y="248.40" width="7.22" height="7.90" fill="#8e0152"/>
<rect x="442.00" y="248.40" width="7.22" height="7.90" fill="#d24996"/>
<rect x="448.82" y="248.40" width="7.22" height="7.90" fill="#c51b7d"/>
<rect x="455.64" y="248.40" width="7.22" height="7.90" fill="#faecf3"/>
<rect x="462.45" y="248.40" width="7.22" height="7.90" fill="#e6f5d0"/>
<rect x="469.27" y="248.40" width="7.22" height="7.90" fill="#f1b6da"/>
<rect x="476.09" y="248.40" width="7.22" height="7.90" fill="#faecf3"/>
<rect x="482.91" y="248.40" width="7.22" height="7.90" fill="#f1b6da"/>
<rect x="489.73" y="248.40" width="7.22" height="7.90" fill="#d24996"/>
<rect x="496.55" y="248.40" width="7.22" height="7.90" fill="#c51b7d"/>
<rect x="503.36" y="248.40" width="7.22" height="7.90" fill="#c51b7d"/>
<rect x="510.18" y="248.40" width="7.22" height="7.90" fill="#de77ae"/>
<rect x="517.00" y="248.40" width="7.22" height="7.90" fill="#e896c4"/>
<rect x="523.82" y="248.40" width="7.22" height="7.90" fill="#e896c4"/>
<rect x="530.64" y="248.40" width="7.22" height="7.90" fill="#d24996"/>
<rect x="537.45" y="248.40" width="7.22" height="7.90" fill="#d24996"/>
<rect x="544.27" y="248.40" width="7.22" height="7.90" fill="#de77ae"/>
<rect x="551.09" y="248.40" width="7.22" height="7.90" fill="#de77ae"/>
<rect x="557.91" y="248.40" width="7.22" height="7.90" fill="#e896c4"/>
<rect x="564.73" y="248.40" width="7.22" height="7.90" fill="#e896c4"/>
<rect x="571.55" y="248.40" width="7.22" height="7.90" fill="#de77ae"/>
<rect x="578.36" y="248.40" width="7.22" height="7.90" fill="#de77ae"/>
<rect x="585.18" y="248.40" width="7.22" height="7.90" fill="#f1b6da"/>
<rect x="592.00" y="248.40" width="7.22" height="7.90" fill="#d24996"/>
<rect x="598.82" y="248.40" width="7.22" height="7.90" fill="#aa0e68"/>
<rect x="605.64" y="248.40" width="7.22" height="7.90" fill="#f1b6da"/>
<rect x="612.45" y="248.40" width="7.22" height="7.90" fill="#aa0e68"/>
<rect x="619.27" y="248.40" width="7.22" height="7.90" fill="#d24996"/>
<rect x="626.09" y="248.40" width="7.22" height="7.90" fill="#c51b7d"/>
<rect x="632.91" y="248.40" width="7.22" height="7.90" fill="#e896c4"/>
<rect x="639.73" y="248.40" width="7.22" height="7.90" fill="#fde0ef"/>
<rect x="646.55" y="248.40" width="7.22" height="7.90" fill="#fde0ef"/>
<rect x="653.36" y="248.40" width="7.22" height="7.90" fill="#f7f7f7"/>
<rect x="660.18" y="248.40" width="7.22" height="7.90" fill="#fde0ef"/>
<rect x="67.00" y="255.90" width="7.22" height="7.90" fill="#276419"/>
<rect x="73.82" y="255.90" width="7.22" height="7.90" fill="#276419"/>
<rect x="80.64" y="255.90" width="7.22" height="7.90" fill="#66a731"/>
<rect x="87.45" y="255.90" width="7.22" height="7.90" fill="#66a731"/>
<rect x="94.27" y="255.90" width="7.22" height="7.90" fill="#66a731"/>
<rect x="101.09" y="255.90" width="7.22" height="7.90" fill="#66a731"/>
<rect x="107.91" y="255.90" width="7.22" height="7.90" fill="#4d9221"/>
<rect x="114.73" y="255.90" width="7.22" height="7.90" fill="#7fbc41"/>
<rect x="121.55" y="255.90" width="7.22" height="7.90" fill="#7fbc41"/>
<rect x="128.36" y="255.90" width="7.22" height="7.90" fill="#7fbc41"/>
<rect x="135.18" y="255.90" width="7.22" height="7.90" fill="#cfebab"/>
<rect x="142.00" y="255.90" width="7.22" height="7.90" fill="#eef6e4"/>
<rect x="148.82" y="255.90" width="7.22" height="7.90" fill="#cfebab"/>
<rect x="155.64" y="255.90" width="7.22" height="7.90" fill="#9cce64"/>
<rect x="162.45" y="255.90" width="7.22" height="7.90" fill="#f7cbe4"/>
<rect x="169.27" y="255.90" width="7.22" height="7.90" fill="#f7cbe4"/>
<rect x="176.09" y="255.90" width="7.22" height="7.90" fill="#f1b6da"/>
<rect x="182.91" y="255.90" width="7.22" height="7.90" fill="#e896c4"/>
<rect x="189.73" y="255.90" width="7.22" height="7.90" fill="#faecf3"/>
<rect x="196.55" y="255.90" width="7.22" height="7.90" fill="#f7f7f7"/>
<rect x="203.36" y="255.90" width="7.22" height="7.90" fill="#faecf3"/>
<rect x="210.18" y="255.90" width="7.22" height="7.90" fill="#fde0ef"/>
<rect x="217.00" y="255.90" width="7.22" height="7.90" fill="#f1b6da"/>
<rect x="223.82" y="255.90" width="7.22" height="7.90" fill="#fde0ef"/>
<rect x="230.64" y="255.90" width="7.22" height="7.90" fill="#fde0ef"/>
<rect x="237.45" y="255.90" width="7.22" height="7.90" fill="#f7cbe4"/>
<rect x="244.27" y="255.90" width="7.22" height="7.90" fill="#faecf3"/>
<rect x="251.09" y="255.90" width="7.22" height="7.90" fill="#fde0ef"/>
<rect x="257.91" y="255.90" width="7.22" height="7.90" fill="#e896c4"/>
<rect x="264.73" y="255.90" width="7.22" height="7.90" fill="#276419"/>
<rect x="271.55" y="255.90" width="7.22" height="7.90" fill="#9cce64"/>
<rect x="278.36" y="255.90" width="7.22" height="7.90" fill="#e6f5d0"/>
<rect x="285.18" y="255.90" width="7.22" height="7.90" fill="#eef6e4"/>
<rect x="292.00" y="255.90" width="7.22" height="7.90" fill="#f7f7f7"/>
<rect x="298.82" y="255.90" width="7.22" height="7.90" fill="#eef6e4"/>
<rect x="305.64" y="255.90" width="7.22" height="7.90" fill="#66a731"/>
<rect x="312.45" y="255.90" width="7.22" height="7.90" fill="#3a7b1d"/>
<rect x="319.27" y="255.90" width="7.22" height="7.90" fill="#7fbc41"/>
<rect x="326.09" y="255.90" width="7.22" height="7.90" fill="#cfebab"/>
<rect x="332.91" y="255.90" width="7.22" height="7.90" fill="#e6f5d0"/>
<rect x="339.73" y="255.90" width="7.22" height="7.90" fill="#fde0ef"/>
<rect x="346.55" y="255.90" width="7.22" height="7.90" fill="#e896c4"/>
<rect x="353.36" y="255.90" width="7.22" height="7.90" fill="#faecf3"/>
<rect x="360.18" y="255.90" width="7.22" height="7.90" fill="#de77ae"/>
<rect x="367.00" y="255.90" width="7.22" height="7.90" fill="#d24996"/>
<rect x="373.82" y="255.90" width="7.22" height="7.90" fill="#c51b7d"/>
<rect x="380.64" y="255.90" width="7.22" height="7.90" fill="#e896c4"/>
<rect x="387.45" y="255.90" width="7.22" height="7.90" fill="#f1b6da"/>
<rect x="394.27" y="255.90" width="7.22" height="7.90" fill="#de77ae"/>
<rect x="401.09" y="255.90" width="7.22" height="7.90" fill="#aa0e68"/>
<rect x="407.91" y="255.90" width="7.22" height="7.90" fill="#aa0e68"/>
<rect x="414.73" y="255.90" width="7.22" height="7.90" fill="#aa0e68"/>
<rect x="421.55" y="255.90" width="7.22" height="7.90" fill="#8e0152"/>
<rect x="428.36" y="255.90" width="7.22" height="7.90" fill="#aa0e68"/>
<rect x="435.18" y="255.90" width="7.22" height="7.90" fill="#aa0e68"/>
<rect x="442.00" y="255.90" width="7.22" height="7.90" fill="#c51b7d"/>
<rect x="448.82" y="255.90" width="7.22" height="7.90" fill="#aa0e68"/>
<rect x="455.64" y="255.90" width="7.22" height="7.90" fill="#fde0ef"/>
<rect x="462.45" y="255.90" width="7.22" height="7.90" fill="#faecf3"/>
<rect x="469.27" y="255.90" width="7.22" height="7.90" fill="#fde0ef"/>
<rect x="476.09" y="255.90" width="7.22" height="7.90" fill="#faecf3"/>
<rect x="482.91" y="255.90" width="7.22" height="7.90" fill="#f1b6da"/>
<rect x="489.73" y="255.90" width="7.22" height="7.90" fill="#d24996"/>
<rect x="496.55" y="255.90" width="7.22" height="7.90" fill="#aa0e68"/>
<rect x="503.36" y="255.90" width="7.22" height="7.90" fill="#aa0e68"/>
<rect x="510.18" y="255.90" width="7.22" height="7.90" fill="#de77ae"/>
<rect x="517.00" y="255.90" width="7.22" height="7.90" fill="#e896c4"/>
<rect x="523.82" y="255.90" width="7.22" height="7.90" fill="#e896c4"/>
<rect x="530.64" y="255.90" width="7.22" height="7.90" fill="#d24996"/>
<rect x="537.45" y="255.90" width="7.22" height="7.90" fill="#d24996"/>
<rect x="544.27" y="255.90" width="7.22" height="7.90" fill="#de77ae"/>
<rect x="551.09" y="255.90" width="7.22" height="7.90" fill="#d24996"/>
<rect x="557.91" y="255.90" width="7.22" height="7.90" fill="#de77ae"/>
<rect x="564.73" y="255.90" width="7.22" height="7.90" fill="#e896c4"/>
<rect x="571.55" y="255.90" width="7.22" height="7.90" fill="#d24996"/>
<rect x="578.36" y="255.90" width="7.22" height="7.90" fill="#d24996"/>
<rect x="585.18" y="255.90" width="7.22" height="7.90" fill="#de77ae"/>
<rect x="592.00" y="255.90" width="7.22" height="7.90" fill="#c51b7d"/>
<rect x="598.82" y="255.90" width="7.22" height="7.90" fill="#c51b7d"/>
<rect x="605.64" y="255.90" width="7.22" height="7.90" fill="#8e0152"/>
<rect x="612.45" y="255.90" width="7.22" height="7.90" fill="#aa0e68"/>
<rect x="619.27" y="255.90" width="7.22" height="7.90" fill="#aa0e68"/>
<rect x="626.09" y="255.90" width="7.22" height="7.90" fill="#c51b7d"/>
<rect x="632.91" y="255.90" width="7.22" height="7.90" fill="#e896c4"/>
<rect x="639.73" y="255.90" width="7.22" height="7.90" fill="#f1b6da"/>
<rect x="646.55" y="255.90" width="7.22" height="7.90" fill="#f7cbe4"/>
<rect x="653.36" y="255.90" width="7.22" height="7.90" fill="#faecf3"/>
<rect x="660.18" y="255.90" width="7.22" height="7.90" fill="#f7cbe4"/>
<rect x="67.00" y="263.40" width="7.22" height="7.90" fill="#3a7b1d"/>
<rect x="73.82" y="263.40" width="7.22" height="7.90" fill="#3a7b1d"/>
<rect x="80.64" y="263.40" width="7.22" height="7.90" fill="#66a731"/>
<rect x="87.45" y="263.40" width="7.22" height="7.90" fill="#66a731"/>
<rect x="94.27" y="263.40" width="7.22" height="7.90" fill="#66a731"/>
<rect x="101.09" y="263.40" width="7.22" height="7.90" fill="#66a731"/>
<rect x="107.91" y="263.40" width="7.22" height="7.90" fill="#4d9221"/>
<rect x="114.73" y="263.40" width="7.22" height="7.90" fill="#7fbc41"/>
<rect x="121.55" y="263.40" width="7.22" height="7.90" fill="#7fbc41"/>
<rect x="128.36" y="263.40" width="7.22" height="7.90" fill="#4d9221"/>
<rect x="135.18" y="263.40" width="7.22" height="7.90" fill="#7fbc41"/>
<rect x="142.00" y="263.40" width="7.22" height="7.90" fill="#eef6e4"/>
<rect x="148.82" y="263.40" width="7.22" height="7.90" fill="#7fbc41"/>
<rect x="155.64" y="263.40" width="7.22" height="7.90" fill="#7fbc41"/>
<rect x="162.45" y="263.40" width="7.22" height="7.90" fill="#faecf3"/>
<rect x="169.27" y="263.40" width="7.22" height="7.90" fill="#f1b6da"/>
<rect x="176.09" y="263.40" width="7.22" height="7.90" fill="#f7cbe4"/>
<rect x="182.91" y="263.40" width="7.22" height="7.90" fill="#f1b6da"/>
<rect x="189.73" y="263.40" width="7.22" height="7.90" fill="#eef6e4"/>
<rect x="196.55" y="263.40" width="7.22" height="7.90" fill="#eef6e4"/>
<rect x="203.36" y="263.40" width="7.22" height="7.90" fill="#f7f7f7"/>
<rect x="210.18" y="263.40" width="7.22" height="7.90" fill="#f7f7f7"/>
<rect x="217.00" y="263.40" width="7.22" height="7.90" fill="#f7cbe4"/>
<rect x="223.82" y="263.40" width="7.22" height="7.90" fill="#faecf3"/>
<rect x="230.64" y="263.40" width="7.22" height="7.90" fill="#faecf3"/>
<rect x="237.45" y="263.40" width="7.22" height="7.90" fill="#f1b6da"/>
<rect x="244.27" y="263.40" width="7.22" height="7.90" fill="#faecf3"/>
<rect x="251.09" y="263.40" width="7.22" height="7.90" fill="#fde0ef"/>
<rect x="257.91" y="263.40" width="7.22" height="7.90" fill="#f1b6da"/>
<rect x="264.73" y="263.40" width="7.22" height="7.90" fill="#b8e186"/>
<rect x="271.55" y="263.40" width="7.22" height="7.90" fill="#9cce64"/>
<rect x="278.36" y="263.40" width="7.22" height="7.90" fill="#b8e186"/>
<rect x="285.18" y="263.40" width="7.22" height="7.90" fill="#cfebab"/>
<rect x="292.00" y="263.40" width="7.22" height="7.90" fill="#b8e186"/>
<rect x="298.82" y="263.40" width="7.22" height="7.90" fill="#eef6e4"/>
<rect x="305.64" y="263.40" width="7.22" height="7.90" fill="#4d9221"/>
<rect x="312.45" y="263.40" width="7.22" height="7.90" fill="#276419"/>
<rect x="319.27" y="263.40" width="7.22" height="7.90" fill="#4d9221"/>
<rect x="326.09" y="263.40" width="7.22" height="7.90" fill="#9cce64"/>
<rect x="332.91" y="263.40" width="7.22" height="7.90" fill="#cfebab"/>
<rect x="339.73" y="263.40" width="7.22" height="7.90" fill="#faecf3"/>
<rect x="346.55" y="263.40" width="7.22" height="7.90" fill="#f1b6da"/>
<rect x="353.36" y="263.40" width="7.22" height="7.90" fill="#f1b6da"/>
<rect x="360.18" y="263.40" width="7.22" height="7.90" fill="#e896c4"/>
<rect x="367.00" y="263.40" width="7.22" height="7.90" fill="#eef6e4"/>
<rect x="373.82" y="263.40" width="7.22" height="7.90" fill="#f1b6da"/>
<rect x="380.64" y="263.40" width="7.22" height="7.90" fill="#f7cbe4"/>
<rect x="387.45" y="263.40" width="7.22" height="7.90" fill="#f7cbe4"/>
<rect x="394.27" y="263.40" width="7.22" height="7.90" fill="#d24996"/>
<rect x="401.09" y="263.40" width="7.22" height="7.90" fill="#8e0152"/>
<rect x="407.91" y="263.40" width="7.22" height="7.90" fill="#aa0e68"/>
<rect x="414.73" y="263.40" width="7.22" height="7.90" fill="#aa0e68"/>
<rect x="421.55" y="263.40" width="7.22" height="7.90" fill="#c51b7d"/>
<rect x="428.36" y="263.40" width="7.22" height="7.90" fill="#aa0e68"/>
<rect x="435.18" y="263.40" width="7.22" height="7.90" fill="#c51b7d"/>
<rect x="442.00" y="263.40" width="7.22" height="7.90" fill="#c51b7d"/>
<rect x="448.82" y="263.40" width="7.22" height="7.90" fill="#aa0e68"/>
<rect x="455.64" y="263.40" width="7.22" height="7.90" fill="#eef6e4"/>
<rect x="462.45" y="263.40" width="7.22" height="7.90" fill="#eef6e4"/>
<rect x="469.27" y="263.40" width="7.22" height="7.90" fill="#f7cbe4"/>
<rect x="476.09" y="263.40" width="7.22" height="7.90" fill="#faecf3"/>
<rect x="482.91" y="263.40" width="7.22" height="7.90" fill="#de77ae"/>
<rect x="489.73" y="263.40" width="7.22" height="7.90" fill="#e896c4"/>
<rect x="496.55" y="263.40" width="7.22" height="7.90" fill="#de77ae"/>
<rect x="503.36" y="263.40" width="7.22" height="7.90" fill="#de77ae"/>
<rect x="510.18" y="263.40" width="7.22" height="7.90" fill="#d24996"/>
<rect x="517.00" y="263.40" width="7.22" height="7.90" fill="#f1b6da"/>
<rect x="523.82" y="263.40" width="7.22" height="7.90" fill="#e896c4"/>
<rect x="530.64" y="263.40" width="7.22" height="7.90" fill="#c51b7d"/>
<rect x="537.45" y="263.40" width="7.22" height="7.90" fill="#c51b7d"/>
<rect x="544.27" y="263.40" width="7.22" height="7.90" fill="#d24996"/>
<rect x="551.09" y="263.40" width="7.22" height="7.90" fill="#de77ae"/>
<rect x="557.91" y="263.40" width="7.22" height="7.90" fill="#de77ae"/>
<rect x="564.73" y="263.40" width="7.22" height="7.90" fill="#de77ae"/>
<rect x="571.55" y="263.40" width="7.22" height="7.90" fill="#d24996"/>
<rect x="578.36" y="263.40" width="7.22" height="7.90" fill="#d24996"/>
<rect x="585.18" y="263.40" width="7.22" height="7.90" fill="#f7f7f7"/>
<rect x="592.00" y="263.40" width="7.22" height="7.90" fill="#f1b6da"/>
<rect x="598.82" y="263.40" width="7.22" height="7.90" fill="#aa0e68"/>
<rect x="605.64" y="263.40" width="7.22" height="7.90" fill="#c51b7d"/>
<rect x="612.45" y="263.40" width="7.22" height="7.90" fill="#8e0152"/>
<rect x="619.27" y="263.40" width="7.22" height="7.90" fill="#c51b7d"/>
<rect x="626.09" y="263.40" width="7.22" height="7.90" fill="#de77ae"/>
<rect x="632.91" y="263.40" width="7.22" height="7.90" fill="#e896c4"/>
<rect x="639.73" y="263.40" width="7.22" height="7.90" fill="#f1b6da"/>
<rect x="646.55" y="263.40" width="7.22" height="7.90" fill="#f7cbe4"/>
<rect x="653.36" y="263.40" width="7.22" height="7.90" fill="#faecf3"/>
<rect x="660.18" y="263.40" width="7.22" height="7.90" fill="#f1b6da"/>
<rect x="67.00" y="270.90" width="7.22" height="7.90" fill="#faecf3"/>
<rect x="73.82" y="270.90" width="7.22" height="7.90" fill="#de77ae"/>
<rect x="80.64" y="270.90" width="7.22" height="7.90" fill="#b8e186"/>
<rect x="87.45" y="270.90" width="7.22" height="7.90" fill="#e6f5d0"/>
<rect x="94.27" y="270.90" width="7.22" height="7.90" fill="#e6f5d0"/>
<rect x="101.09" y="270.90" width="7.22" height="7.90" fill="#eef6e4"/>
<rect x="107.91" y="270.90" width="7.22" height="7.90" fill="#f7cbe4"/>
<rect x="114.73" y="270.90" width="7.22" height="7.90" fill="#faecf3"/>
<rect x="121.55" y="270.90" width="7.22" height="7.90" fill="#f1b6da"/>
<rect x="128.36" y="270.90" width="7.22" height="7.90" fill="#faecf3"/>
<rect x="135.18" y="270.90" width="7.22" height="7.90" fill="#de77ae"/>
<rect x="142.00" y="270.90" width="7.22" height="7.90" fill="#fde0ef"/>
<rect x="148.82" y="270.90" width="7.22" height="7.90" fill="#aa0e68"/>
<rect x="155.64" y="270.90" width="7.22" height="7.90" fill="#8e0152"/>
<rect x="162.45" y="270.90" width="7.22" height="7.90" fill="#e896c4"/>
<rect x="169.27" y="270.90" width="7.22" height="7.90" fill="#e6f5d0"/>
<rect x="176.09" y="270.90" width="7.22" height="7.90" fill="#f7cbe4"/>
<rect x="182.91" y="270.90" width="7.22" height="7.90" fill="#f7f7f7"/>
<rect x="189.73" y="270.90" width="7.22" height="7.90" fill="#faecf3"/>
<rect x="196.55" y="270.90" width="7.22" height="7.90" fill="#fde0ef"/>
<rect x="203.36" y="270.90" width="7.22" height="7.90" fill="#f7f7f7"/>
<rect x="210.18" y="270.90" width="7.22" height="7.90" fill="#faecf3"/>
<rect x="217.00" y="270.90" width="7.22" height="7.90" fill="#f7f7f7"/>
<rect x="223.82" y="270.90" width="7.22" height="7.90" fill="#f7f7f7"/>
<rect x="230.64" y="270.90" width="7.22" height="7.90" fill="#f7f7f7"/>
<rect x="237.45" y="270.90" width="7.22" height="7.90" fill="#cfebab"/>
<rect x="244.27" y="270.90" width="7.22" height="7.90" fill="#b8e186"/>
<rect x="251.09" y="270.90" width="7.22" height="7.90" fill="#eef6e4"/>
<rect x="257.91" y="270.90" width="7.22" height="7.90" fill="#f7f7f7"/>
<rect x="264.73" y="270.90" width="7.22" height="7.90" fill="#b8e186"/>
<rect x="271.55" y="270.90" width="7.22" height="7.90" fill="#de77ae"/>
<rect x="278.36" y="270.90" width="7.22" height="7.90" fill="#f7f7f7"/>
<rect x="285.18" y="270.90" width="7.22" height="7.90" fill="#fde0ef"/>
<rect x="292.00" y="270.90" width="7.22" height="7.90" fill="#e896c4"/>
<rect x="298.82" y="270.90" width="7.22" height="7.90" fill="#faecf3"/>
<rect x="305.64" y="270.90" width="7.22" height="7.90" fill="#e6f5d0"/>
<rect x="312.45" y="270.90" width="7.22" height="7.90" fill="#cfebab"/>
<rect x="319.27" y="270.90" width="7.22" height="7.90" fill="#eef6e4"/>
<rect x="326.09" y="270.90" width="7.22" height="7.90" fill="#faecf3"/>
<rect x="332.91" y="270.90" width="7.22" height="7.90" fill="#e6f5d0"/>
<rect x="339.73" y="270.90" width="7.22" height="7.90" fill="#de77ae"/>
<rect x="346.55" y="270.90" width="7.22" height="7.90" fill="#d24996"/>
<rect x="353.36" y="270.90" width="7.22" height="7.90" fill="#f1b6da"/>
<rect x="360.18" y="270.90" width="7.22" height="7.90" fill="#eef6e4"/>
<rect x="367.00" y="270.90" width="7.22" height="7.90" fill="#8e0152"/>
<rect x="373.82" y="270.90" width="7.22" height="7.90" fill="#aa0e68"/>
<rect x="380.64" y="270.90" width="7.22" height="7.90" fill="#c51b7d"/>
<rect x="387.45" y="270.90" width="7.22" height="7.90" fill="#f1b6da"/>
<rect x="394.27" y="270.90" width="7.22" height="7.90" fill="#fde0ef"/>
<rect x="401.09" y="270.90" width="7.22" height="7.90" fill="#f1b6da"/>
<rect x="407.91" y="270.90" width="7.22" height="7.90" fill="#fde0ef"/>
<rect x="414.73" y="270.90" width="7.22" height="7.90" fill="#de77ae"/>
<rect x="421.55" y="270.90" width="7.22" height="7.90" fill="#f7cbe4"/>
<rect x="428.36" y="270.90" width="7.22" height="7.90" fill="#c51b7d"/>
<rect x="435.18" y="270.90" width="7.22" height="7.90" fill="#aa0e68"/>
<rect x="442.00" y="270.90" width="7.22" height="7.90" fill="#de77ae"/>
<rect x="448.82" y="270.90" width="7.22" height="7.90" fill="#d24996"/>
<rect x="455.64" y="270.90" width="7.22" height="7.90" fill="#f1b6da"/>
<rect x="462.45" y="270.90" width="7.22" height="7.90" fill="#f1b6da"/>
<rect x="469.27" y="270.90" width="7.22" height="7.90" fill="#f7cbe4"/>
<rect x="476.09" y="270.90" width="7.22" height="7.90" fill="#fde0ef"/>
<rect x="482.91" y="270.90" width="7.22" height="7.90" fill="#276419"/>
<rect x="489.73" y="270.90" width="7.22" height="7.90" fill="#e6f5d0"/>
<rect x="496.55" y="270.90" width="7.22" height="7.90" fill="#f7f7f7"/>
<rect x="503.36" y="270.90" width="7.22" height="7.90" fill="#f7f7f7"/>
<rect x="510.18" y="270.90" width="7.22" height="7.90" fill="#f7cbe4"/>
<rect x="517.00" y="270.90" width="7.22" height="7.90" fill="#fde0ef"/>
<rect x="523.82" y="270.90" width="7.22" height="7.90" fill="#fde0ef"/>
<rect x="530.64" y="270.90" width="7.22" height="7.90" fill="#e896c4"/>
<rect x="537.45" y="270.90" width="7.22" height="7.90" fill="#f1b6da"/>
<rect x="544.27" y="270.90" width="7.22" height="7.90" fill="#e896c4"/>
<rect x="551.09" y="270.90" width="7.22" height="7.90" fill="#f1b6da"/>
<rect x="557.91" y="270.90" width="7.22" height="7.90" fill="#fde0ef"/>
<rect x="564.73" y="270.90" width="7.22" height="7.90" fill="#eef6e4"/>
<rect x="571.55" y="270.90" width="7.22" height="7.90" fill="#f7cbe4"/>
<rect x="578.36" y="270.90" width="7.22" height="7.90" fill="#f7cbe4"/>
<rect x="585.18" y="270.90" width="7.22" height="7.90" fill="#8e0152"/>
<rect x="592.00" y="270.90" width="7.22" height="7.90" fill="#aa0e68"/>
<rect x="598.82" y="270.90" width="7.22" height="7.90" fill="#e896c4"/>
<rect x="605.64" y="270.90" width="7.22" height="7.90" fill="#f1b6da"/>
<rect x="612.45" y="270.90" width="7.22" height="7.90" fill="#c51b7d"/>
<rect x="619.27" y="270.90" width="7.22" height="7.90" fill="#de77ae"/>
<rect x="626.09" y="270.90" width="7.22" height="7.90" fill="#f7cbe4"/>
<rect x="632.91" y="270.90" width="7.22" height="7.90" fill="#fde0ef"/>
<rect x="639.73" y="270.90" width="7.22" height="7.90" fill="#cfebab"/>
<rect x="646.55" y="270.90" width="7.22" height="7.90" fill="#9cce64"/>
<rect x="653.36" y="270.90" width="7.22" height="7.90" fill="#e6f5d0"/>
<rect x="660.18" y="270.90" width="7.22" height="7.90" fill="#b8e186"/>
<rect x="67.00" y="278.40" width="7.22" height="7.90" fill="#66a731"/>
<rect x="73.82" y="278.40" width="7.22" height="7.90" fill="#4d9221"/>
<rect x="80.64" y="278.40" width="7.22" height="7.90" fill="#7fbc41"/>
<rect x="87.45" y="278.40" width="7.22" height="7.90" fill="#7fbc41"/>
<rect x="94.27" y="278.40" width="7.22" height="7.90" fill="#b8e186"/>
<rect x="101.09" y="278.40" width="7.22" height="7.90" fill="#7fbc41"/>
<rect x="107.91" y="278.40" width="7.22" height="7.90" fill="#4d9221"/>
<rect x="114.73" y="278.40" width="7.22" height="7.90" fill="#e6f5d0"/>
<rect x="121.55" y="278.40" width="7.22" height="7.90" fill="#7fbc41"/>
<rect x="128.36" y="278.40" width="7.22" height="7.90" fill="#eef6e4"/>
<rect x="135.18" y="278.40" width="7.22" height="7.90" fill="#f7f7f7"/>
<rect x="142.00" y="278.40" width="7.22" height="7.90" fill="#b8e186"/>
<rect x="148.82" y="278.40" width="7.22" height="7.90" fill="#c51b7d"/>
<rect x="155.64" y="278.40" width="7.22" height="7.90" fill="#eef6e4"/>
<rect x="162.45" y="278.40" width="7.22" height="7.90" fill="#e896c4"/>
<rect x="169.27" y="278.40" width="7.22" height="7.90" fill="#de77ae"/>
<rect x="176.09" y="278.40" width="7.22" height="7.90" fill="#f1b6da"/>
<rect x="182.91" y="278.40" width="7.22" height="7.90" fill="#de77ae"/>
<rect x="189.73" y="278.40" width="7.22" height="7.90" fill="#f7cbe4"/>
<rect x="196.55" y="278.40" width="7.22" height="7.90" fill="#fde0ef"/>
<rect x="203.36" y="278.40" width="7.22" height="7.90" fill="#fde0ef"/>
<rect x="210.18" y="278.40" width="7.22" height="7.90" fill="#f1b6da"/>
<rect x="217.00" y="278.40" width="7.22" height="7.90" fill="#f1b6da"/>
<rect x="223.82" y="278.40" width="7.22" height="7.90" fill="#f1b6da"/>
<rect x="230.64" y="278.40" width="7.22" height="7.90" fill="#f1b6da"/>
<rect x="237.45" y="278.40" width="7.22" height="7.90" fill="#faecf3"/>
<rect x="244.27" y="278.40" width="7.22" height="7.90" fill="#cfebab"/>
<rect x="251.09" y="278.40" width="7.22" height="7.90" fill="#f7f7f7"/>
<rect x="257.91" y="278.40" width="7.22" height="7.90" fill="#eef6e4"/>
<rect x="264.73" y="278.40" width="7.22" height="7.90" fill="#b8e186"/>
<rect x="271.55" y="278.40" width="7.22" height="7.90" fill="#f1b6da"/>
<rect x="278.36" y="278.40" width="7.22" height="7.90" fill="#cfebab"/>
<rect x="285.18" y="278.40" width="7.22" height="7.90" fill="#faecf3"/>
<rect x="292.00" y="278.40" width="7.22" height="7.90" fill="#fde0ef"/>
<rect x="298.82" y="278.40" width="7.22" height="7.90" fill="#f1b6da"/>
<rect x="305.64" y="278.40" width="7.22" height="7.90" fill="#cfebab"/>
<rect x="312.45" y="278.40" width="7.22" height="7.90" fill="#b8e186"/>
<rect x="319.27" y="278.40" width="7.22" height="7.90" fill="#b8e186"/>
<rect x="326.09" y="278.40" width="7.22" height="7.90" fill="#eef6e4"/>
<rect x="332.91" y="278.40" width="7.22" height="7.90" fill="#eef6e4"/>
<rect x="339.73" y="278.40" width="7.22" height="7.90" fill="#eef6e4"/>
<rect x="346.55" y="278.40" width="7.22" height="7.90" fill="#eef6e4"/>
<rect x="353.36" y="278.40" width="7.22" height="7.90" fill="#e896c4"/>
<rect x="360.18" y="278.40" width="7.22" height="7.90" fill="#f7cbe4"/>
<rect x="367.00" y="278.40" width="7.22" height="7.90" fill="#faecf3"/>
<rect x="373.82" y="278.40" width="7.22" height="7.90" fill="#e896c4"/>
<rect x="380.64" y="278.40" width="7.22" height="7.90" fill="#e896c4"/>
<rect x="387.45" y="278.40" width="7.22" height="7.90" fill="#f1b6da"/>
<rect x="394.27" y="278.40" width="7.22" height="7.90" fill="#fde0ef"/>
<rect x="401.09" y="278.40" width="7.22" height="7.90" fill="#d24996"/>
<rect x="407.91" y="278.40" width="7.22" height="7.90" fill="#aa0e68"/>
<rect x="414.73" y="278.40" width="7.22" height="7.90" fill="#aa0e68"/>
<rect x="421.55" y="278.40" width="7.22" height="7.90" fill="#d24996"/>
<rect x="428.36" y="278.40" width="7.22" height="7.90" fill="#aa0e68"/>
<rect x="435.18" y="278.40" width="7.22" height="7.90" fill="#aa0e68"/>
<rect x="442.00" y="278.40" width="7.22" height="7.90" fill="#f7cbe4"/>
<rect x="448.82" y="278.40" width="7.22" height="7.90" fill="#e896c4"/>
<rect x="455.64" y="278.40" width="7.22" height="7.90" fill="#f1b6da"/>
<rect x="462.45" y="278.40" width="7.22" height="7.90" fill="#f7f7f7"/>
<rect x="469.27" y="278.40" width="7.22" height="7.90" fill="#fde0ef"/>
<rect x="476.09" y="278.40" width="7.22" height="7.90" fill="#fde0ef"/>
<rect x="482.91" y="278.40" width="7.22" height="7.90" fill="#f7f7f7"/>
<rect x="489.73" y="278.40" width="7.22" height="7.90" fill="#f1b6da"/>
<rect x="496.55" y="278.40" width="7.22" height="7.90" fill="#e896c4"/>
<rect x="503.36" y="278.40" width="7.22" height="7.90" fill="#e896c4"/>
<rect x="510.18" y="278.40" width="7.22" height="7.90" fill="#d24996"/>
<rect x="517.00" y="278.40" width="7.22" height="7.90" fill="#d24996"/>
<rect x="523.82" y="278.40" width="7.22" height="7.90" fill="#d24996"/>
<rect x="530.64" y="278.40" width="7.22" height="7.90" fill="#c51b7d"/>
<rect x="537.45" y="278.40" width="7.22" height="7.90" fill="#c51b7d"/>
<rect x="544.27" y="278.40" width="7.22" height="7.90" fill="#e896c4"/>
<rect x="551.09" y="278.40" width="7.22" height="7.90" fill="#d24996"/>
<rect x="557.91" y="278.40" width="7.22" height="7.90" fill="#de77ae"/>
<rect x="564.73" y="278.40" width="7.22" height="7.90" fill="#de77ae"/>
<rect x="571.55" y="278.40" width="7.22" height="7.90" fill="#d24996"/>
<rect x="578.36" y="278.40" width="7.22" height="7.90" fill="#d24996"/>
<rect x="585.18" y="278.40" width="7.22" height="7.90" fill="#d24996"/>
<rect x="592.00" y="278.40" width="7.22" height="7.90" fill="#aa0e68"/>
<rect x="598.82" y="278.40" width="7.22" height="7.90" fill="#aa0e68"/>
<rect x="605.64" y="278.40" width="7.22" height="7.90" fill="#8e0152"/>
<rect x="612.45" y="278.40" width="7.22" height="7.90" fill="#c51b7d"/>
<rect x="619.27" y="278.40" width="7.22" height="7.90" fill="#e896c4"/>
<rect x="626.09" y="278.40" width="7.22" height="7.90" fill="#e896c4"/>
<rect x="632.91" y="278.40" width="7.22" height="7.90" fill="#e896c4"/>
<rect x="639.73" y="278.40" width="7.22" height="7.90" fill="#f1b6da"/>
<rect x="646.55" y="278.40" width="7.22" height="7.90" fill="#f7cbe4"/>
<rect x="653.36" y="278.40" width="7.22" height="7.90" fill="#f7f7f7"/>
<rect x="660.18" y="278.40" width="7.22" height="7.90" fill="#fde0ef"/>
<rect x="67.00" y="285.90" width="7.22" height="7.90" fill="#9cce64"/>
<rect x="73.82" y="285.90" width="7.22" height="7.90" fill="#b8e186"/>
<rect x="80.64" y="285.90" width="7.22" height="7.90" fill="#cfebab"/>
<rect x="87.45" y="285.90" width="7.22" height="7.90" fill="#e6f5d0"/>
<rect x="94.27" y="285.90" width="7.22" height="7.90" fill="#eef6e4"/>
<rect x="101.09" y="285.90" width="7.22" height="7.90" fill="#b8e186"/>
<rect x="107.91" y="285.90" width="7.22" height="7.90" fill="#eef6e4"/>
<rect x="114.73" y="285.90" width="7.22" height="7.90" fill="#cfebab"/>
<rect x="121.55" y="285.90" width="7.22" height="7.90" fill="#faecf3"/>
<rect x="128.36" y="285.90" width="7.22" height="7.90" fill="#f7cbe4"/>
<rect x="135.18" y="285.90" width="7.22" height="7.90" fill="#f7f7f7"/>
<rect x="142.00" y="285.90" width="7.22" height="7.90" fill="#faecf3"/>
<rect x="148.82" y="285.90" width="7.22" height="7.90" fill="#aa0e68"/>
<rect x="155.64" y="285.90" width="7.22" height="7.90" fill="#faecf3"/>
<rect x="162.45" y="285.90" width="7.22" height="7.90" fill="#e896c4"/>
<rect x="169.27" y="285.90" width="7.22" height="7.90" fill="#f1b6da"/>
<rect x="176.09" y="285.90" width="7.22" height="7.90" fill="#faecf3"/>
<rect x="182.91" y="285.90" width="7.22" height="7.90" fill="#f1b6da"/>
<rect x="189.73" y="285.90" width="7.22" height="7.90" fill="#fde0ef"/>
<rect x="196.55" y="285.90" width="7.22" height="7.90" fill="#faecf3"/>
<rect x="203.36" y="285.90" width="7.22" height="7.90" fill="#f7f7f7"/>
<rect x="210.18" y="285.90" width="7.22" height="7.90" fill="#fde0ef"/>
<rect x="217.00" y="285.90" width="7.22" height="7.90" fill="#f7cbe4"/>
<rect x="223.82" y="285.90" width="7.22" height="7.90" fill="#f7cbe4"/>
<rect x="230.64" y="285.90" width="7.22" height="7.90" fill="#fde0ef"/>
<rect x="237.45" y="285.90" width="7.22" height="7.90" fill="#faecf3"/>
<rect x="244.27" y="285.90" width="7.22" height="7.90" fill="#e6f5d0"/>
<rect x="251.09" y="285.90" width="7.22" height="7.90" fill="#eef6e4"/>
<rect x="257.91" y="285.90" width="7.22" height="7.90" fill="#faecf3"/>
<rect x="264.73" y="285.90" width="7.22" height="7.90" fill="#3a7b1d"/>
<rect x="271.55" y="285.90" width="7.22" height="7.90" fill="#fde0ef"/>
<rect x="278.36" y="285.90" width="7.22" height="7.90" fill="#e6f5d0"/>
<rect x="285.18" y="285.90" width="7.22" height="7.90" fill="#faecf3"/>
<rect x="292.00" y="285.90" width="7.22" height="7.90" fill="#faecf3"/>
<rect x="298.82" y="285.90" width="7.22" height="7.90" fill="#f7cbe4"/>
<rect x="305.64" y="285.90" width="7.22" height="7.90" fill="#e6f5d0"/>
<rect x="312.45" y="285.90" width="7.22" height="7.90" fill="#cfebab"/>
<rect x="319.27" y="285.90" width="7.22" height="7.90" fill="#cfebab"/>
<rect x="326.09" y="285.90" width="7.22" height="7.90" fill="#eef6e4"/>
<rect x="332.91" y="285.90" width="7.22" height="7.90" fill="#e6f5d0"/>
<rect x="339.73" y="285.90" width="7.22" height="7.90" fill="#f1b6da"/>
<rect x="346.55" y="285.90" width="7.22" height="7.90" fill="#f7cbe4"/>
<rect x="353.36" y="285.90" width="7.22" height="7.90" fill="#d24996"/>
<rect x="360.18" y="285.90" width="7.22" height="7.90" fill="#f7cbe4"/>
<rect x="367.00" y="285.90" width="7.22" height="7.90" fill="#c51b7d"/>
<rect x="373.82" y="285.90" width="7.22" height="7.90" fill="#c51b7d"/>
<rect x="380.64" y="285.90" width="7.22" height="7.90" fill="#c51b7d"/>
<rect x="387.45" y="285.90" width="7.22" height="7.90" fill="#de77ae"/>
<rect x="394.27" y="285.90" width="7.22" height="7.90" fill="#f7cbe4"/>
<rect x="401.09" y="285.90" width="7.22" height="7.90" fill="#de77ae"/>
<rect x="407.91" y="285.90" width="7.22" height="7.90" fill="#d24996"/>
<rect x="414.73" y="285.90" width="7.22" height="7.90" fill="#aa0e68"/>
<rect x="421.55" y="285.90" width="7.22" height="7.90" fill="#c51b7d"/>
<rect x="428.36" y="285.90" width="7.22" height="7.90" fill="#aa0e68"/>
<rect x="435.18" y="285.90" width="7.22" height="7.90" fill="#d24996"/>
<rect x="442.00" y="285.90" width="7.22" height="7.90" fill="#f1b6da"/>
<rect x="448.82" y="285.90" width="7.22" height="7.90" fill="#de77ae"/>
<rect x="455.64" y="285.90" width="7.22" height="7.90" fill="#f7cbe4"/>
<rect x="462.45" y="285.90" width="7.22" height="7.90" fill="#f1b6da"/>
<rect x="469.27" y="285.90" width="7.22" height="7.90" fill="#faecf3"/>
<rect x="476.09" y="285.90" width="7.22" height="7.90" fill="#fde0ef"/>
<rect x="482.91" y="285.90" width="7.22" height="7.90" fill="#e6f5d0"/>
<rect x="489.73" y="285.90" width="7.22" height="7.90" fill="#d24996"/>
<rect x="496.55" y="285.90" width="7.22" height="7.90" fill="#d24996"/>
<rect x="503.36" y="285.90" width="7.22" height="7.90" fill="#d24996"/>
<rect x="510.18" y="285.90" width="7.22" height="7.90" fill="#f1b6da"/>
<rect x="517.00" y="285.90" width="7.22" height="7.90" fill="#f1b6da"/>
<rect x="523.82" y="285.90" width="7.22" height="7.90" fill="#f1b6da"/>
<rect x="530.64" y="285.90" width="7.22" height="7.90" fill="#e896c4"/>
<rect x="537.45" y="285.90" width="7.22" height="7.90" fill="#e896c4"/>
<rect x="544.27" y="285.90" width="7.22" height="7.90" fill="#f7cbe4"/>
<rect x="551.09" y="285.90" width="7.22" height="7.90" fill="#e896c4"/>
<rect x="557.91" y="285.90" width="7.22" height="7.90" fill="#f1b6da"/>
<rect x="564.73" y="285.90" width="7.22" height="7.90" fill="#f1b6da"/>
<rect x="571.55" y="285.90" width="7.22" height="7.90" fill="#e896c4"/>
<rect x="578.36" y="285.90" width="7.22" height="7.90" fill="#e896c4"/>
<rect x="585.18" y="285.90" width="7.22" height="7.90" fill="#c51b7d"/>
<rect x="592.00" y="285.90" width="7.22" height="7.90" fill="#d24996"/>
<rect x="598.82" y="285.90" width="7.22" height="7.90" fill="#c51b7d"/>
<rect x="605.64" y="285.90" width="7.22" height="7.90" fill="#e896c4"/>
<rect x="612.45" y="285.90" width="7.22" height="7.90" fill="#8e0152"/>
<rect x="619.27" y="285.90" width="7.22" height="7.90" fill="#d24996"/>
<rect x="626.09" y="285.90" width="7.22" height="7.90" fill="#f7cbe4"/>
<rect x="632.91" y="285.90" width="7.22" height="7.90" fill="#f7f7f7"/>
<rect x="639.73" y="285.90" width="7.22" height="7.90" fill="#faecf3"/>
<rect x="646.55" y="285.90" width="7.22" height="7.90" fill="#fde0ef"/>
<rect x="653.36" y="285.90" width="7.22" height="7.90" fill="#faecf3"/>
<rect x="660.18" y="285.90" width="7.22" height="7.90" fill="#eef6e4"/>
<rect x="67.00" y="293.40" width="7.22" height="7.90" fill="#4d9221"/>
<rect x="73.82" y="293.40" width="7.22" height="7.90" fill="#66a731"/>
<rect x="80.64" y="293.40" width="7.22" height="7.90" fill="#e6f5d0"/>
<rect x="87.45" y="293.40" width="7.22" height="7.90" fill="#b8e186"/>
<rect x="94.27" y="293.40" width="7.22" height="7.90" fill="#b8e186"/>
<rect x="101.09" y="293.40" width="7.22" height="7.90" fill="#cfebab"/>
<rect x="107.91" y="293.40" width="7.22" height="7.90" fill="#cfebab"/>
<rect x="114.73" y="293.40" width="7.22" height="7.90" fill="#9cce64"/>
<rect x="121.55" y="293.40" width="7.22" height="7.90" fill="#e6f5d0"/>
<rect x="128.36" y="293.40" width="7.22" height="7.90" fill="#f7f7f7"/>
<rect x="135.18" y="293.40" width="7.22" height="7.90" fill="#eef6e4"/>
<rect x="142.00" y="293.40" width="7.22" height="7.90" fill="#f7f7f7"/>
<rect x="148.82" y="293.40" width="7.22" height="7.90" fill="#f7f7f7"/>
<rect x="155.64" y="293.40" width="7.22" height="7.90" fill="#eef6e4"/>
<rect x="162.45" y="293.40" width="7.22" height="7.90" fill="#fde0ef"/>
<rect x="169.27" y="293.40" width="7.22" height="7.90" fill="#f7f7f7"/>
<rect x="176.09" y="293.40" width="7.22" height="7.90" fill="#f7f7f7"/>
<rect x="182.91" y="293.40" width="7.22" height="7.90" fill="#fde0ef"/>
<rect x="189.73" y="293.40" width="7.22" height="7.90" fill="#e6f5d0"/>
<rect x="196.55" y="293.40" width="7.22" height="7.90" fill="#cfebab"/>
<rect x="203.36" y="293.40" width="7.22" height="7.90" fill="#eef6e4"/>
<rect x="210.18" y="293.40" width="7.22" height="7.90" fill="#eef6e4"/>
<rect x="217.00" y="293.40" width="7.22" height="7.90" fill="#faecf3"/>
<rect x="223.82" y="293.40" width="7.22" height="7.90" fill="#faecf3"/>
<rect x="230.64" y="293.40" width="7.22" height="7.90" fill="#eef6e4"/>
<rect x="237.45" y="293.40" width="7.22" height="7.90" fill="#f1b6da"/>
<rect x="244.27" y="293.40" width="7.22" height="7.90" fill="#faecf3"/>
<rect x="251.09" y="293.40" width="7.22" height="7.90" fill="#faecf3"/>
<rect x="257.91" y="293.40" width="7.22" height="7.90" fill="#f1b6da"/>
<rect x="264.73" y="293.40" width="7.22" height="7.90" fill="#b8e186"/>
<rect x="271.55" y="293.40" width="7.22" height="7.90" fill="#cfebab"/>
<rect x="278.36" y="293.40" width="7.22" height="7.90" fill="#cfebab"/>
<rect x="285.18" y="293.40" width="7.22" height="7.90" fill="#e6f5d0"/>
<rect x="292.00" y="293.40" width="7.22" height="7.90" fill="#f7f7f7"/>
<rect x="298.82" y="293.40" width="7.22" height="7.90" fill="#cfebab"/>
<rect x="305.64" y="293.40" width="7.22" height="7.90" fill="#4d9221"/>
<rect x="312.45" y="293.40" width="7.22" height="7.90" fill="#276419"/>
<rect x="319.27" y="293.40" width="7.22" height="7.90" fill="#9cce64"/>
<rect x="326.09" y="293.40" width="7.22" height="7.90" fill="#cfebab"/>
<rect x="332.91" y="293.40" width="7.22" height="7.90" fill="#e6f5d0"/>
<rect x="339.73" y="293.40" width="7.22" height="7.90" fill="#fde0ef"/>
<rect x="346.55" y="293.40" width="7.22" height="7.90" fill="#e896c4"/>
<rect x="353.36" y="293.40" width="7.22" height="7.90" fill="#f1b6da"/>
<rect x="360.18" y="293.40" width="7.22" height="7.90" fill="#f1b6da"/>
<rect x="367.00" y="293.40" width="7.22" height="7.90" fill="#faecf3"/>
<rect x="373.82" y="293.40" width="7.22" height="7.90" fill="#f1b6da"/>
<rect x="380.64" y="293.40" width="7.22" height="7.90" fill="#de77ae"/>
<rect x="387.45" y="293.40" width="7.22" height="7.90" fill="#f1b6da"/>
<rect x="394.27" y="293.40" width="7.22" height="7.90" fill="#c51b7d"/>
<rect x="401.09" y="293.40" width="7.22" height="7.90" fill="#de77ae"/>
<rect x="407.91" y="293.40" width="7.22" height="7.90" fill="#c51b7d"/>
<rect x="414.73" y="293.40" width="7.22" height="7.90" fill="#c51b7d"/>
<rect x="421.55" y="293.40" width="7.22" height="7.90" fill="#8e0152"/>
<rect x="428.36" y="293.40" width="7.22" height="7.90" fill="#aa0e68"/>
<rect x="435.18" y="293.40" width="7.22" height="7.90" fill="#aa0e68"/>
<rect x="442.00" y="293.40" width="7.22" height="7.90" fill="#e896c4"/>
<rect x="448.82" y="293.40" width="7.22" height="7.90" fill="#de77ae"/>
<rect x="455.64" y="293.40" width="7.22" height="7.90" fill="#fde0ef"/>
<rect x="462.45" y="293.40" width="7.22" height="7.90" fill="#fde0ef"/>
<rect x="469.27" y="293.40" width="7.22" height="7.90" fill="#f7cbe4"/>
<rect x="476.09" y="293.40" width="7.22" height="7.90" fill="#faecf3"/>
<rect x="482.91" y="293.40" width="7.22" height="7.90" fill="#fde0ef"/>
<rect x="489.73" y="293.40" width="7.22" height="7.90" fill="#aa0e68"/>
<rect x="496.55" y="293.40" width="7.22" height="7.90" fill="#aa0e68"/>
<rect x="503.36" y="293.40" width="7.22" height="7.90" fill="#aa0e68"/>
<rect x="510.18" y="293.40" width="7.22" height="7.90" fill="#fde0ef"/>
<rect x="517.00" y="293.40" width="7.22" height="7.90" fill="#f7cbe4"/>
<rect x="523.82" y="293.40" width="7.22" height="7.90" fill="#f1b6da"/>
<rect x="530.64" y="293.40" width="7.22" height="7.90" fill="#e896c4"/>
<rect x="537.45" y="293.40" width="7.22" height="7.90" fill="#f1b6da"/>
<rect x="544.27" y="293.40" width="7.22" height="7.90" fill="#fde0ef"/>
<rect x="551.09" y="293.40" width="7.22" height="7.90" fill="#f1b6da"/>
<rect x="557.91" y="293.40" width="7.22" height="7.90" fill="#e896c4"/>
<rect x="564.73" y="293.40" width="7.22" height="7.90" fill="#e896c4"/>
<rect x="571.55" y="293.40" width="7.22" height="7.90" fill="#f1b6da"/>
<rect x="578.36" y="293.40" width="7.22" height="7.90" fill="#f1b6da"/>
<rect x="585.18" y="293.40" width="7.22" height="7.90" fill="#e896c4"/>
<rect x="592.00" y="293.40" width="7.22" height="7.90" fill="#c51b7d"/>
<rect x="598.82" y="293.40" width="7.22" height="7.90" fill="#8e0152"/>
<rect x="605.64" y="293.40" width="7.22" height="7.90" fill="#aa0e68"/>
<rect x="612.45" y="293.40" width="7.22" height="7.90" fill="#c51b7d"/>
<rect x="619.27" y="293.40" width="7.22" height="7.90" fill="#aa0e68"/>
<rect x="626.09" y="293.40" width="7.22" height="7.90" fill="#e896c4"/>
<rect x="632.91" y="293.40" width="7.22" height="7.90" fill="#f7cbe4"/>
<rect x="639.73" y="293.40" width="7.22" height="7.90" fill="#f7cbe4"/>
<rect x="646.55" y="293.40" width="7.22" height="7.90" fill="#f7cbe4"/>
<rect x="653.36" y="293.40" width="7.22" height="7.90" fill="#faecf3"/>
<rect x="660.18" y="293.40" width="7.22" height="7.90" fill="#faecf3"/>
<rect x="67.00" y="300.90" width="7.22" height="7.90" fill="#4d9221"/>
<rect x="73.82" y="300.90" width="7.22" height="7.90" fill="#66a731"/>
<rect x="80.64" y="300.90" width="7.22" height="7.90" fill="#e6f5d0"/>
<rect x="87.45" y="300.90" width="7.22" height="7.90" fill="#cfebab"/>
<rect x="94.27" y="300.90" width="7.22" height="7.90" fill="#e6f5d0"/>
<rect x="101.09" y="300.90" width="7.22" height="7.90" fill="#b8e186"/>
<rect x="107.91" y="300.90" width="7.22" height="7.90" fill="#cfebab"/>
<rect x="114.73" y="300.90" width="7.22" height="7.90" fill="#eef6e4"/>
<rect x="121.55" y="300.90" width="7.22" height="7.90" fill="#e6f5d0"/>
<rect x="128.36" y="300.90" width="7.22" height="7.90" fill="#faecf3"/>
<rect x="135.18" y="300.90" width="7.22" height="7.90" fill="#eef6e4"/>
<rect x="142.00" y="300.90" width="7.22" height="7.90" fill="#eef6e4"/>
<rect x="148.82" y="300.90" width="7.22" height="7.90" fill="#fde0ef"/>
<rect x="155.64" y="300.90" width="7.22" height="7.90" fill="#faecf3"/>
<rect x="162.45" y="300.90" width="7.22" height="7.90" fill="#f7cbe4"/>
<rect x="169.27" y="300.90" width="7.22" height="7.90" fill="#faecf3"/>
<rect x="176.09" y="300.90" width="7.22" height="7.90" fill="#fde0ef"/>
<rect x="182.91" y="300.90" width="7.22" height="7.90" fill="#fde0ef"/>
<rect x="189.73" y="300.90" width="7.22" height="7.90" fill="#faecf3"/>
<rect x="196.55" y="300.90" width="7.22" height="7.90" fill="#f7f7f7"/>
<rect x="203.36" y="300.90" width="7.22" height="7.90" fill="#f7f7f7"/>
<rect x="210.18" y="300.90" width="7.22" height="7.90" fill="#f7f7f7"/>
<rect x="217.00" y="300.90" width="7.22" height="7.90" fill="#f7f7f7"/>
<rect x="223.82" y="300.90" width="7.22" height="7.90" fill="#f7f7f7"/>
<rect x="230.64" y="300.90" width="7.22" height="7.90" fill="#f7f7f7"/>
<rect x="237.45" y="300.90" width="7.22" height="7.90" fill="#e6f5d0"/>
<rect x="244.27" y="300.90" width="7.22" height="7.90" fill="#cfebab"/>
<rect x="251.09" y="300.90" width="7.22" height="7.90" fill="#eef6e4"/>
<rect x="257.91" y="300.90" width="7.22" height="7.90" fill="#faecf3"/>
<rect x="264.73" y="300.90" width="7.22" height="7.90" fill="#f7cbe4"/>
<rect x="271.55" y="300.90" width="7.22" height="7.90" fill="#eef6e4"/>
<rect x="278.36" y="300.90" width="7.22" height="7.90" fill="#eef6e4"/>
<rect x="285.18" y="300.90" width="7.22" height="7.90" fill="#faecf3"/>
<rect x="292.00" y="300.90" width="7.22" height="7.90" fill="#e6f5d0"/>
<rect x="298.82" y="300.90" width="7.22" height="7.90" fill="#e6f5d0"/>
<rect x="305.64" y="300.90" width="7.22" height="7.90" fill="#4d9221"/>
<rect x="312.45" y="300.90" width="7.22" height="7.90" fill="#66a731"/>
<rect x="319.27" y="300.90" width="7.22" height="7.90" fill="#eef6e4"/>
<rect x="326.09" y="300.90" width="7.22" height="7.90" fill="#9cce64"/>
<rect x="332.91" y="300.90" width="7.22" height="7.90" fill="#b8e186"/>
<rect x="339.73" y="300.90" width="7.22" height="7.90" fill="#faecf3"/>
<rect x="346.55" y="300.90" width="7.22" height="7.90" fill="#faecf3"/>
<rect x="353.36" y="300.90" width="7.22" height="7.90" fill="#f7cbe4"/>
<rect x="360.18" y="300.90" width="7.22" height="7.90" fill="#fde0ef"/>
<rect x="367.00" y="300.90" width="7.22" height="7.90" fill="#7fbc41"/>
<rect x="373.82" y="300.90" width="7.22" height="7.90" fill="#faecf3"/>
<rect x="380.64" y="300.90" width="7.22" height="7.90" fill="#f7cbe4"/>
<rect x="387.45" y="300.90" width="7.22" height="7.90" fill="#f7cbe4"/>
<rect x="394.27" y="300.90" width="7.22" height="7.90" fill="#e896c4"/>
<rect x="401.09" y="300.90" width="7.22" height="7.90" fill="#f1b6da"/>
<rect x="407.91" y="300.90" width="7.22" height="7.90" fill="#c51b7d"/>
<rect x="414.73" y="300.90" width="7.22" height="7.90" fill="#c51b7d"/>
<rect x="421.55" y="300.90" width="7.22" height="7.90" fill="#aa0e68"/>
<rect x="428.36" y="300.90" width="7.22" height="7.90" fill="#aa0e68"/>
<rect x="435.18" y="300.90" width="7.22" height="7.90" fill="#aa0e68"/>
<rect x="442.00" y="300.90" width="7.22" height="7.90" fill="#f7cbe4"/>
<rect x="448.82" y="300.90" width="7.22" height="7.90" fill="#f1b6da"/>
<rect x="455.64" y="300.90" width="7.22" height="7.90" fill="#fde0ef"/>
<rect x="462.45" y="300.90" width="7.22" height="7.90" fill="#f7cbe4"/>
<rect x="469.27" y="300.90" width="7.22" height="7.90" fill="#f7cbe4"/>
<rect x="476.09" y="300.90" width="7.22" height="7.90" fill="#fde0ef"/>
<rect x="482.91" y="300.90" width="7.22" height="7.90" fill="#faecf3"/>
<rect x="489.73" y="300.90" width="7.22" height="7.90" fill="#aa0e68"/>
<rect x="496.55" y="300.90" width="7.22" height="7.90" fill="#c51b7d"/>
<rect x="503.36" y="300.90" width="7.22" height="7.90" fill="#c51b7d"/>
<rect x="510.18" y="300.90" width="7.22" height="7.90" fill="#faecf3"/>
<rect x="517.00" y="300.90" width="7.22" height="7.90" fill="#f7cbe4"/>
<rect x="523.82" y="300.90" width="7.22" height="7.90" fill="#f7cbe4"/>
<rect x="530.64" y="300.90" width="7.22" height="7.90" fill="#f1b6da"/>
<rect x="537.45" y="300.90" width="7.22" height="7.90" fill="#f1b6da"/>
<rect x="544.27" y="300.90" width="7.22" height="7.90" fill="#f7cbe4"/>
<rect x="551.09" y="300.90" width="7.22" height="7.90" fill="#f1b6da"/>
<rect x="557.91" y="300.90" width="7.22" height="7.90" fill="#de77ae"/>
<rect x="564.73" y="300.90" width="7.22" height="7.90" fill="#de77ae"/>
<rect x="571.55" y="300.90" width="7.22" height="7.90" fill="#e896c4"/>
<rect x="578.36" y="300.90" width="7.22" height="7.90" fill="#e896c4"/>
<rect x="585.18" y="300.90" width="7.22" height="7.90" fill="#faecf3"/>
<rect x="592.00" y="300.90" width="7.22" height="7.90" fill="#f1b6da"/>
<rect x="598.82" y="300.90" width="7.22" height="7.90" fill="#aa0e68"/>
<rect x="605.64" y="300.90" width="7.22" height="7.90" fill="#8e0152"/>
<rect x="612.45" y="300.90" width="7.22" height="7.90" fill="#de77ae"/>
<rect x="619.27" y="300.90" width="7.22" height="7.90" fill="#de77ae"/>
<rect x="626.09" y="300.90" width="7.22" height="7.90" fill="#f1b6da"/>
<rect x="632.91" y="300.90" width="7.22" height="7.90" fill="#f7cbe4"/>
<rect x="639.73" y="300.90" width="7.22" height="7.90" fill="#f7cbe4"/>
<rect x="646.55" y="300.90" width="7.22" height="7.90" fill="#f7cbe4"/>
<rect x="653.36" y="300.90" width="7.22" height="7.90" fill="#fde0ef"/>
<rect x="660.18" y="300.90" width="7.22" height="7.90" fill="#fde0ef"/>
<rect x="67.00" y="308.40" width="7.22" height="7.90" fill="#3a7b1d"/>
<rect x="73.82" y="308.40" width="7.22" height="7.90" fill="#4d9221"/>
<rect x="80.64" y="308.40" width="7.22" height="7.90" fill="#e6f5d0"/>
<rect x="87.45" y="308.40" width="7.22" height="7.90" fill="#9cce64"/>
<rect x="94.27" y="308.40" width="7.22" height="7.90" fill="#7fbc41"/>
<rect x="101.09" y="308.40" width="7.22" height="7.90" fill="#b8e186"/>
<rect x="107.91" y="308.40" width="7.22" height="7.90" fill="#cfebab"/>
<rect x="114.73" y="308.40" width="7.22" height="7.90" fill="#cfebab"/>
<rect x="121.55" y="308.40" width="7.22" height="7.90" fill="#e6f5d0"/>
<rect x="128.36" y="308.40" width="7.22" height="7.90" fill="#faecf3"/>
<rect x="135.18" y="308.40" width="7.22" height="7.90" fill="#eef6e4"/>
<rect x="142.00" y="308.40" width="7.22" height="7.90" fill="#b8e186"/>
<rect x="148.82" y="308.40" width="7.22" height="7.90" fill="#fde0ef"/>
<rect x="155.64" y="308.40" width="7.22" height="7.90" fill="#f7f7f7"/>
<rect x="162.45" y="308.40" width="7.22" height="7.90" fill="#fde0ef"/>
<rect x="169.27" y="308.40" width="7.22" height="7.90" fill="#faecf3"/>
<rect x="176.09" y="308.40" width="7.22" height="7.90" fill="#fde0ef"/>
<rect x="182.91" y="308.40" width="7.22" height="7.90" fill="#fde0ef"/>
<rect x="189.73" y="308.40" width="7.22" height="7.90" fill="#eef6e4"/>
<rect x="196.55" y="308.40" width="7.22" height="7.90" fill="#eef6e4"/>
<rect x="203.36" y="308.40" width="7.22" height="7.90" fill="#eef6e4"/>
<rect x="210.18" y="308.40" width="7.22" height="7.90" fill="#eef6e4"/>
<rect x="217.00" y="308.40" width="7.22" height="7.90" fill="#faecf3"/>
<rect x="223.82" y="308.40" width="7.22" height="7.90" fill="#f7f7f7"/>
<rect x="230.64" y="308.40" width="7.22" height="7.90" fill="#eef6e4"/>
<rect x="237.45" y="308.40" width="7.22" height="7.90" fill="#faecf3"/>
<rect x="244.27" y="308.40" width="7.22" height="7.90" fill="#f7f7f7"/>
<rect x="251.09" y="308.40" width="7.22" height="7.90" fill="#f7f7f7"/>
<rect x="257.91" y="308.40" width="7.22" height="7.90" fill="#faecf3"/>
<rect x="264.73" y="308.40" width="7.22" height="7.90" fill="#8e0152"/>
<rect x="271.55" y="308.40" width="7.22" height="7.90" fill="#e6f5d0"/>
<rect x="278.36" y="308.40" width="7.22" height="7.90" fill="#e6f5d0"/>
<rect x="285.18" y="308.40" width="7.22" height="7.90" fill="#eef6e4"/>
<rect x="292.00" y="308.40" width="7.22" height="7.90" fill="#eef6e4"/>
<rect x="298.82" y="308.40" width="7.22" height="7.90" fill="#cfebab"/>
<rect x="305.64" y="308.40" width="7.22" height="7.90" fill="#4d9221"/>
<rect x="312.45" y="308.40" width="7.22" height="7.90" fill="#3a7b1d"/>
<rect x="319.27" y="308.40" width="7.22" height="7.90" fill="#e6f5d0"/>
<rect x="326.09" y="308.40" width="7.22" height="7.90" fill="#9cce64"/>
<rect x="332.91" y="308.40" width="7.22" height="7.90" fill="#b8e186"/>
<rect x="339.73" y="308.40" width="7.22" height="7.90" fill="#eef6e4"/>
<rect x="346.55" y="308.40" width="7.22" height="7.90" fill="#f7f7f7"/>
<rect x="353.36" y="308.40" width="7.22" height="7.90" fill="#fde0ef"/>
<rect x="360.18" y="308.40" width="7.22" height="7.90" fill="#faecf3"/>
<rect x="367.00" y="308.40" width="7.22" height="7.90" fill="#7fbc41"/>
<rect x="373.82" y="308.40" width="7.22" height="7.90" fill="#faecf3"/>
<rect x="380.64" y="308.40" width="7.22" height="7.90" fill="#f1b6da"/>
<rect x="387.45" y="308.40" width="7.22" height="7.90" fill="#f7cbe4"/>
<rect x="394.27" y="308.40" width="7.22" height="7.90" fill="#d24996"/>
<rect x="401.09" y="308.40" width="7.22" height="7.90" fill="#e896c4"/>
<rect x="407.91" y="308.40" width="7.22" height="7.90" fill="#c51b7d"/>
<rect x="414.73" y="308.40" width="7.22" height="7.90" fill="#c51b7d"/>
<rect x="421.55" y="308.40" width="7.22" height="7.90" fill="#8e0152"/>
<rect x="428.36" y="308.40" width="7.22" height="7.90" fill="#aa0e68"/>
<rect x="435.18" y="308.40" width="7.22" height="7.90" fill="#aa0e68"/>
<rect x="442.00" y="308.40" width="7.22" height="7.90" fill="#f7cbe4"/>
<rect x="448.82" y="308.40" width="7.22" height="7.90" fill="#f1b6da"/>
<rect x="455.64" y="308.40" width="7.22" height="7.90" fill="#fde0ef"/>
<rect x="462.45" y="308.40" width="7.22" height="7.90" fill="#fde0ef"/>
<rect x="469.27" y="308.40" width="7.22" height="7.90" fill="#e896c4"/>
<rect x="476.09" y="308.40" width="7.22" height="7.90" fill="#fde0ef"/>
<rect x="482.91" y="308.40" width="7.22" height="7.90" fill="#fde0ef"/>
<rect x="489.73" y="308.40" width="7.22" height="7.90" fill="#8e0152"/>
<rect x="496.55" y="308.40" width="7.22" height="7.90" fill="#8e0152"/>
<rect x="503.36" y="308.40" width="7.22" height="7.90" fill="#aa0e68"/>
<rect x="510.18" y="308.40" width="7.22" height="7.90" fill="#faecf3"/>
<rect x="517.00" y="308.40" width="7.22" height="7.90" fill="#f7cbe4"/>
<rect x="523.82" y="308.40" width="7.22" height="7.90" fill="#f7cbe4"/>
<rect x="530.64" y="308.40" width="7.22" height="7.90" fill="#f1b6da"/>
<rect x="537.45" y="308.40" width="7.22" height="7.90" fill="#f1b6da"/>
<rect x="544.27" y="308.40" width="7.22" height="7.90" fill="#fde0ef"/>
<rect x="551.09" y="308.40" width="7.22" height="7.90" fill="#f1b6da"/>
<rect x="557.91" y="308.40" width="7.22" height="7.90" fill="#de77ae"/>
<rect x="564.73" y="308.40" width="7.22" height="7.90" fill="#de77ae"/>
<rect x="571.55" y="308.40" width="7.22" height="7.90" fill="#e896c4"/>
<rect x="578.36" y="308.40" width="7.22" height="7.90" fill="#e896c4"/>
<rect x="585.18" y="308.40" width="7.22" height="7.90" fill="#f1b6da"/>
<rect x="592.00" y="308.40" width="7.22" height="7.90" fill="#de77ae"/>
<rect x="598.82" y="308.40" width="7.22" height="7.90" fill="#8e0152"/>
<rect x="605.64" y="308.40" width="7.22" height="7.90" fill="#8e0152"/>
<rect x="612.45" y="308.40" width="7.22" height="7.90" fill="#de77ae"/>
<rect x="619.27" y="308.40" width="7.22" height="7.90" fill="#c51b7d"/>
<rect x="626.09" y="308.40" width="7.22" height="7.90" fill="#f1b6da"/>
<rect x="632.91" y="308.40" width="7.22" height="7.90" fill="#f1b6da"/>
<rect x="639.73" y="308.40" width="7.22" height="7.90" fill="#f7cbe4"/>
<rect x="646.55" y="308.40" width="7.22" height="7.90" fill="#f7cbe4"/>
<rect x="653.36" y="308.40" width="7.22" height="7.90" fill="#fde0ef"/>
<rect x="660.18" y="308.40" width="7.22" height="7.90" fill="#faecf3"/>
<text transform="translate(74.11,176.00) rotate(-90)" font-size="7.5" text-anchor="start" fill="#1a1a1a">S29</text>
<text transform="translate(80.93,176.00) rotate(-90)" font-size="7.5" text-anchor="start" fill="#1a1a1a">C14</text>
<text transform="translate(87.75,176.00) rotate(-90)" font-size="7.5" text-anchor="start" fill="#1a1a1a">D24</text>
<text transform="translate(94.56,176.00) rotate(-90)" font-size="7.5" text-anchor="start" fill="#1a1a1a">S22</text>
<text transform="translate(101.38,176.00) rotate(-90)" font-size="7.5" text-anchor="start" fill="#1a1a1a">S21</text>
<text transform="translate(108.20,176.00) rotate(-90)" font-size="7.5" text-anchor="start" fill="#1a1a1a">D25</text>
<text transform="translate(115.02,176.00) rotate(-90)" font-size="7.5" text-anchor="start" fill="#1a1a1a">D22</text>
<text transform="translate(121.84,176.00) rotate(-90)" font-size="7.5" text-anchor="start" fill="#1a1a1a">C31</text>
<text transform="translate(128.65,176.00) rotate(-90)" font-size="7.5" text-anchor="start" fill="#1a1a1a">D27</text>
<text transform="translate(135.47,176.00) rotate(-90)" font-size="7.5" text-anchor="start" fill="#1a1a1a">C20</text>
<text transform="translate(142.29,176.00) rotate(-90)" font-size="7.5" text-anchor="start" fill="#1a1a1a">C6</text>
<text transform="translate(149.11,176.00) rotate(-90)" font-size="7.5" text-anchor="start" fill="#1a1a1a">D21</text>
<text transform="translate(155.93,176.00) rotate(-90)" font-size="7.5" text-anchor="start" fill="#1a1a1a">S30</text>
<text transform="translate(162.75,176.00) rotate(-90)" font-size="7.5" text-anchor="start" fill="#1a1a1a">S8</text>
<text transform="translate(169.56,176.00) rotate(-90)" font-size="7.5" text-anchor="start" fill="#1a1a1a">C22</text>
<text transform="translate(176.38,176.00) rotate(-90)" font-size="7.5" text-anchor="start" fill="#1a1a1a">S24</text>
<text transform="translate(183.20,176.00) rotate(-90)" font-size="7.5" text-anchor="start" fill="#1a1a1a">S10</text>
<text transform="translate(190.02,176.00) rotate(-90)" font-size="7.5" text-anchor="start" fill="#1a1a1a">C28</text>
<text transform="translate(196.84,176.00) rotate(-90)" font-size="7.5" text-anchor="start" fill="#1a1a1a">S16</text>
<text transform="translate(203.65,176.00) rotate(-90)" font-size="7.5" text-anchor="start" fill="#1a1a1a">S15</text>
<text transform="translate(210.47,176.00) rotate(-90)" font-size="7.5" text-anchor="start" fill="#1a1a1a">S17</text>
<text transform="translate(217.29,176.00) rotate(-90)" font-size="7.5" text-anchor="start" fill="#1a1a1a">C27</text>
<text transform="translate(224.11,176.00) rotate(-90)" font-size="7.5" text-anchor="start" fill="#1a1a1a">S11</text>
<text transform="translate(230.93,176.00) rotate(-90)" font-size="7.5" text-anchor="start" fill="#1a1a1a">S14</text>
<text transform="translate(237.75,176.00) rotate(-90)" font-size="7.5" text-anchor="start" fill="#1a1a1a">S12</text>
<text transform="translate(244.56,176.00) rotate(-90)" font-size="7.5" text-anchor="start" fill="#1a1a1a">S20</text>
<text transform="translate(251.38,176.00) rotate(-90)" font-size="7.5" text-anchor="start" fill="#1a1a1a">C9</text>
<text transform="translate(258.20,176.00) rotate(-90)" font-size="7.5" text-anchor="start" fill="#1a1a1a">S6</text>
<text transform="translate(265.02,176.00) rotate(-90)" font-size="7.5" text-anchor="start" fill="#1a1a1a">C1</text>
<text transform="translate(271.84,176.00) rotate(-90)" font-size="7.5" text-anchor="start" fill="#1a1a1a">C29</text>
<text transform="translate(278.65,176.00) rotate(-90)" font-size="7.5" text-anchor="start" fill="#1a1a1a">C12</text>
<text transform="translate(285.47,176.00) rotate(-90)" font-size="7.5" text-anchor="start" fill="#1a1a1a">C30</text>
<text transform="translate(292.29,176.00) rotate(-90)" font-size="7.5" text-anchor="start" fill="#1a1a1a">C16</text>
<text transform="translate(299.11,176.00) rotate(-90)" font-size="7.5" text-anchor="start" fill="#1a1a1a">S5</text>
<text transform="translate(305.93,176.00) rotate(-90)" font-size="7.5" text-anchor="start" fill="#1a1a1a">S13</text>
<text transform="translate(312.75,176.00) rotate(-90)" font-size="7.5" text-anchor="start" fill="#1a1a1a">C19</text>
<text transform="translate(319.56,176.00) rotate(-90)" font-size="7.5" text-anchor="start" fill="#1a1a1a">S23</text>
<text transform="translate(326.38,176.00) rotate(-90)" font-size="7.5" text-anchor="start" fill="#1a1a1a">C17</text>
<text transform="translate(333.20,176.00) rotate(-90)" font-size="7.5" text-anchor="start" fill="#1a1a1a">C18</text>
<text transform="translate(340.02,176.00) rotate(-90)" font-size="7.5" text-anchor="start" fill="#1a1a1a">C23</text>
<text transform="translate(346.84,176.00) rotate(-90)" font-size="7.5" text-anchor="start" fill="#1a1a1a">D23</text>
<text transform="translate(353.65,176.00) rotate(-90)" font-size="7.5" text-anchor="start" fill="#1a1a1a">C13</text>
<text transform="translate(360.47,176.00) rotate(-90)" font-size="7.5" text-anchor="start" fill="#1a1a1a">C25</text>
<text transform="translate(367.29,176.00) rotate(-90)" font-size="7.5" text-anchor="start" fill="#1a1a1a">D26</text>
<text transform="translate(374.11,176.00) rotate(-90)" font-size="7.5" text-anchor="start" fill="#1a1a1a">C26</text>
<text transform="translate(380.93,176.00) rotate(-90)" font-size="7.5" text-anchor="start" fill="#1a1a1a">C8</text>
<text transform="translate(387.75,176.00) rotate(-90)" font-size="7.5" text-anchor="start" fill="#1a1a1a">C24</text>
<text transform="translate(394.56,176.00) rotate(-90)" font-size="7.5" text-anchor="start" fill="#1a1a1a">C21</text>
<text transform="translate(401.38,176.00) rotate(-90)" font-size="7.5" text-anchor="start" fill="#1a1a1a">S7</text>
<text transform="translate(408.20,176.00) rotate(-90)" font-size="7.5" text-anchor="start" fill="#1a1a1a">C10</text>
<text transform="translate(415.02,176.00) rotate(-90)" font-size="7.5" text-anchor="start" fill="#1a1a1a">D10</text>
<text transform="translate(421.84,176.00) rotate(-90)" font-size="7.5" text-anchor="start" fill="#1a1a1a">D14</text>
<text transform="translate(428.65,176.00) rotate(-90)" font-size="7.5" text-anchor="start" fill="#1a1a1a">S26</text>
<text transform="translate(435.47,176.00) rotate(-90)" font-size="7.5" text-anchor="start" fill="#1a1a1a">D19</text>
<text transform="translate(442.29,176.00) rotate(-90)" font-size="7.5" text-anchor="start" fill="#1a1a1a">D6</text>
<text transform="translate(449.11,176.00) rotate(-90)" font-size="7.5" text-anchor="start" fill="#1a1a1a">C4</text>
<text transform="translate(455.93,176.00) rotate(-90)" font-size="7.5" text-anchor="start" fill="#1a1a1a">C5</text>
<text transform="translate(462.75,176.00) rotate(-90)" font-size="7.5" text-anchor="start" fill="#1a1a1a">S4</text>
<text transform="translate(469.56,176.00) rotate(-90)" font-size="7.5" text-anchor="start" fill="#1a1a1a">C15</text>
<text transform="translate(476.38,176.00) rotate(-90)" font-size="7.5" text-anchor="start" fill="#1a1a1a">C3</text>
<text transform="translate(483.20,176.00) rotate(-90)" font-size="7.5" text-anchor="start" fill="#1a1a1a">C11</text>
<text transform="translate(490.02,176.00) rotate(-90)" font-size="7.5" text-anchor="start" fill="#1a1a1a">S28</text>
<text transform="translate(496.84,176.00) rotate(-90)" font-size="7.5" text-anchor="start" fill="#1a1a1a">S27</text>
<text transform="translate(503.65,176.00) rotate(-90)" font-size="7.5" text-anchor="start" fill="#1a1a1a">S25</text>
<text transform="translate(510.47,176.00) rotate(-90)" font-size="7.5" text-anchor="start" fill="#1a1a1a">S9</text>
<text transform="translate(517.29,176.00) rotate(-90)" font-size="7.5" text-anchor="start" fill="#1a1a1a">D17</text>
<text transform="translate(524.11,176.00) rotate(-90)" font-size="7.5" text-anchor="start" fill="#1a1a1a">D3</text>
<text transform="translate(530.93,176.00) rotate(-90)" font-size="7.5" text-anchor="start" fill="#1a1a1a">D18</text>
<text transform="translate(537.75,176.00) rotate(-90)" font-size="7.5" text-anchor="start" fill="#1a1a1a">D8</text>
<text transform="translate(544.56,176.00) rotate(-90)" font-size="7.5" text-anchor="start" fill="#1a1a1a">D16</text>
<text transform="translate(551.38,176.00) rotate(-90)" font-size="7.5" text-anchor="start" fill="#1a1a1a">D15</text>
<text transform="translate(558.20,176.00) rotate(-90)" font-size="7.5" text-anchor="start" fill="#1a1a1a">D4</text>
<text transform="translate(565.02,176.00) rotate(-90)" font-size="7.5" text-anchor="start" fill="#1a1a1a">C7</text>
<text transform="translate(571.84,176.00) rotate(-90)" font-size="7.5" text-anchor="start" fill="#1a1a1a">D11</text>
<text transform="translate(578.65,176.00) rotate(-90)" font-size="7.5" text-anchor="start" fill="#1a1a1a">D13</text>
<text transform="translate(585.47,176.00) rotate(-90)" font-size="7.5" text-anchor="start" fill="#1a1a1a">D12</text>
<text transform="translate(592.29,176.00) rotate(-90)" font-size="7.5" text-anchor="start" fill="#1a1a1a">C2</text>
<text transform="translate(599.11,176.00) rotate(-90)" font-size="7.5" text-anchor="start" fill="#1a1a1a">S19</text>
<text transform="translate(605.93,176.00) rotate(-90)" font-size="7.5" text-anchor="start" fill="#1a1a1a">D2</text>
<text transform="translate(612.75,176.00) rotate(-90)" font-size="7.5" text-anchor="start" fill="#1a1a1a">D7</text>
<text transform="translate(619.56,176.00) rotate(-90)" font-size="7.5" text-anchor="start" fill="#1a1a1a">S1</text>
<text transform="translate(626.38,176.00) rotate(-90)" font-size="7.5" text-anchor="start" fill="#1a1a1a">S18</text>
<text transform="translate(633.20,176.00) rotate(-90)" font-size="7.5" text-anchor="start" fill="#1a1a1a">S2</text>
<text transform="translate(640.02,176.00) rotate(-90)" font-size="7.5" text-anchor="start" fill="#1a1a1a">S3</text>
<text transform="translate(646.84,176.00) rotate(-90)" font-size="7.5" text-anchor="start" fill="#1a1a1a">D5</text>
<text transform="translate(653.65,176.00) rotate(-90)" font-size="7.5" text-anchor="start" fill="#1a1a1a">D20</text>
<text transform="translate(660.47,176.00) rotate(-90)" font-size="7.5" text-anchor="start" fill="#1a1a1a">D1</text>
<text transform="translate(667.29,176.00) rotate(-90)" font-size="7.5" text-anchor="start" fill="#1a1a1a">D9</text>
<path d="M71.41 176.6v1.2 M70.41 315.9v1.1 M78.23 176.6v1.2 M77.23 315.9v1.1 M85.05 176.6v1.2 M84.05 315.9v1.1 M91.86 176.6v1.2 M90.86 315.9v1.1 M98.68 176.6v1.2 M97.68 315.9v1.1 M105.50 176.6v1.2 M104.50 315.9v1.1 M112.32 176.6v1.2 M111.32 315.9v1.1 M119.14 176.6v1.2 M118.14 315.9v1.1 M125.95 176.6v1.2 M124.95 315.9v1.1 M132.77 176.6v1.2 M131.77 315.9v1.1 M139.59 176.6v1.2 M138.59 315.9v1.1 M146.41 176.6v1.2 M145.41 315.9v1.1 M153.23 176.6v1.2 M152.23 315.9v1.1 M160.05 176.6v1.2 M159.05 315.9v1.1 M166.86 176.6v1.2 M165.86 315.9v1.1 M173.68 176.6v1.2 M172.68 315.9v1.1 M180.50 176.6v1.2 M179.50 315.9v1.1 M187.32 176.6v1.2 M186.32 315.9v1.1 M194.14 176.6v1.2 M193.14 315.9v1.1 M200.95 176.6v1.2 M199.95 315.9v1.1 M207.77 176.6v1.2 M206.77 315.9v1.1 M214.59 176.6v1.2 M213.59 315.9v1.1 M221.41 176.6v1.2 M220.41 315.9v1.1 M228.23 176.6v1.2 M227.23 315.9v1.1 M235.05 176.6v1.2 M234.05 315.9v1.1 M241.86 176.6v1.2 M240.86 315.9v1.1 M248.68 176.6v1.2 M247.68 315.9v1.1 M255.50 176.6v1.2 M254.50 315.9v1.1 M262.32 176.6v1.2 M261.32 315.9v1.1 M269.14 176.6v1.2 M268.14 315.9v1.1 M275.95 176.6v1.2 M274.95 315.9v1.1 M282.77 176.6v1.2 M281.77 315.9v1.1 M289.59 176.6v1.2 M288.59 315.9v1.1 M296.41 176.6v1.2 M295.41 315.9v1.1 M303.23 176.6v1.2 M302.23 315.9v1.1 M310.05 176.6v1.2 M309.05 315.9v1.1 M316.86 176.6v1.2 M315.86 315.9v1.1 M323.68 176.6v1.2 M322.68 315.9v1.1 M330.50 176.6v1.2 M329.50 315.9v1.1 M337.32 176.6v1.2 M336.32 315.9v1.1 M344.14 176.6v1.2 M343.14 315.9v1.1 M350.95 176.6v1.2 M349.95 315.9v1.1 M357.77 176.6v1.2 M356.77 315.9v1.1 M364.59 176.6v1.2 M363.59 315.9v1.1 M371.41 176.6v1.2 M370.41 315.9v1.1 M378.23 176.6v1.2 M377.23 315.9v1.1 M385.05 176.6v1.2 M384.05 315.9v1.1 M391.86 176.6v1.2 M390.86 315.9v1.1 M398.68 176.6v1.2 M397.68 315.9v1.1 M405.50 176.6v1.2 M404.50 315.9v1.1 M412.32 176.6v1.2 M411.32 315.9v1.1 M419.14 176.6v1.2 M418.14 315.9v1.1 M425.95 176.6v1.2 M424.95 315.9v1.1 M432.77 176.6v1.2 M431.77 315.9v1.1 M439.59 176.6v1.2 M438.59 315.9v1.1 M446.41 176.6v1.2 M445.41 315.9v1.1 M453.23 176.6v1.2 M452.23 315.9v1.1 M460.05 176.6v1.2 M459.05 315.9v1.1 M466.86 176.6v1.2 M465.86 315.9v1.1 M473.68 176.6v1.2 M472.68 315.9v1.1 M480.50 176.6v1.2 M479.50 315.9v1.1 M487.32 176.6v1.2 M486.32 315.9v1.1 M494.14 176.6v1.2 M493.14 315.9v1.1 M500.95 176.6v1.2 M499.95 315.9v1.1 M507.77 176.6v1.2 M506.77 315.9v1.1 M514.59 176.6v1.2 M513.59 315.9v1.1 M521.41 176.6v1.2 M520.41 315.9v1.1 M528.23 176.6v1.2 M527.23 315.9v1.1 M535.05 176.6v1.2 M534.05 315.9v1.1 M541.86 176.6v1.2 M540.86 315.9v1.1 M548.68 176.6v1.2 M547.68 315.9v1.1 M555.50 176.6v1.2 M554.50 315.9v1.1 M562.32 176.6v1.2 M561.32 315.9v1.1 M569.14 176.6v1.2 M568.14 315.9v1.1 M575.95 176.6v1.2 M574.95 315.9v1.1 M582.77 176.6v1.2 M581.77 315.9v1.1 M589.59 176.6v1.2 M588.59 315.9v1.1 M596.41 176.6v1.2 M595.41 315.9v1.1 M603.23 176.6v1.2 M602.23 315.9v1.1 M610.05 176.6v1.2 M609.05 315.9v1.1 M616.86 176.6v1.2 M615.86 315.9v1.1 M623.68 176.6v1.2 M622.68 315.9v1.1 M630.50 176.6v1.2 M629.50 315.9v1.1 M637.32 176.6v1.2 M636.32 315.9v1.1 M644.14 176.6v1.2 M643.14 315.9v1.1 M650.95 176.6v1.2 M649.95 315.9v1.1 M657.77 176.6v1.2 M656.77 315.9v1.1 M664.59 176.6v1.2 M663.59 315.9v1.1 M65.2 181.78h1.4 M65.2 252.15h1.4 M65.2 189.33h1.4 M65.2 259.65h1.4 M65.2 196.89h1.4 M65.2 267.15h1.4 M65.2 204.44h1.4 M65.2 274.65h1.4 M65.2 212.00h1.4 M65.2 282.15h1.4 M65.2 219.56h1.4 M65.2 289.65h1.4 M65.2 227.11h1.4 M65.2 297.15h1.4 M65.2 234.67h1.4 M65.2 304.65h1.4 M65.2 242.22h1.4 M65.2 312.15h1.4" stroke="#555" stroke-width="0.7"/>
<path d="M136.69 320.50 L140.49 320.50 M137.64 318.85 L139.54 322.15 M139.54 318.85 L137.64 322.15" stroke="#333" stroke-width="0.8"/>
<path d="M136.69 325.50 L140.49 325.50 M137.64 323.85 L139.54 327.15 M139.54 323.85 L137.64 327.15" stroke="#333" stroke-width="0.8"/>
<path d="M170.78 320.50 L174.58 320.50 M171.73 318.85 L173.63 322.15 M173.63 318.85 L171.73 322.15" stroke="#333" stroke-width="0.8"/>
<path d="M177.60 320.50 L181.40 320.50 M178.55 318.85 L180.45 322.15 M180.45 318.85 L178.55 322.15" stroke="#333" stroke-width="0.8"/>
<path d="M184.42 320.50 L188.22 320.50 M185.37 318.85 L187.27 322.15 M187.27 318.85 L185.37 322.15" stroke="#333" stroke-width="0.8"/>
<path d="M191.24 320.50 L195.04 320.50 M192.19 318.85 L194.09 322.15 M194.09 318.85 L192.19 322.15" stroke="#333" stroke-width="0.8"/>
<path d="M204.87 320.50 L208.67 320.50 M205.82 318.85 L207.72 322.15 M207.72 318.85 L205.82 322.15" stroke="#333" stroke-width="0.8"/>
<path d="M211.69 320.50 L215.49 320.50 M212.64 318.85 L214.54 322.15 M214.54 318.85 L212.64 322.15" stroke="#333" stroke-width="0.8"/>
<path d="M218.51 320.50 L222.31 320.50 M219.46 318.85 L221.36 322.15 M221.36 318.85 L219.46 322.15" stroke="#333" stroke-width="0.8"/>
<path d="M225.33 320.50 L229.13 320.50 M226.28 318.85 L228.18 322.15 M228.18 318.85 L226.28 322.15" stroke="#333" stroke-width="0.8"/>
<path d="M232.15 320.50 L235.95 320.50 M233.10 318.85 L235.00 322.15 M235.00 318.85 L233.10 322.15" stroke="#333" stroke-width="0.8"/>
<path d="M245.78 320.50 L249.58 320.50 M246.73 318.85 L248.63 322.15 M248.63 318.85 L246.73 322.15" stroke="#333" stroke-width="0.8"/>
<path d="M252.60 320.50 L256.40 320.50 M253.55 318.85 L255.45 322.15 M255.45 318.85 L253.55 322.15" stroke="#333" stroke-width="0.8"/>
<path d="M252.60 325.50 L256.40 325.50 M253.55 323.85 L255.45 327.15 M255.45 323.85 L253.55 327.15" stroke="#333" stroke-width="0.8"/>
<path d="M259.42 320.50 L263.22 320.50 M260.37 318.85 L262.27 322.15 M262.27 318.85 L260.37 322.15" stroke="#333" stroke-width="0.8"/>
<path d="M293.51 320.50 L297.31 320.50 M294.46 318.85 L296.36 322.15 M296.36 318.85 L294.46 322.15" stroke="#333" stroke-width="0.8"/>
<path d="M293.51 325.50 L297.31 325.50 M294.46 323.85 L296.36 327.15 M296.36 323.85 L294.46 327.15" stroke="#333" stroke-width="0.8"/>
<path d="M300.33 320.50 L304.13 320.50 M301.28 318.85 L303.18 322.15 M303.18 318.85 L301.28 322.15" stroke="#333" stroke-width="0.8"/>
<path d="M313.96 320.50 L317.76 320.50 M314.91 318.85 L316.81 322.15 M316.81 318.85 L314.91 322.15" stroke="#333" stroke-width="0.8"/>
<path d="M395.78 320.50 L399.58 320.50 M396.73 318.85 L398.63 322.15 M398.63 318.85 L396.73 322.15" stroke="#333" stroke-width="0.8"/>
<path d="M429.87 320.50 L433.67 320.50 M430.82 318.85 L432.72 322.15 M432.72 318.85 L430.82 322.15" stroke="#333" stroke-width="0.8"/>
<path d="M436.69 320.50 L440.49 320.50 M437.64 318.85 L439.54 322.15 M439.54 318.85 L437.64 322.15" stroke="#333" stroke-width="0.8"/>
<path d="M436.69 325.50 L440.49 325.50 M437.64 323.85 L439.54 327.15 M439.54 323.85 L437.64 327.15" stroke="#333" stroke-width="0.8"/>
<path d="M491.24 320.50 L495.04 320.50 M492.19 318.85 L494.09 322.15 M494.09 318.85 L492.19 322.15" stroke="#333" stroke-width="0.8"/>
<path d="M498.05 320.50 L501.85 320.50 M499.00 318.85 L500.90 322.15 M500.90 318.85 L499.00 322.15" stroke="#333" stroke-width="0.8"/>
<path d="M504.87 320.50 L508.67 320.50 M505.82 318.85 L507.72 322.15 M507.72 318.85 L505.82 322.15" stroke="#333" stroke-width="0.8"/>
<path d="M518.51 320.50 L522.31 320.50 M519.46 318.85 L521.36 322.15 M521.36 318.85 L519.46 322.15" stroke="#333" stroke-width="0.8"/>
<path d="M525.33 320.50 L529.13 320.50 M526.28 318.85 L528.18 322.15 M528.18 318.85 L526.28 322.15" stroke="#333" stroke-width="0.8"/>
<path d="M552.60 320.50 L556.40 320.50 M553.55 318.85 L555.45 322.15 M555.45 318.85 L553.55 322.15" stroke="#333" stroke-width="0.8"/>
<path d="M586.69 320.50 L590.49 320.50 M587.64 318.85 L589.54 322.15 M589.54 318.85 L587.64 322.15" stroke="#333" stroke-width="0.8"/>
<path d="M593.51 320.50 L597.31 320.50 M594.46 318.85 L596.36 322.15 M596.36 318.85 L594.46 322.15" stroke="#333" stroke-width="0.8"/>
<path d="M613.96 320.50 L617.76 320.50 M614.91 318.85 L616.81 322.15 M616.81 318.85 L614.91 322.15" stroke="#333" stroke-width="0.8"/>
<path d="M627.60 320.50 L631.40 320.50 M628.55 318.85 L630.45 322.15 M630.45 318.85 L628.55 322.15" stroke="#333" stroke-width="0.8"/>
<path d="M634.42 320.50 L638.22 320.50 M635.37 318.85 L637.27 322.15 M637.27 318.85 L635.37 322.15" stroke="#333" stroke-width="0.8"/>
<defs><linearGradient id="cb259" x1="0" y1="0" x2="0" y2="1"><stop offset="0.00" stop-color="#276419"/><stop offset="0.10" stop-color="#4d9221"/><stop offset="0.20" stop-color="#7fbc41"/><stop offset="0.30" stop-color="#b8e186"/><stop offset="0.40" stop-color="#e6f5d0"/><stop offset="0.50" stop-color="#f7f7f7"/><stop offset="0.60" stop-color="#fde0ef"/><stop offset="0.70" stop-color="#f1b6da"/><stop offset="0.80" stop-color="#de77ae"/><stop offset="0.90" stop-color="#c51b7d"/><stop offset="1.00" stop-color="#8e0152"/></linearGradient></defs>
<rect x="676.0" y="259.0" width="5.7" height="49.69999999999999" fill="url(#cb259)"/>
<text x="674.80" y="256.80" font-size="7" text-anchor="start" fill="#222" >1.0</text>
<text x="674.80" y="318.00" font-size="7" text-anchor="start" fill="#222" >0.0</text>
<text x="0.00" y="347.90" font-size="9.5" text-anchor="start" fill="#000" >(c)</text>
<text x="44.20" y="388.90" font-size="9.5" font-weight="bold" text-anchor="middle" fill="#000" >Donor</text>
<text transform="translate(15.30,462.00) rotate(-90)" font-size="10" font-weight="bold" text-anchor="middle" fill="#000">Flow Cytometry Features</text>
<rect x="21.0" y="393.9" width="20.200000000000003" height="67.60000000000002" fill="#3b36fd"/>
<rect x="41.2" y="393.90" width="26.599999999999994" height="22.83" fill="#fff0d0"/>
<text x="54.50" y="408.77" font-size="10" text-anchor="middle" fill="#111" >1</text>
<rect x="41.2" y="416.43" width="26.599999999999994" height="22.83" fill="#ffe299"/>
<text x="54.50" y="431.30" font-size="10" text-anchor="middle" fill="#111" >2</text>
<rect x="41.2" y="438.97" width="26.599999999999994" height="22.83" fill="#ffd466"/>
<text x="54.50" y="453.83" font-size="10" text-anchor="middle" fill="#111" >3</text>
<text transform="translate(34.70,427.70) rotate(-90)" font-size="10" font-weight="bold" text-anchor="middle" fill="#fff">Breez</text>
<rect x="21.0" y="463.6" width="20.200000000000003" height="66.89999999999998" fill="#ff5d5f"/>
<rect x="41.2" y="463.60" width="26.599999999999994" height="22.60" fill="#fff0d0"/>
<text x="54.50" y="478.35" font-size="10" text-anchor="middle" fill="#111" >1</text>
<rect x="41.2" y="485.90" width="26.599999999999994" height="22.60" fill="#ffe299"/>
<text x="54.50" y="500.65" font-size="10" text-anchor="middle" fill="#111" >2</text>
<rect x="41.2" y="508.20" width="26.599999999999994" height="22.60" fill="#ffd466"/>
<text x="54.50" y="522.95" font-size="10" text-anchor="middle" fill="#111" >3</text>
<text transform="translate(34.70,497.05) rotate(-90)" font-size="10" font-weight="bold" text-anchor="middle" fill="#fff">GRex</text>
<rect x="72.10" y="394.40" width="9.29" height="7.89" fill="#f1b6da"/>
<rect x="80.99" y="394.40" width="9.29" height="7.89" fill="#eef6e4"/>
<rect x="89.88" y="394.40" width="9.29" height="7.89" fill="#8e0152"/>
<rect x="98.78" y="394.40" width="9.29" height="7.89" fill="#aa0e68"/>
<rect x="107.67" y="394.40" width="9.29" height="7.89" fill="#d24996"/>
<rect x="116.56" y="394.40" width="9.29" height="7.89" fill="#eef6e4"/>
<rect x="125.45" y="394.40" width="9.29" height="7.89" fill="#de77ae"/>
<rect x="134.35" y="394.40" width="9.29" height="7.89" fill="#e6f5d0"/>
<rect x="143.24" y="394.40" width="9.29" height="7.89" fill="#cfebab"/>
<rect x="152.13" y="394.40" width="9.29" height="7.89" fill="#cfebab"/>
<rect x="161.02" y="394.40" width="9.29" height="7.89" fill="#66a731"/>
<rect x="169.92" y="394.40" width="9.29" height="7.89" fill="#e6f5d0"/>
<rect x="178.81" y="394.40" width="9.29" height="7.89" fill="#eef6e4"/>
<rect x="72.10" y="401.89" width="9.29" height="7.89" fill="#f1b6da"/>
<rect x="80.99" y="401.89" width="9.29" height="7.89" fill="#e6f5d0"/>
<rect x="89.88" y="401.89" width="9.29" height="7.89" fill="#de77ae"/>
<rect x="98.78" y="401.89" width="9.29" height="7.89" fill="#aa0e68"/>
<rect x="107.67" y="401.89" width="9.29" height="7.89" fill="#8e0152"/>
<rect x="116.56" y="401.89" width="9.29" height="7.89" fill="#eef6e4"/>
<rect x="125.45" y="401.89" width="9.29" height="7.89" fill="#7fbc41"/>
<rect x="134.35" y="401.89" width="9.29" height="7.89" fill="#eef6e4"/>
<rect x="143.24" y="401.89" width="9.29" height="7.89" fill="#eef6e4"/>
<rect x="152.13" y="401.89" width="9.29" height="7.89" fill="#cfebab"/>
<rect x="161.02" y="401.89" width="9.29" height="7.89" fill="#4d9221"/>
<rect x="169.92" y="401.89" width="9.29" height="7.89" fill="#eef6e4"/>
<rect x="178.81" y="401.89" width="9.29" height="7.89" fill="#f7f7f7"/>
<rect x="72.10" y="409.38" width="9.29" height="7.89" fill="#8e0152"/>
<rect x="80.99" y="409.38" width="9.29" height="7.89" fill="#f1b6da"/>
<rect x="89.88" y="409.38" width="9.29" height="7.89" fill="#f7cbe4"/>
<rect x="98.78" y="409.38" width="9.29" height="7.89" fill="#aa0e68"/>
<rect x="107.67" y="409.38" width="9.29" height="7.89" fill="#c51b7d"/>
<rect x="116.56" y="409.38" width="9.29" height="7.89" fill="#eef6e4"/>
<rect x="125.45" y="409.38" width="9.29" height="7.89" fill="#eef6e4"/>
<rect x="134.35" y="409.38" width="9.29" height="7.89" fill="#eef6e4"/>
<rect x="143.24" y="409.38" width="9.29" height="7.89" fill="#b8e186"/>
<rect x="152.13" y="409.38" width="9.29" height="7.89" fill="#4d9221"/>
<rect x="161.02" y="409.38" width="9.29" height="7.89" fill="#66a731"/>
<rect x="169.92" y="409.38" width="9.29" height="7.89" fill="#e6f5d0"/>
<rect x="178.81" y="409.38" width="9.29" height="7.89" fill="#eef6e4"/>
<rect x="72.10" y="416.87" width="9.29" height="7.89" fill="#c51b7d"/>
<rect x="80.99" y="416.87" width="9.29" height="7.89" fill="#d24996"/>
<rect x="89.88" y="416.87" width="9.29" height="7.89" fill="#f1b6da"/>
<rect x="98.78" y="416.87" width="9.29" height="7.89" fill="#7fbc41"/>
<rect x="107.67" y="416.87" width="9.29" height="7.89" fill="#276419"/>
<rect x="116.56" y="416.87" width="9.29" height="7.89" fill="#276419"/>
<rect x="125.45" y="416.87" width="9.29" height="7.89" fill="#66a731"/>
<rect x="134.35" y="416.87" width="9.29" height="7.89" fill="#f7f7f7"/>
<rect x="143.24" y="416.87" width="9.29" height="7.89" fill="#f7f7f7"/>
<rect x="152.13" y="416.87" width="9.29" height="7.89" fill="#b8e186"/>
<rect x="161.02" y="416.87" width="9.29" height="7.89" fill="#8e0152"/>
<rect x="169.92" y="416.87" width="9.29" height="7.89" fill="#8e0152"/>
<rect x="178.81" y="416.87" width="9.29" height="7.89" fill="#8e0152"/>
<rect x="72.10" y="424.36" width="9.29" height="7.89" fill="#fde0ef"/>
<rect x="80.99" y="424.36" width="9.29" height="7.89" fill="#faecf3"/>
<rect x="89.88" y="424.36" width="9.29" height="7.89" fill="#fde0ef"/>
<rect x="98.78" y="424.36" width="9.29" height="7.89" fill="#66a731"/>
<rect x="107.67" y="424.36" width="9.29" height="7.89" fill="#66a731"/>
<rect x="116.56" y="424.36" width="9.29" height="7.89" fill="#3a7b1d"/>
<rect x="125.45" y="424.36" width="9.29" height="7.89" fill="#3a7b1d"/>
<rect x="134.35" y="424.36" width="9.29" height="7.89" fill="#f7f7f7"/>
<rect x="143.24" y="424.36" width="9.29" height="7.89" fill="#f7f7f7"/>
<rect x="152.13" y="424.36" width="9.29" height="7.89" fill="#b8e186"/>
<rect x="161.02" y="424.36" width="9.29" height="7.89" fill="#de77ae"/>
<rect x="169.92" y="424.36" width="9.29" height="7.89" fill="#c51b7d"/>
<rect x="178.81" y="424.36" width="9.29" height="7.89" fill="#c51b7d"/>
<rect x="72.10" y="431.84" width="9.29" height="7.89" fill="#f1b6da"/>
<rect x="80.99" y="431.84" width="9.29" height="7.89" fill="#faecf3"/>
<rect x="89.88" y="431.84" width="9.29" height="7.89" fill="#faecf3"/>
<rect x="98.78" y="431.84" width="9.29" height="7.89" fill="#e6f5d0"/>
<rect x="107.67" y="431.84" width="9.29" height="7.89" fill="#7fbc41"/>
<rect x="116.56" y="431.84" width="9.29" height="7.89" fill="#3a7b1d"/>
<rect x="125.45" y="431.84" width="9.29" height="7.89" fill="#7fbc41"/>
<rect x="134.35" y="431.84" width="9.29" height="7.89" fill="#eef6e4"/>
<rect x="143.24" y="431.84" width="9.29" height="7.89" fill="#b8e186"/>
<rect x="152.13" y="431.84" width="9.29" height="7.89" fill="#cfebab"/>
<rect x="161.02" y="431.84" width="9.29" height="7.89" fill="#f7cbe4"/>
<rect x="169.92" y="431.84" width="9.29" height="7.89" fill="#d24996"/>
<rect x="178.81" y="431.84" width="9.29" height="7.89" fill="#c51b7d"/>
<rect x="72.10" y="439.33" width="9.29" height="7.89" fill="#c51b7d"/>
<rect x="80.99" y="439.33" width="9.29" height="7.89" fill="#276419"/>
<rect x="89.88" y="439.33" width="9.29" height="7.89" fill="#b8e186"/>
<rect x="98.78" y="439.33" width="9.29" height="7.89" fill="#c51b7d"/>
<rect x="107.67" y="439.33" width="9.29" height="7.89" fill="#f7cbe4"/>
<rect x="116.56" y="439.33" width="9.29" height="7.89" fill="#cfebab"/>
<rect x="125.45" y="439.33" width="9.29" height="7.89" fill="#8e0152"/>
<rect x="134.35" y="439.33" width="9.29" height="7.89" fill="#3a7b1d"/>
<rect x="143.24" y="439.33" width="9.29" height="7.89" fill="#276419"/>
<rect x="152.13" y="439.33" width="9.29" height="7.89" fill="#276419"/>
<rect x="161.02" y="439.33" width="9.29" height="7.89" fill="#e6f5d0"/>
<rect x="169.92" y="439.33" width="9.29" height="7.89" fill="#fde0ef"/>
<rect x="178.81" y="439.33" width="9.29" height="7.89" fill="#fde0ef"/>
<rect x="72.10" y="446.82" width="9.29" height="7.89" fill="#8e0152"/>
<rect x="80.99" y="446.82" width="9.29" height="7.89" fill="#7fbc41"/>
<rect x="89.88" y="446.82" width="9.29" height="7.89" fill="#eef6e4"/>
<rect x="98.78" y="446.82" width="9.29" height="7.89" fill="#8e0152"/>
<rect x="107.67" y="446.82" width="9.29" height="7.89" fill="#f7cbe4"/>
<rect x="116.56" y="446.82" width="9.29" height="7.89" fill="#cfebab"/>
<rect x="125.45" y="446.82" width="9.29" height="7.89" fill="#b8e186"/>
<rect x="134.35" y="446.82" width="9.29" height="7.89" fill="#276419"/>
<rect x="143.24" y="446.82" width="9.29" height="7.89" fill="#3a7b1d"/>
<rect x="152.13" y="446.82" width="9.29" height="7.89" fill="#7fbc41"/>
<rect x="161.02" y="446.82" width="9.29" height="7.89" fill="#e6f5d0"/>
<rect x="169.92" y="446.82" width="9.29" height="7.89" fill="#fde0ef"/>
<rect x="178.81" y="446.82" width="9.29" height="7.89" fill="#f7cbe4"/>
<rect x="72.10" y="454.31" width="9.29" height="7.89" fill="#d24996"/>
<rect x="80.99" y="454.31" width="9.29" height="7.89" fill="#7fbc41"/>
<rect x="89.88" y="454.31" width="9.29" height="7.89" fill="#eef6e4"/>
<rect x="98.78" y="454.31" width="9.29" height="7.89" fill="#8e0152"/>
<rect x="107.67" y="454.31" width="9.29" height="7.89" fill="#f1b6da"/>
<rect x="116.56" y="454.31" width="9.29" height="7.89" fill="#9cce64"/>
<rect x="125.45" y="454.31" width="9.29" height="7.89" fill="#de77ae"/>
<rect x="134.35" y="454.31" width="9.29" height="7.89" fill="#3a7b1d"/>
<rect x="143.24" y="454.31" width="9.29" height="7.89" fill="#4d9221"/>
<rect x="152.13" y="454.31" width="9.29" height="7.89" fill="#cfebab"/>
<rect x="161.02" y="454.31" width="9.29" height="7.89" fill="#cfebab"/>
<rect x="169.92" y="454.31" width="9.29" height="7.89" fill="#fde0ef"/>
<rect x="178.81" y="454.31" width="9.29" height="7.89" fill="#f7cbe4"/>
<rect x="72.10" y="463.90" width="9.29" height="7.86" fill="#4d9221"/>
<rect x="80.99" y="463.90" width="9.29" height="7.86" fill="#8e0152"/>
<rect x="89.88" y="463.90" width="9.29" height="7.86" fill="#f7cbe4"/>
<rect x="98.78" y="463.90" width="9.29" height="7.86" fill="#fde0ef"/>
<rect x="107.67" y="463.90" width="9.29" height="7.86" fill="#de77ae"/>
<rect x="116.56" y="463.90" width="9.29" height="7.86" fill="#e896c4"/>
<rect x="125.45" y="463.90" width="9.29" height="7.86" fill="#fde0ef"/>
<rect x="134.35" y="463.90" width="9.29" height="7.86" fill="#de77ae"/>
<rect x="143.24" y="463.90" width="9.29" height="7.86" fill="#c51b7d"/>
<rect x="152.13" y="463.90" width="9.29" height="7.86" fill="#de77ae"/>
<rect x="161.02" y="463.90" width="9.29" height="7.86" fill="#276419"/>
<rect x="169.92" y="463.90" width="9.29" height="7.86" fill="#66a731"/>
<rect x="178.81" y="463.90" width="9.29" height="7.86" fill="#66a731"/>
<rect x="72.10" y="471.36" width="9.29" height="7.86" fill="#4d9221"/>
<rect x="80.99" y="471.36" width="9.29" height="7.86" fill="#de77ae"/>
<rect x="89.88" y="471.36" width="9.29" height="7.86" fill="#f7cbe4"/>
<rect x="98.78" y="471.36" width="9.29" height="7.86" fill="#f7cbe4"/>
<rect x="107.67" y="471.36" width="9.29" height="7.86" fill="#f1b6da"/>
<rect x="116.56" y="471.36" width="9.29" height="7.86" fill="#8e0152"/>
<rect x="125.45" y="471.36" width="9.29" height="7.86" fill="#f7cbe4"/>
<rect x="134.35" y="471.36" width="9.29" height="7.86" fill="#de77ae"/>
<rect x="143.24" y="471.36" width="9.29" height="7.86" fill="#d24996"/>
<rect x="152.13" y="471.36" width="9.29" height="7.86" fill="#f7cbe4"/>
<rect x="161.02" y="471.36" width="9.29" height="7.86" fill="#276419"/>
<rect x="169.92" y="471.36" width="9.29" height="7.86" fill="#276419"/>
<rect x="178.81" y="471.36" width="9.29" height="7.86" fill="#276419"/>
<rect x="72.10" y="478.81" width="9.29" height="7.86" fill="#4d9221"/>
<rect x="80.99" y="478.81" width="9.29" height="7.86" fill="#f7cbe4"/>
<rect x="89.88" y="478.81" width="9.29" height="7.86" fill="#f1b6da"/>
<rect x="98.78" y="478.81" width="9.29" height="7.86" fill="#e896c4"/>
<rect x="107.67" y="478.81" width="9.29" height="7.86" fill="#d24996"/>
<rect x="116.56" y="478.81" width="9.29" height="7.86" fill="#8e0152"/>
<rect x="125.45" y="478.81" width="9.29" height="7.86" fill="#d24996"/>
<rect x="134.35" y="478.81" width="9.29" height="7.86" fill="#f1b6da"/>
<rect x="143.24" y="478.81" width="9.29" height="7.86" fill="#f1b6da"/>
<rect x="152.13" y="478.81" width="9.29" height="7.86" fill="#d24996"/>
<rect x="161.02" y="478.81" width="9.29" height="7.86" fill="#276419"/>
<rect x="169.92" y="478.81" width="9.29" height="7.86" fill="#276419"/>
<rect x="178.81" y="478.81" width="9.29" height="7.86" fill="#276419"/>
<rect x="72.10" y="486.27" width="9.29" height="7.86" fill="#7fbc41"/>
<rect x="80.99" y="486.27" width="9.29" height="7.86" fill="#eef6e4"/>
<rect x="89.88" y="486.27" width="9.29" height="7.86" fill="#7fbc41"/>
<rect x="98.78" y="486.27" width="9.29" height="7.86" fill="#66a731"/>
<rect x="107.67" y="486.27" width="9.29" height="7.86" fill="#9cce64"/>
<rect x="116.56" y="486.27" width="9.29" height="7.86" fill="#3a7b1d"/>
<rect x="125.45" y="486.27" width="9.29" height="7.86" fill="#276419"/>
<rect x="134.35" y="486.27" width="9.29" height="7.86" fill="#8e0152"/>
<rect x="143.24" y="486.27" width="9.29" height="7.86" fill="#e896c4"/>
<rect x="152.13" y="486.27" width="9.29" height="7.86" fill="#8e0152"/>
<rect x="161.02" y="486.27" width="9.29" height="7.86" fill="#fde0ef"/>
<rect x="169.92" y="486.27" width="9.29" height="7.86" fill="#c51b7d"/>
<rect x="178.81" y="486.27" width="9.29" height="7.86" fill="#aa0e68"/>
<rect x="72.10" y="493.72" width="9.29" height="7.86" fill="#3a7b1d"/>
<rect x="80.99" y="493.72" width="9.29" height="7.86" fill="#3a7b1d"/>
<rect x="89.88" y="493.72" width="9.29" height="7.86" fill="#276419"/>
<rect x="98.78" y="493.72" width="9.29" height="7.86" fill="#7fbc41"/>
<rect x="107.67" y="493.72" width="9.29" height="7.86" fill="#eef6e4"/>
<rect x="116.56" y="493.72" width="9.29" height="7.86" fill="#4d9221"/>
<rect x="125.45" y="493.72" width="9.29" height="7.86" fill="#cfebab"/>
<rect x="134.35" y="493.72" width="9.29" height="7.86" fill="#aa0e68"/>
<rect x="143.24" y="493.72" width="9.29" height="7.86" fill="#e896c4"/>
<rect x="152.13" y="493.72" width="9.29" height="7.86" fill="#d24996"/>
<rect x="161.02" y="493.72" width="9.29" height="7.86" fill="#eef6e4"/>
<rect x="169.92" y="493.72" width="9.29" height="7.86" fill="#e896c4"/>
<rect x="178.81" y="493.72" width="9.29" height="7.86" fill="#de77ae"/>
<rect x="72.10" y="501.18" width="9.29" height="7.86" fill="#276419"/>
<rect x="80.99" y="501.18" width="9.29" height="7.86" fill="#7fbc41"/>
<rect x="89.88" y="501.18" width="9.29" height="7.86" fill="#276419"/>
<rect x="98.78" y="501.18" width="9.29" height="7.86" fill="#276419"/>
<rect x="107.67" y="501.18" width="9.29" height="7.86" fill="#e6f5d0"/>
<rect x="116.56" y="501.18" width="9.29" height="7.86" fill="#4d9221"/>
<rect x="125.45" y="501.18" width="9.29" height="7.86" fill="#eef6e4"/>
<rect x="134.35" y="501.18" width="9.29" height="7.86" fill="#8e0152"/>
<rect x="143.24" y="501.18" width="9.29" height="7.86" fill="#8e0152"/>
<rect x="152.13" y="501.18" width="9.29" height="7.86" fill="#d24996"/>
<rect x="161.02" y="501.18" width="9.29" height="7.86" fill="#de77ae"/>
<rect x="169.92" y="501.18" width="9.29" height="7.86" fill="#de77ae"/>
<rect x="178.81" y="501.18" width="9.29" height="7.86" fill="#d24996"/>
<rect x="72.10" y="508.63" width="9.29" height="7.86" fill="#66a731"/>
<rect x="80.99" y="508.63" width="9.29" height="7.86" fill="#66a731"/>
<rect x="89.88" y="508.63" width="9.29" height="7.86" fill="#eef6e4"/>
<rect x="98.78" y="508.63" width="9.29" height="7.86" fill="#e896c4"/>
<rect x="107.67" y="508.63" width="9.29" height="7.86" fill="#f7f7f7"/>
<rect x="116.56" y="508.63" width="9.29" height="7.86" fill="#f7cbe4"/>
<rect x="125.45" y="508.63" width="9.29" height="7.86" fill="#eef6e4"/>
<rect x="134.35" y="508.63" width="9.29" height="7.86" fill="#e896c4"/>
<rect x="143.24" y="508.63" width="9.29" height="7.86" fill="#e6f5d0"/>
<rect x="152.13" y="508.63" width="9.29" height="7.86" fill="#f7cbe4"/>
<rect x="161.02" y="508.63" width="9.29" height="7.86" fill="#7fbc41"/>
<rect x="169.92" y="508.63" width="9.29" height="7.86" fill="#7fbc41"/>
<rect x="178.81" y="508.63" width="9.29" height="7.86" fill="#b8e186"/>
<rect x="72.10" y="516.09" width="9.29" height="7.86" fill="#66a731"/>
<rect x="80.99" y="516.09" width="9.29" height="7.86" fill="#66a731"/>
<rect x="89.88" y="516.09" width="9.29" height="7.86" fill="#e6f5d0"/>
<rect x="98.78" y="516.09" width="9.29" height="7.86" fill="#e896c4"/>
<rect x="107.67" y="516.09" width="9.29" height="7.86" fill="#faecf3"/>
<rect x="116.56" y="516.09" width="9.29" height="7.86" fill="#eef6e4"/>
<rect x="125.45" y="516.09" width="9.29" height="7.86" fill="#eef6e4"/>
<rect x="134.35" y="516.09" width="9.29" height="7.86" fill="#e896c4"/>
<rect x="143.24" y="516.09" width="9.29" height="7.86" fill="#cfebab"/>
<rect x="152.13" y="516.09" width="9.29" height="7.86" fill="#f7cbe4"/>
<rect x="161.02" y="516.09" width="9.29" height="7.86" fill="#7fbc41"/>
<rect x="169.92" y="516.09" width="9.29" height="7.86" fill="#e6f5d0"/>
<rect x="178.81" y="516.09" width="9.29" height="7.86" fill="#eef6e4"/>
<rect x="72.10" y="523.54" width="9.29" height="7.86" fill="#66a731"/>
<rect x="80.99" y="523.54" width="9.29" height="7.86" fill="#276419"/>
<rect x="89.88" y="523.54" width="9.29" height="7.86" fill="#b8e186"/>
<rect x="98.78" y="523.54" width="9.29" height="7.86" fill="#de77ae"/>
<rect x="107.67" y="523.54" width="9.29" height="7.86" fill="#fde0ef"/>
<rect x="116.56" y="523.54" width="9.29" height="7.86" fill="#eef6e4"/>
<rect x="125.45" y="523.54" width="9.29" height="7.86" fill="#faecf3"/>
<rect x="134.35" y="523.54" width="9.29" height="7.86" fill="#e896c4"/>
<rect x="143.24" y="523.54" width="9.29" height="7.86" fill="#cfebab"/>
<rect x="152.13" y="523.54" width="9.29" height="7.86" fill="#f7cbe4"/>
<rect x="161.02" y="523.54" width="9.29" height="7.86" fill="#7fbc41"/>
<rect x="169.92" y="523.54" width="9.29" height="7.86" fill="#eef6e4"/>
<rect x="178.81" y="523.54" width="9.29" height="7.86" fill="#eef6e4"/>
<text transform="translate(79.05,391.20) rotate(-90)" font-size="7" text-anchor="start" fill="#222">CD127+</text>
<text transform="translate(87.94,391.20) rotate(-90)" font-size="7" text-anchor="start" fill="#222">LAG3+</text>
<text transform="translate(96.83,391.20) rotate(-90)" font-size="7" text-anchor="start" fill="#222">TIM3+</text>
<text transform="translate(105.72,391.20) rotate(-90)" font-size="7" text-anchor="start" fill="#222">Central Mem</text>
<text transform="translate(114.62,391.20) rotate(-90)" font-size="7" text-anchor="start" fill="#222">Effector Mem</text>
<text transform="translate(123.51,391.20) rotate(-90)" font-size="7" text-anchor="start" fill="#222">CD8+</text>
<text transform="translate(132.40,391.20) rotate(-90)" font-size="7" text-anchor="start" fill="#222">CAR T %</text>
<text transform="translate(141.29,391.20) rotate(-90)" font-size="7" text-anchor="start" fill="#222">CD57+</text>
<text transform="translate(150.18,391.20) rotate(-90)" font-size="7" text-anchor="start" fill="#222">TEMRA</text>
<text transform="translate(159.08,391.20) rotate(-90)" font-size="7" text-anchor="start" fill="#222">PD1+</text>
<text transform="translate(167.97,391.20) rotate(-90)" font-size="7" text-anchor="start" fill="#222">Naive</text>
<text transform="translate(176.86,391.20) rotate(-90)" font-size="7" text-anchor="start" fill="#222">CD4+</text>
<text transform="translate(185.75,391.20) rotate(-90)" font-size="7" text-anchor="start" fill="#222">CD4:CD8 Ratio</text>
<path d="M76.55 392.6v1.2 M76.55 531.4v1.2 M85.44 392.6v1.2 M85.44 531.4v1.2 M94.33 392.6v1.2 M94.33 531.4v1.2 M103.22 392.6v1.2 M103.22 531.4v1.2 M112.12 392.6v1.2 M112.12 531.4v1.2 M121.01 392.6v1.2 M121.01 531.4v1.2 M129.90 392.6v1.2 M129.90 531.4v1.2 M138.79 392.6v1.2 M138.79 531.4v1.2 M147.68 392.6v1.2 M147.68 531.4v1.2 M156.58 392.6v1.2 M156.58 531.4v1.2 M165.47 392.6v1.2 M165.47 531.4v1.2 M174.36 392.6v1.2 M174.36 531.4v1.2 M183.25 392.6v1.2 M183.25 531.4v1.2 M69.6 398.14h1.4 M69.6 467.63h1.4 M69.6 405.63h1.4 M69.6 475.08h1.4 M69.6 413.12h1.4 M69.6 482.54h1.4 M69.6 420.61h1.4 M69.6 489.99h1.4 M69.6 428.10h1.4 M69.6 497.45h1.4 M69.6 435.59h1.4 M69.6 504.91h1.4 M69.6 443.08h1.4 M69.6 512.36h1.4 M69.6 450.57h1.4 M69.6 519.82h1.4 M69.6 458.06h1.4 M69.6 527.27h1.4" stroke="#555" stroke-width="0.7"/>
<path d="M75.35 534.90 L77.75 534.90 M75.95 533.86 L77.15 535.94 M77.15 533.86 L75.95 535.94" stroke="#333" stroke-width="0.8"/>
<path d="M75.35 537.90 L77.75 537.90 M75.95 536.86 L77.15 538.94 M77.15 536.86 L75.95 538.94" stroke="#333" stroke-width="0.8"/>
<path d="M102.02 534.90 L104.42 534.90 M102.62 533.86 L103.82 535.94 M103.82 533.86 L102.62 535.94" stroke="#333" stroke-width="0.8"/>
<path d="M137.59 534.90 L139.99 534.90 M138.19 533.86 L139.39 535.94 M139.39 533.86 L138.19 535.94" stroke="#333" stroke-width="0.8"/>
<path d="M146.48 534.90 L148.88 534.90 M147.08 533.86 L148.28 535.94 M148.28 533.86 L147.08 535.94" stroke="#333" stroke-width="0.8"/>
<path d="M155.38 534.90 L157.78 534.90 M155.98 533.86 L157.18 535.94 M157.18 533.86 L155.98 535.94" stroke="#333" stroke-width="0.8"/>
<path d="M155.38 537.90 L157.78 537.90 M155.98 536.86 L157.18 538.94 M157.18 536.86 L155.98 538.94" stroke="#333" stroke-width="0.8"/>
<path d="M164.27 534.90 L166.67 534.90 M164.87 533.86 L166.07 535.94 M166.07 533.86 L164.87 535.94" stroke="#333" stroke-width="0.8"/>
<defs><linearGradient id="cb472" x1="0" y1="0" x2="0" y2="1"><stop offset="0.00" stop-color="#276419"/><stop offset="0.10" stop-color="#4d9221"/><stop offset="0.20" stop-color="#7fbc41"/><stop offset="0.30" stop-color="#b8e186"/><stop offset="0.40" stop-color="#e6f5d0"/><stop offset="0.50" stop-color="#f7f7f7"/><stop offset="0.60" stop-color="#fde0ef"/><stop offset="0.70" stop-color="#f1b6da"/><stop offset="0.80" stop-color="#de77ae"/><stop offset="0.90" stop-color="#c51b7d"/><stop offset="1.00" stop-color="#8e0152"/></linearGradient></defs>
<rect x="193.9" y="472.7" width="7.1" height="49.69999999999999" fill="url(#cb472)"/>
<text x="193.10" y="471.40" font-size="7" text-anchor="start" fill="#222" >1.0</text>
<text x="193.10" y="529.50" font-size="7" text-anchor="start" fill="#222" >0.0</text>
<text x="207.00" y="346.60" font-size="9.5" text-anchor="start" fill="#000">(d)</text>
<text x="338.90" y="356.20" font-size="10.0" font-weight="bold" text-anchor="middle" fill="#000">Significance vs Fold Change</text>
<circle cx="249.8" cy="364.3" r="2.6" fill="#f7a11a" stroke="#6b4a10" stroke-width="0.6"/>
<text x="255.90" y="366.90" font-size="7.0" text-anchor="start" fill="#111">CTM (21/88)</text>
<circle cx="312.4" cy="364.3" r="2.6" fill="#33c133" stroke="#1d5a1d" stroke-width="0.6"/>
<text x="320.10" y="366.90" font-size="7.0" text-anchor="start" fill="#111">Flow (34/152)</text>
<circle cx="372.8" cy="364.3" r="1.6" fill="#c8c8c8"/>
<text x="378.10" y="366.90" font-size="7.0" text-anchor="start" fill="#111">Not Significant</text>
<rect x="246.1" y="371.2" width="178.0" height="1.8" fill="#b8b8b8"/>
<rect x="246.1" y="371.6" width="1.1" height="142.3" fill="#6e6e6e"/>
<rect x="246.1" y="512.7" width="178.0" height="1.2" fill="#6e6e6e"/>
<rect x="423.05" y="371.6" width="1.1" height="142.3" fill="#6e6e6e"/>
<text x="242.30" y="509.70" font-size="7.4" text-anchor="end" fill="#222">0.0</text>
<text x="242.30" y="492.25" font-size="7.4" text-anchor="end" fill="#222">0.5</text>
<text x="242.30" y="474.80" font-size="7.4" text-anchor="end" fill="#222">1.0</text>
<text x="242.30" y="457.35" font-size="7.4" text-anchor="end" fill="#222">1.5</text>
<text x="242.30" y="439.90" font-size="7.4" text-anchor="end" fill="#222">2.0</text>
<text x="242.30" y="422.45" font-size="7.4" text-anchor="end" fill="#222">2.5</text>
<text x="242.30" y="405.00" font-size="7.4" text-anchor="end" fill="#222">3.0</text>
<text x="242.30" y="387.55" font-size="7.4" text-anchor="end" fill="#222">3.5</text>
<text transform="translate(272.60,516.60) rotate(-90)" font-size="7.5" text-anchor="end" fill="#222">-4.0</text>
<text transform="translate(299.60,516.60) rotate(-90)" font-size="7.5" text-anchor="end" fill="#222">-2.0</text>
<text transform="translate(315.40,516.60) rotate(-90)" font-size="7.5" text-anchor="end" fill="#222">-1.0</text>
<text transform="translate(324.10,516.60) rotate(-90)" font-size="7.5" text-anchor="end" fill="#222">-0.5</text>
<text transform="translate(337.00,516.60) rotate(-90)" font-size="7.5" text-anchor="end" fill="#222">0</text>
<text transform="translate(350.80,516.60) rotate(-90)" font-size="7.5" text-anchor="end" fill="#222">0.5</text>
<text transform="translate(361.00,516.60) rotate(-90)" font-size="7.5" text-anchor="end" fill="#222">1.0</text>
<text transform="translate(376.80,516.60) rotate(-90)" font-size="7.5" text-anchor="end" fill="#222">2.0</text>
<text transform="translate(402.70,516.60) rotate(-90)" font-size="7.5" text-anchor="end" fill="#222">4.0</text>
<path d="M244.3 507.10 H247.0 M244.3 489.65 H247.0 M244.3 472.20 H247.0 M244.3 454.75 H247.0 M244.3 437.30 H247.0 M244.3 419.85 H247.0 M244.3 402.40 H247.0 M244.3 384.95 H247.0 M270.00 513.2 V514.8000000000001 M297.00 513.2 V514.8000000000001 M312.80 513.2 V514.8000000000001 M321.50 513.2 V514.8000000000001 M334.40 513.2 V514.8000000000001 M348.20 513.2 V514.8000000000001 M358.40 513.2 V514.8000000000001 M374.20 513.2 V514.8000000000001 M400.10 513.2 V514.8000000000001" stroke="#7a7a7a" stroke-width="0.8"/>
<path d="M247.0 461.4 H423.5 M329.4 372.3 V513.2 M340.6 372.3 V513.2" stroke="#666" stroke-width="0.8" stroke-dasharray="0.9 1.7"/>
<text x="334.90" y="541.80" font-size="10" text-anchor="middle" fill="#111">Fold change, Breez vs GRex</text>
<text transform="translate(222.8,442.8) rotate(-90)" font-size="10" text-anchor="middle" fill="#111">-log<tspan font-size="6.5" dy="2">10</tspan><tspan dy="-2">(p value)</tspan></text>
<circle cx="298.7" cy="471.7" r="1.75" fill="#9a9a9a" fill-opacity="0.5" stroke="#707070" stroke-opacity="0.55" stroke-width="0.45"/><circle cx="292.4" cy="502" r="1.75" fill="#9a9a9a" fill-opacity="0.5" stroke="#707070" stroke-opacity="0.55" stroke-width="0.45"/><circle cx="315.8" cy="493.3" r="1.75" fill="#9a9a9a" fill-opacity="0.5" stroke="#707070" stroke-opacity="0.55" stroke-width="0.45"/><circle cx="312.8" cy="483.8" r="1.75" fill="#9a9a9a" fill-opacity="0.5" stroke="#707070" stroke-opacity="0.55" stroke-width="0.45"/><circle cx="313.9" cy="485.3" r="1.75" fill="#9a9a9a" fill-opacity="0.5" stroke="#707070" stroke-opacity="0.55" stroke-width="0.45"/><circle cx="315" cy="475.8" r="1.75" fill="#9a9a9a" fill-opacity="0.5" stroke="#707070" stroke-opacity="0.55" stroke-width="0.45"/><circle cx="318.2" cy="475.5" r="1.75" fill="#9a9a9a" fill-opacity="0.5" stroke="#707070" stroke-opacity="0.55" stroke-width="0.45"/><circle cx="319.1" cy="481.6" r="1.75" fill="#9a9a9a" fill-opacity="0.5" stroke="#707070" stroke-opacity="0.55" stroke-width="0.45"/><circle cx="318.7" cy="487.4" r="1.75" fill="#9a9a9a" fill-opacity="0.5" stroke="#707070" stroke-opacity="0.55" stroke-width="0.45"/><circle cx="320.9" cy="467" r="1.75" fill="#9a9a9a" fill-opacity="0.5" stroke="#707070" stroke-opacity="0.55" stroke-width="0.45"/><circle cx="318.7" cy="468.5" r="1.75" fill="#9a9a9a" fill-opacity="0.5" stroke="#707070" stroke-opacity="0.55" stroke-width="0.45"/><circle cx="322.3" cy="470.7" r="1.75" fill="#9a9a9a" fill-opacity="0.5" stroke="#707070" stroke-opacity="0.55" stroke-width="0.45"/><circle cx="325.3" cy="469.9" r="1.75" fill="#9a9a9a" fill-opacity="0.5" stroke="#707070" stroke-opacity="0.55" stroke-width="0.45"/><circle cx="326" cy="474.3" r="1.75" fill="#9a9a9a" fill-opacity="0.5" stroke="#707070" stroke-opacity="0.55" stroke-width="0.45"/><circle cx="327.4" cy="475" r="1.75" fill="#9a9a9a" fill-opacity="0.5" stroke="#707070" stroke-opacity="0.55" stroke-width="0.45"/><circle cx="323.8" cy="476.5" r="1.75" fill="#9a9a9a" fill-opacity="0.5" stroke="#707070" stroke-opacity="0.55" stroke-width="0.45"/><circle cx="324.5" cy="480.1" r="1.75" fill="#9a9a9a" fill-opacity="0.5" stroke="#707070" stroke-opacity="0.55" stroke-width="0.45"/><circle cx="328.2" cy="479.4" r="1.75" fill="#9a9a9a" fill-opacity="0.5" stroke="#707070" stroke-opacity="0.55" stroke-width="0.45"/><circle cx="330.4" cy="478" r="1.75" fill="#9a9a9a" fill-opacity="0.5" stroke="#707070" stroke-opacity="0.55" stroke-width="0.45"/><circle cx="331.8" cy="479.4" r="1.75" fill="#9a9a9a" fill-opacity="0.5" stroke="#707070" stroke-opacity="0.55" stroke-width="0.45"/><circle cx="332.6" cy="482.3" r="1.75" fill="#9a9a9a" fill-opacity="0.5" stroke="#707070" stroke-opacity="0.55" stroke-width="0.45"/><circle cx="326.7" cy="483.8" r="1.75" fill="#9a9a9a" fill-opacity="0.5" stroke="#707070" stroke-opacity="0.55" stroke-width="0.45"/><circle cx="326.7" cy="486.7" r="1.75" fill="#9a9a9a" fill-opacity="0.5" stroke="#707070" stroke-opacity="0.55" stroke-width="0.45"/><circle cx="329.6" cy="485.3" r="1.75" fill="#9a9a9a" fill-opacity="0.5" stroke="#707070" stroke-opacity="0.55" stroke-width="0.45"/><circle cx="334" cy="484.5" r="1.75" fill="#9a9a9a" fill-opacity="0.5" stroke="#707070" stroke-opacity="0.55" stroke-width="0.45"/><circle cx="336.2" cy="485.3" r="1.75" fill="#9a9a9a" fill-opacity="0.5" stroke="#707070" stroke-opacity="0.55" stroke-width="0.45"/><circle cx="330.4" cy="490.4" r="1.75" fill="#9a9a9a" fill-opacity="0.5" stroke="#707070" stroke-opacity="0.55" stroke-width="0.45"/><circle cx="333.3" cy="490.4" r="1.75" fill="#9a9a9a" fill-opacity="0.5" stroke="#707070" stroke-opacity="0.55" stroke-width="0.45"/><circle cx="329.6" cy="494" r="1.75" fill="#9a9a9a" fill-opacity="0.5" stroke="#707070" stroke-opacity="0.55" stroke-width="0.45"/><circle cx="331.8" cy="494.7" r="1.75" fill="#9a9a9a" fill-opacity="0.5" stroke="#707070" stroke-opacity="0.55" stroke-width="0.45"/><circle cx="327.4" cy="498.4" r="1.75" fill="#9a9a9a" fill-opacity="0.5" stroke="#707070" stroke-opacity="0.55" stroke-width="0.45"/><circle cx="332.6" cy="498.4" r="1.75" fill="#9a9a9a" fill-opacity="0.5" stroke="#707070" stroke-opacity="0.55" stroke-width="0.45"/><circle cx="334.7" cy="499.9" r="1.75" fill="#9a9a9a" fill-opacity="0.5" stroke="#707070" stroke-opacity="0.55" stroke-width="0.45"/><circle cx="336.2" cy="502.8" r="1.75" fill="#9a9a9a" fill-opacity="0.5" stroke="#707070" stroke-opacity="0.55" stroke-width="0.45"/><circle cx="335.5" cy="505.7" r="1.75" fill="#9a9a9a" fill-opacity="0.5" stroke="#707070" stroke-opacity="0.55" stroke-width="0.45"/><circle cx="337.7" cy="501.3" r="1.75" fill="#9a9a9a" fill-opacity="0.5" stroke="#707070" stroke-opacity="0.55" stroke-width="0.45"/><circle cx="339.9" cy="504.2" r="1.75" fill="#9a9a9a" fill-opacity="0.5" stroke="#707070" stroke-opacity="0.55" stroke-width="0.45"/><circle cx="341.3" cy="499.1" r="1.75" fill="#9a9a9a" fill-opacity="0.5" stroke="#707070" stroke-opacity="0.55" stroke-width="0.45"/><circle cx="344.2" cy="499.9" r="1.75" fill="#9a9a9a" fill-opacity="0.5" stroke="#707070" stroke-opacity="0.55" stroke-width="0.45"/><circle cx="345" cy="502.8" r="1.75" fill="#9a9a9a" fill-opacity="0.5" stroke="#707070" stroke-opacity="0.55" stroke-width="0.45"/><circle cx="343.5" cy="506.4" r="1.75" fill="#9a9a9a" fill-opacity="0.5" stroke="#707070" stroke-opacity="0.55" stroke-width="0.45"/><circle cx="347.2" cy="494.7" r="1.75" fill="#9a9a9a" fill-opacity="0.5" stroke="#707070" stroke-opacity="0.55" stroke-width="0.45"/><circle cx="348.6" cy="495.5" r="1.75" fill="#9a9a9a" fill-opacity="0.5" stroke="#707070" stroke-opacity="0.55" stroke-width="0.45"/><circle cx="350.1" cy="503.5" r="1.75" fill="#9a9a9a" fill-opacity="0.5" stroke="#707070" stroke-opacity="0.55" stroke-width="0.45"/><circle cx="353.7" cy="505" r="1.75" fill="#9a9a9a" fill-opacity="0.5" stroke="#707070" stroke-opacity="0.55" stroke-width="0.45"/><circle cx="356.6" cy="496.2" r="1.75" fill="#9a9a9a" fill-opacity="0.5" stroke="#707070" stroke-opacity="0.55" stroke-width="0.45"/><circle cx="356.6" cy="499.1" r="1.75" fill="#9a9a9a" fill-opacity="0.5" stroke="#707070" stroke-opacity="0.55" stroke-width="0.45"/><circle cx="360.3" cy="494" r="1.75" fill="#9a9a9a" fill-opacity="0.5" stroke="#707070" stroke-opacity="0.55" stroke-width="0.45"/><circle cx="363.2" cy="490.4" r="1.75" fill="#9a9a9a" fill-opacity="0.5" stroke="#707070" stroke-opacity="0.55" stroke-width="0.45"/><circle cx="358.1" cy="488.2" r="1.75" fill="#9a9a9a" fill-opacity="0.5" stroke="#707070" stroke-opacity="0.55" stroke-width="0.45"/><circle cx="351.5" cy="489.6" r="1.75" fill="#9a9a9a" fill-opacity="0.5" stroke="#707070" stroke-opacity="0.55" stroke-width="0.45"/><circle cx="342.8" cy="488.9" r="1.75" fill="#9a9a9a" fill-opacity="0.5" stroke="#707070" stroke-opacity="0.55" stroke-width="0.45"/><circle cx="343.5" cy="486" r="1.75" fill="#9a9a9a" fill-opacity="0.5" stroke="#707070" stroke-opacity="0.55" stroke-width="0.45"/><circle cx="345.7" cy="483.1" r="1.75" fill="#9a9a9a" fill-opacity="0.5" stroke="#707070" stroke-opacity="0.55" stroke-width="0.45"/><circle cx="342.8" cy="479.4" r="1.75" fill="#9a9a9a" fill-opacity="0.5" stroke="#707070" stroke-opacity="0.55" stroke-width="0.45"/><circle cx="341.3" cy="475" r="1.75" fill="#9a9a9a" fill-opacity="0.5" stroke="#707070" stroke-opacity="0.55" stroke-width="0.45"/><circle cx="343.1" cy="476.5" r="1.75" fill="#9a9a9a" fill-opacity="0.5" stroke="#707070" stroke-opacity="0.55" stroke-width="0.45"/><circle cx="341" cy="467.7" r="1.75" fill="#9a9a9a" fill-opacity="0.5" stroke="#707070" stroke-opacity="0.55" stroke-width="0.45"/><circle cx="344.2" cy="470.7" r="1.75" fill="#9a9a9a" fill-opacity="0.5" stroke="#707070" stroke-opacity="0.55" stroke-width="0.45"/><circle cx="347.9" cy="468.5" r="1.75" fill="#9a9a9a" fill-opacity="0.5" stroke="#707070" stroke-opacity="0.55" stroke-width="0.45"/><circle cx="351.2" cy="470.7" r="1.75" fill="#9a9a9a" fill-opacity="0.5" stroke="#707070" stroke-opacity="0.55" stroke-width="0.45"/><circle cx="349.3" cy="473.6" r="1.75" fill="#9a9a9a" fill-opacity="0.5" stroke="#707070" stroke-opacity="0.55" stroke-width="0.45"/><circle cx="353" cy="475.8" r="1.75" fill="#9a9a9a" fill-opacity="0.5" stroke="#707070" stroke-opacity="0.55" stroke-width="0.45"/><circle cx="356.6" cy="473.6" r="1.75" fill="#9a9a9a" fill-opacity="0.5" stroke="#707070" stroke-opacity="0.55" stroke-width="0.45"/><circle cx="350.8" cy="478.7" r="1.75" fill="#9a9a9a" fill-opacity="0.5" stroke="#707070" stroke-opacity="0.55" stroke-width="0.45"/><circle cx="353" cy="482.3" r="1.75" fill="#9a9a9a" fill-opacity="0.5" stroke="#707070" stroke-opacity="0.55" stroke-width="0.45"/><circle cx="366.4" cy="472.4" r="1.75" fill="#9a9a9a" fill-opacity="0.5" stroke="#707070" stroke-opacity="0.55" stroke-width="0.45"/><circle cx="379.3" cy="491.8" r="1.75" fill="#9a9a9a" fill-opacity="0.5" stroke="#707070" stroke-opacity="0.55" stroke-width="0.45"/><circle cx="333.3" cy="468.5" r="1.75" fill="#9a9a9a" fill-opacity="0.5" stroke="#707070" stroke-opacity="0.55" stroke-width="0.45"/><circle cx="332.6" cy="464.1" r="1.75" fill="#9a9a9a" fill-opacity="0.5" stroke="#707070" stroke-opacity="0.55" stroke-width="0.45"/><circle cx="331.1" cy="457.5" r="1.75" fill="#9a9a9a" fill-opacity="0.5" stroke="#707070" stroke-opacity="0.55" stroke-width="0.45"/><circle cx="331.8" cy="453.1" r="1.75" fill="#9a9a9a" fill-opacity="0.5" stroke="#707070" stroke-opacity="0.55" stroke-width="0.45"/><circle cx="331.8" cy="447.3" r="1.75" fill="#9a9a9a" fill-opacity="0.5" stroke="#707070" stroke-opacity="0.55" stroke-width="0.45"/><circle cx="332.6" cy="442.9" r="1.75" fill="#9a9a9a" fill-opacity="0.5" stroke="#707070" stroke-opacity="0.55" stroke-width="0.45"/><circle cx="334" cy="453.9" r="1.75" fill="#9a9a9a" fill-opacity="0.5" stroke="#707070" stroke-opacity="0.55" stroke-width="0.45"/><circle cx="381.2" cy="491.2" r="1.75" fill="#9a9a9a" fill-opacity="0.5" stroke="#707070" stroke-opacity="0.55" stroke-width="0.45"/><circle cx="390.3" cy="491.2" r="1.75" fill="#9a9a9a" fill-opacity="0.5" stroke="#707070" stroke-opacity="0.55" stroke-width="0.45"/><circle cx="247.6" cy="465.4" r="1.75" fill="#9a9a9a" fill-opacity="0.5" stroke="#707070" stroke-opacity="0.55" stroke-width="0.45"/><circle cx="321.5" cy="478.5" r="1.75" fill="#9a9a9a" fill-opacity="0.5" stroke="#707070" stroke-opacity="0.55" stroke-width="0.45"/><circle cx="325" cy="491" r="1.75" fill="#9a9a9a" fill-opacity="0.5" stroke="#707070" stroke-opacity="0.55" stroke-width="0.45"/><circle cx="328.5" cy="496" r="1.75" fill="#9a9a9a" fill-opacity="0.5" stroke="#707070" stroke-opacity="0.55" stroke-width="0.45"/><circle cx="330.5" cy="501" r="1.75" fill="#9a9a9a" fill-opacity="0.5" stroke="#707070" stroke-opacity="0.55" stroke-width="0.45"/><circle cx="333" cy="506" r="1.75" fill="#9a9a9a" fill-opacity="0.5" stroke="#707070" stroke-opacity="0.55" stroke-width="0.45"/><circle cx="338" cy="497" r="1.75" fill="#9a9a9a" fill-opacity="0.5" stroke="#707070" stroke-opacity="0.55" stroke-width="0.45"/><circle cx="340.5" cy="493" r="1.75" fill="#9a9a9a" fill-opacity="0.5" stroke="#707070" stroke-opacity="0.55" stroke-width="0.45"/><circle cx="336.5" cy="489" r="1.75" fill="#9a9a9a" fill-opacity="0.5" stroke="#707070" stroke-opacity="0.55" stroke-width="0.45"/><circle cx="339" cy="481" r="1.75" fill="#9a9a9a" fill-opacity="0.5" stroke="#707070" stroke-opacity="0.55" stroke-width="0.45"/><circle cx="335.2" cy="475.5" r="1.75" fill="#9a9a9a" fill-opacity="0.5" stroke="#707070" stroke-opacity="0.55" stroke-width="0.45"/><circle cx="337" cy="470" r="1.75" fill="#9a9a9a" fill-opacity="0.5" stroke="#707070" stroke-opacity="0.55" stroke-width="0.45"/><circle cx="345.5" cy="479" r="1.75" fill="#9a9a9a" fill-opacity="0.5" stroke="#707070" stroke-opacity="0.55" stroke-width="0.45"/><circle cx="348" cy="486" r="1.75" fill="#9a9a9a" fill-opacity="0.5" stroke="#707070" stroke-opacity="0.55" stroke-width="0.45"/><circle cx="354.5" cy="486" r="1.75" fill="#9a9a9a" fill-opacity="0.5" stroke="#707070" stroke-opacity="0.55" stroke-width="0.45"/><circle cx="360" cy="480.5" r="1.75" fill="#9a9a9a" fill-opacity="0.5" stroke="#707070" stroke-opacity="0.55" stroke-width="0.45"/><circle cx="346" cy="491.5" r="1.75" fill="#9a9a9a" fill-opacity="0.5" stroke="#707070" stroke-opacity="0.55" stroke-width="0.45"/><circle cx="322.5" cy="487" r="1.75" fill="#9a9a9a" fill-opacity="0.5" stroke="#707070" stroke-opacity="0.55" stroke-width="0.45"/><circle cx="317.5" cy="479" r="1.75" fill="#9a9a9a" fill-opacity="0.5" stroke="#707070" stroke-opacity="0.55" stroke-width="0.45"/><circle cx="311.5" cy="483" r="1.75" fill="#9a9a9a" fill-opacity="0.5" stroke="#707070" stroke-opacity="0.55" stroke-width="0.45"/><circle cx="330" cy="470.5" r="1.75" fill="#9a9a9a" fill-opacity="0.5" stroke="#707070" stroke-opacity="0.55" stroke-width="0.45"/><circle cx="328" cy="465.5" r="1.75" fill="#9a9a9a" fill-opacity="0.5" stroke="#707070" stroke-opacity="0.55" stroke-width="0.45"/><circle cx="334.5" cy="461" r="1.75" fill="#9a9a9a" fill-opacity="0.5" stroke="#707070" stroke-opacity="0.55" stroke-width="0.45"/><circle cx="336" cy="458" r="1.75" fill="#9a9a9a" fill-opacity="0.5" stroke="#707070" stroke-opacity="0.55" stroke-width="0.45"/><circle cx="346.5" cy="464" r="1.75" fill="#9a9a9a" fill-opacity="0.5" stroke="#707070" stroke-opacity="0.55" stroke-width="0.45"/><circle cx="329" cy="488.5" r="1.75" fill="#9a9a9a" fill-opacity="0.5" stroke="#707070" stroke-opacity="0.55" stroke-width="0.45"/><circle cx="327" cy="506.5" r="1.75" fill="#9a9a9a" fill-opacity="0.5" stroke="#707070" stroke-opacity="0.55" stroke-width="0.45"/><circle cx="341.5" cy="508" r="1.75" fill="#9a9a9a" fill-opacity="0.5" stroke="#707070" stroke-opacity="0.55" stroke-width="0.45"/><circle cx="331" cy="509.5" r="1.75" fill="#9a9a9a" fill-opacity="0.5" stroke="#707070" stroke-opacity="0.55" stroke-width="0.45"/><circle cx="338.5" cy="509" r="1.75" fill="#9a9a9a" fill-opacity="0.5" stroke="#707070" stroke-opacity="0.55" stroke-width="0.45"/><circle cx="323" cy="495.5" r="1.75" fill="#9a9a9a" fill-opacity="0.5" stroke="#707070" stroke-opacity="0.55" stroke-width="0.45"/><circle cx="338.4" cy="504.2" r="1.75" fill="#9a9a9a" fill-opacity="0.5" stroke="#707070" stroke-opacity="0.55" stroke-width="0.45"/><circle cx="334.6" cy="504.6" r="1.75" fill="#9a9a9a" fill-opacity="0.5" stroke="#707070" stroke-opacity="0.55" stroke-width="0.45"/><circle cx="334.4" cy="494.0" r="1.75" fill="#9a9a9a" fill-opacity="0.5" stroke="#707070" stroke-opacity="0.55" stroke-width="0.45"/><circle cx="339.6" cy="491.3" r="1.75" fill="#9a9a9a" fill-opacity="0.5" stroke="#707070" stroke-opacity="0.55" stroke-width="0.45"/><circle cx="338.0" cy="492.4" r="1.75" fill="#9a9a9a" fill-opacity="0.5" stroke="#707070" stroke-opacity="0.55" stroke-width="0.45"/><circle cx="337.0" cy="502.1" r="1.75" fill="#9a9a9a" fill-opacity="0.5" stroke="#707070" stroke-opacity="0.55" stroke-width="0.45"/><circle cx="345.4" cy="483.0" r="1.75" fill="#9a9a9a" fill-opacity="0.5" stroke="#707070" stroke-opacity="0.55" stroke-width="0.45"/><circle cx="338.9" cy="500.4" r="1.75" fill="#9a9a9a" fill-opacity="0.5" stroke="#707070" stroke-opacity="0.55" stroke-width="0.45"/><circle cx="316.6" cy="482.6" r="1.75" fill="#9a9a9a" fill-opacity="0.5" stroke="#707070" stroke-opacity="0.55" stroke-width="0.45"/><circle cx="332.5" cy="494.7" r="1.75" fill="#9a9a9a" fill-opacity="0.5" stroke="#707070" stroke-opacity="0.55" stroke-width="0.45"/><circle cx="335.8" cy="503.4" r="1.75" fill="#9a9a9a" fill-opacity="0.5" stroke="#707070" stroke-opacity="0.55" stroke-width="0.45"/><circle cx="332.2" cy="500.2" r="1.75" fill="#9a9a9a" fill-opacity="0.5" stroke="#707070" stroke-opacity="0.55" stroke-width="0.45"/><circle cx="337.9" cy="503.4" r="1.75" fill="#9a9a9a" fill-opacity="0.5" stroke="#707070" stroke-opacity="0.55" stroke-width="0.45"/><circle cx="347.1" cy="498.1" r="1.75" fill="#9a9a9a" fill-opacity="0.5" stroke="#707070" stroke-opacity="0.55" stroke-width="0.45"/><circle cx="343.2" cy="499.7" r="1.75" fill="#9a9a9a" fill-opacity="0.5" stroke="#707070" stroke-opacity="0.55" stroke-width="0.45"/><circle cx="331.3" cy="498.7" r="1.75" fill="#9a9a9a" fill-opacity="0.5" stroke="#707070" stroke-opacity="0.55" stroke-width="0.45"/><circle cx="335.5" cy="502.8" r="1.75" fill="#9a9a9a" fill-opacity="0.5" stroke="#707070" stroke-opacity="0.55" stroke-width="0.45"/><circle cx="337.6" cy="498.5" r="1.75" fill="#9a9a9a" fill-opacity="0.5" stroke="#707070" stroke-opacity="0.55" stroke-width="0.45"/><circle cx="330.7" cy="501.3" r="1.75" fill="#9a9a9a" fill-opacity="0.5" stroke="#707070" stroke-opacity="0.55" stroke-width="0.45"/><circle cx="343.1" cy="500.2" r="1.75" fill="#9a9a9a" fill-opacity="0.5" stroke="#707070" stroke-opacity="0.55" stroke-width="0.45"/><circle cx="337.7" cy="495.9" r="1.75" fill="#9a9a9a" fill-opacity="0.5" stroke="#707070" stroke-opacity="0.55" stroke-width="0.45"/><circle cx="327.9" cy="501.6" r="1.75" fill="#9a9a9a" fill-opacity="0.5" stroke="#707070" stroke-opacity="0.55" stroke-width="0.45"/><circle cx="340.9" cy="507.3" r="1.75" fill="#9a9a9a" fill-opacity="0.5" stroke="#707070" stroke-opacity="0.55" stroke-width="0.45"/><circle cx="332.0" cy="477.8" r="1.75" fill="#9a9a9a" fill-opacity="0.5" stroke="#707070" stroke-opacity="0.55" stroke-width="0.45"/><circle cx="332.7" cy="506.4" r="1.75" fill="#9a9a9a" fill-opacity="0.5" stroke="#707070" stroke-opacity="0.55" stroke-width="0.45"/><circle cx="335.6" cy="500.5" r="1.75" fill="#9a9a9a" fill-opacity="0.5" stroke="#707070" stroke-opacity="0.55" stroke-width="0.45"/><circle cx="344.4" cy="486.0" r="1.75" fill="#9a9a9a" fill-opacity="0.5" stroke="#707070" stroke-opacity="0.55" stroke-width="0.45"/><circle cx="342.2" cy="498.0" r="1.75" fill="#9a9a9a" fill-opacity="0.5" stroke="#707070" stroke-opacity="0.55" stroke-width="0.45"/><circle cx="339.6" cy="486.4" r="1.75" fill="#9a9a9a" fill-opacity="0.5" stroke="#707070" stroke-opacity="0.55" stroke-width="0.45"/><circle cx="330.8" cy="506.2" r="1.75" fill="#9a9a9a" fill-opacity="0.5" stroke="#707070" stroke-opacity="0.55" stroke-width="0.45"/><circle cx="332.2" cy="498.8" r="1.75" fill="#9a9a9a" fill-opacity="0.5" stroke="#707070" stroke-opacity="0.55" stroke-width="0.45"/><circle cx="329.0" cy="501.2" r="1.75" fill="#9a9a9a" fill-opacity="0.5" stroke="#707070" stroke-opacity="0.55" stroke-width="0.45"/><circle cx="331.8" cy="493.5" r="1.75" fill="#9a9a9a" fill-opacity="0.5" stroke="#707070" stroke-opacity="0.55" stroke-width="0.45"/><circle cx="317.1" cy="488.7" r="1.75" fill="#9a9a9a" fill-opacity="0.5" stroke="#707070" stroke-opacity="0.55" stroke-width="0.45"/><circle cx="338.4" cy="486.1" r="1.75" fill="#9a9a9a" fill-opacity="0.5" stroke="#707070" stroke-opacity="0.55" stroke-width="0.45"/><circle cx="341.8" cy="486.3" r="1.75" fill="#9a9a9a" fill-opacity="0.5" stroke="#707070" stroke-opacity="0.55" stroke-width="0.45"/><circle cx="305.7" cy="479.5" r="1.75" fill="#9a9a9a" fill-opacity="0.5" stroke="#707070" stroke-opacity="0.55" stroke-width="0.45"/><circle cx="332.2" cy="502.6" r="1.75" fill="#9a9a9a" fill-opacity="0.5" stroke="#707070" stroke-opacity="0.55" stroke-width="0.45"/><circle cx="344.3" cy="491.2" r="1.75" fill="#9a9a9a" fill-opacity="0.5" stroke="#707070" stroke-opacity="0.55" stroke-width="0.45"/><circle cx="337.3" cy="491.5" r="1.75" fill="#9a9a9a" fill-opacity="0.5" stroke="#707070" stroke-opacity="0.55" stroke-width="0.45"/><circle cx="338.0" cy="504.3" r="1.75" fill="#9a9a9a" fill-opacity="0.5" stroke="#707070" stroke-opacity="0.55" stroke-width="0.45"/><circle cx="342.6" cy="484.1" r="1.75" fill="#9a9a9a" fill-opacity="0.5" stroke="#707070" stroke-opacity="0.55" stroke-width="0.45"/><circle cx="339.2" cy="500.2" r="1.75" fill="#9a9a9a" fill-opacity="0.5" stroke="#707070" stroke-opacity="0.55" stroke-width="0.45"/><circle cx="349.5" cy="484.5" r="1.75" fill="#9a9a9a" fill-opacity="0.5" stroke="#707070" stroke-opacity="0.55" stroke-width="0.45"/><circle cx="340.1" cy="493.7" r="1.75" fill="#9a9a9a" fill-opacity="0.5" stroke="#707070" stroke-opacity="0.55" stroke-width="0.45"/><circle cx="328.2" cy="478.4" r="1.75" fill="#9a9a9a" fill-opacity="0.5" stroke="#707070" stroke-opacity="0.55" stroke-width="0.45"/><circle cx="322.8" cy="495.4" r="1.75" fill="#9a9a9a" fill-opacity="0.5" stroke="#707070" stroke-opacity="0.55" stroke-width="0.45"/><circle cx="340.4" cy="505.2" r="1.75" fill="#9a9a9a" fill-opacity="0.5" stroke="#707070" stroke-opacity="0.55" stroke-width="0.45"/><circle cx="351.1" cy="488.3" r="1.75" fill="#9a9a9a" fill-opacity="0.5" stroke="#707070" stroke-opacity="0.55" stroke-width="0.45"/><circle cx="335.1" cy="499.7" r="1.75" fill="#9a9a9a" fill-opacity="0.5" stroke="#707070" stroke-opacity="0.55" stroke-width="0.45"/><circle cx="339.2" cy="503.1" r="1.75" fill="#9a9a9a" fill-opacity="0.5" stroke="#707070" stroke-opacity="0.55" stroke-width="0.45"/><circle cx="340.6" cy="506.2" r="1.75" fill="#9a9a9a" fill-opacity="0.5" stroke="#707070" stroke-opacity="0.55" stroke-width="0.45"/><circle cx="333.3" cy="498.1" r="1.75" fill="#9a9a9a" fill-opacity="0.5" stroke="#707070" stroke-opacity="0.55" stroke-width="0.45"/><circle cx="336.2" cy="492.4" r="1.75" fill="#9a9a9a" fill-opacity="0.5" stroke="#707070" stroke-opacity="0.55" stroke-width="0.45"/><circle cx="343.1" cy="494.8" r="1.75" fill="#9a9a9a" fill-opacity="0.5" stroke="#707070" stroke-opacity="0.55" stroke-width="0.45"/><circle cx="331.5" cy="486.0" r="1.75" fill="#9a9a9a" fill-opacity="0.5" stroke="#707070" stroke-opacity="0.55" stroke-width="0.45"/><circle cx="334.7" cy="487.3" r="1.75" fill="#9a9a9a" fill-opacity="0.5" stroke="#707070" stroke-opacity="0.55" stroke-width="0.45"/><circle cx="334.8" cy="505.8" r="1.75" fill="#9a9a9a" fill-opacity="0.5" stroke="#707070" stroke-opacity="0.55" stroke-width="0.45"/><circle cx="325.9" cy="486.9" r="1.75" fill="#9a9a9a" fill-opacity="0.5" stroke="#707070" stroke-opacity="0.55" stroke-width="0.45"/><circle cx="324.4" cy="489.1" r="1.75" fill="#9a9a9a" fill-opacity="0.5" stroke="#707070" stroke-opacity="0.55" stroke-width="0.45"/>
<circle cx="321.0" cy="378.0" r="2.55" fill="#f7a11a" stroke="#8a5a10" stroke-width="0.5"/><circle cx="326.4" cy="425.8" r="2.55" fill="#f7a11a" stroke="#8a5a10" stroke-width="0.5"/><circle cx="327.4" cy="428.3" r="2.55" fill="#f7a11a" stroke="#8a5a10" stroke-width="0.5"/><circle cx="345.0" cy="427.0" r="2.55" fill="#f7a11a" stroke="#8a5a10" stroke-width="0.5"/><circle cx="315.7" cy="442.9" r="2.55" fill="#f7a11a" stroke="#8a5a10" stroke-width="0.5"/><circle cx="322.7" cy="442.3" r="2.55" fill="#f7a11a" stroke="#8a5a10" stroke-width="0.5"/><circle cx="327.1" cy="443.7" r="2.55" fill="#f7a11a" stroke="#8a5a10" stroke-width="0.5"/><circle cx="340.8" cy="442.3" r="2.55" fill="#f7a11a" stroke="#8a5a10" stroke-width="0.5"/><circle cx="308.7" cy="456.3" r="2.55" fill="#f7a11a" stroke="#8a5a10" stroke-width="0.5"/><circle cx="314.8" cy="454.8" r="2.55" fill="#f7a11a" stroke="#8a5a10" stroke-width="0.5"/><circle cx="317.4" cy="453.0" r="2.55" fill="#f7a11a" stroke="#8a5a10" stroke-width="0.5"/><circle cx="318.0" cy="455.6" r="2.55" fill="#f7a11a" stroke="#8a5a10" stroke-width="0.5"/><circle cx="327.1" cy="455.6" r="2.55" fill="#f7a11a" stroke="#8a5a10" stroke-width="0.5"/><circle cx="326.8" cy="458.6" r="2.55" fill="#f7a11a" stroke="#8a5a10" stroke-width="0.5"/><circle cx="349.0" cy="453.3" r="2.55" fill="#f7a11a" stroke="#8a5a10" stroke-width="0.5"/>
<circle cx="320.6" cy="389.1" r="2.55" fill="#33c133" stroke="#1f5f1f" stroke-width="0.5"/><circle cx="319.6" cy="392.0" r="2.55" fill="#33c133" stroke="#1f5f1f" stroke-width="0.5"/><circle cx="316.2" cy="405.7" r="2.55" fill="#33c133" stroke="#1f5f1f" stroke-width="0.5"/><circle cx="316.7" cy="410.6" r="2.55" fill="#33c133" stroke="#1f5f1f" stroke-width="0.5"/><circle cx="318.7" cy="415.1" r="2.55" fill="#33c133" stroke="#1f5f1f" stroke-width="0.5"/><circle cx="319.9" cy="420.4" r="2.55" fill="#33c133" stroke="#1f5f1f" stroke-width="0.5"/><circle cx="317.4" cy="429.4" r="2.55" fill="#33c133" stroke="#1f5f1f" stroke-width="0.5"/><circle cx="315.1" cy="431.8" r="2.55" fill="#33c133" stroke="#1f5f1f" stroke-width="0.5"/><circle cx="321.5" cy="431.8" r="2.55" fill="#33c133" stroke="#1f5f1f" stroke-width="0.5"/><circle cx="319.2" cy="434.3" r="2.55" fill="#33c133" stroke="#1f5f1f" stroke-width="0.5"/><circle cx="323.9" cy="436.1" r="2.55" fill="#33c133" stroke="#1f5f1f" stroke-width="0.5"/><circle cx="321.0" cy="436.7" r="2.55" fill="#33c133" stroke="#1f5f1f" stroke-width="0.5"/><circle cx="320.6" cy="439.0" r="2.55" fill="#33c133" stroke="#1f5f1f" stroke-width="0.5"/><circle cx="344.4" cy="402.4" r="2.55" fill="#33c133" stroke="#1f5f1f" stroke-width="0.5"/><circle cx="350.8" cy="407.1" r="2.55" fill="#33c133" stroke="#1f5f1f" stroke-width="0.5"/><circle cx="350.8" cy="421.3" r="2.55" fill="#33c133" stroke="#1f5f1f" stroke-width="0.5"/><circle cx="352.5" cy="424.1" r="2.55" fill="#33c133" stroke="#1f5f1f" stroke-width="0.5"/><circle cx="340.9" cy="424.8" r="2.55" fill="#33c133" stroke="#1f5f1f" stroke-width="0.5"/><circle cx="343.3" cy="430.7" r="2.55" fill="#33c133" stroke="#1f5f1f" stroke-width="0.5"/><circle cx="347.2" cy="440.2" r="2.55" fill="#33c133" stroke="#1f5f1f" stroke-width="0.5"/><circle cx="364.2" cy="438.8" r="2.55" fill="#33c133" stroke="#1f5f1f" stroke-width="0.5"/><circle cx="363.6" cy="442.8" r="2.55" fill="#33c133" stroke="#1f5f1f" stroke-width="0.5"/><circle cx="322.9" cy="452.7" r="2.55" fill="#33c133" stroke="#1f5f1f" stroke-width="0.5"/><circle cx="320.6" cy="457.7" r="2.55" fill="#33c133" stroke="#1f5f1f" stroke-width="0.5"/><circle cx="323.3" cy="459.8" r="2.55" fill="#33c133" stroke="#1f5f1f" stroke-width="0.5"/><circle cx="341.4" cy="453.0" r="2.55" fill="#33c133" stroke="#1f5f1f" stroke-width="0.5"/><circle cx="342.0" cy="456.0" r="2.55" fill="#33c133" stroke="#1f5f1f" stroke-width="0.5"/>
<text x="437.8" y="347.8" font-size="11.2" fill="#000" style="font-family:&quot;Liberation Serif&quot;,serif">(e)</text>
<text transform="translate(523.60,357.20) scale(1,1.0)" font-size="9.8" font-weight="bold" text-anchor="middle" fill="#000">Principal Component</text>
<text transform="translate(523.60,368.60) scale(1,1.0)" font-size="9.8" font-weight="bold" text-anchor="middle" fill="#000">Analysis</text>
<rect x="602.6" y="349.8" width="79" height="39.6" fill="#fff" stroke="#2c3e6b" stroke-width="0.9"/>
<text transform="translate(624.80,358.60) scale(1,1.0)" font-size="5.6" font-weight="bold" text-anchor="middle" fill="#000">Breez</text>
<text transform="translate(661.60,358.60) scale(1,1.0)" font-size="5.6" font-weight="bold" text-anchor="middle" fill="#000">GRex</text>
<path d="M610.41 360.80 H612.39 V363.01 H614.60 V364.99 H612.39 V367.20 H610.41 V364.99 H608.20 V363.01 H610.41 Z" fill="#1f1fff" stroke="#333" stroke-width="0.3" stroke-opacity="0.6"/>
<polygon points="611.40,369.40 612.31,371.84 614.92,371.96 612.88,373.58 613.57,376.09 611.40,374.65 609.23,376.09 609.92,373.58 607.88,371.96 610.49,371.84" fill="#1e8fff" stroke="#333" stroke-width="0.35" stroke-opacity="0.7"/>
<circle cx="611.4" cy="381.6" r="3.0" fill="#10bff8" stroke="#333" stroke-width="0.4"/>
<path d="M647.01 360.80 H648.99 V363.01 H651.20 V364.99 H648.99 V367.20 H647.01 V364.99 H644.80 V363.01 H647.01 Z" fill="#dc3f66" stroke="#333" stroke-width="0.3" stroke-opacity="0.6"/>
<polygon points="648.00,369.40 648.91,371.84 651.52,371.96 649.48,373.58 650.17,376.09 648.00,374.65 645.83,376.09 646.52,373.58 644.48,371.96 647.09,371.84" fill="#e5248f" stroke="#333" stroke-width="0.35" stroke-opacity="0.7"/>
<circle cx="648.0" cy="381.6" r="3.0" fill="#ff0000" stroke="#333" stroke-width="0.4"/>
<text transform="translate(616.80,366.00) scale(1,1.0)" font-size="5.6" text-anchor="start" fill="#222">Donor 1</text>
<text transform="translate(653.80,366.00) scale(1,1.0)" font-size="5.6" text-anchor="start" fill="#222">Donor 1</text>
<text transform="translate(616.80,375.00) scale(1,1.0)" font-size="5.6" text-anchor="start" fill="#222">Donor 2</text>
<text transform="translate(653.80,375.00) scale(1,1.0)" font-size="5.6" text-anchor="start" fill="#222">Donor 2</text>
<text transform="translate(616.80,383.60) scale(1,1.0)" font-size="5.6" text-anchor="start" fill="#222">Donor 3</text>
<text transform="translate(653.80,383.60) scale(1,1.0)" font-size="5.6" text-anchor="start" fill="#222">Donor 3</text>
<rect x="453.54999999999995" y="397.84999999999997" width="4.80" height="9.00" fill="none" stroke="#f26b3a" stroke-width="1.3"/>
<rect x="460.75" y="394.84999999999997" width="5.20" height="12.00" fill="none" stroke="#f3a77b" stroke-width="1.3"/>
<rect x="468.54999999999995" y="386.34999999999997" width="5.30" height="20.50" fill="none" stroke="#a7c98a" stroke-width="1.3"/>
<rect x="476.34999999999997" y="391.45" width="4.70" height="15.40" fill="none" stroke="#a2c4e8" stroke-width="1.3"/>
<text transform="translate(487.40,407.70) scale(1,1.1)" font-size="9.8" text-anchor="start" fill="#111">CTM</text>
<rect x="573.0" y="386.8" width="4.6" height="21.2" fill="#dde8f5"/>
<path d="M573.2 386.8 V408 M577.4 386.8 V408" stroke="#a3b3cc" stroke-width="0.6"/>
<path d="M575.3 398.6 L586.6 389.8" stroke="#8fe68f" stroke-width="2.2" stroke-linecap="round" opacity="0.7"/>
<path d="M575.3 398.6 L586.6 389.8" stroke="#3ccc3c" stroke-width="0.9"/>
<path d="M575.3 398.6 L581.2 397.6 M575.3 398.6 L579.0 395.5 M575.3 398.6 L577.4 393.0 M575.3 398.6 L574.5 393.9 M575.3 398.6 L571.4 394.0 M575.3 398.6 L570.8 397.0 M575.3 398.6 L569.4 399.6 M575.3 398.6 L571.6 401.7 M575.3 398.6 L573.2 404.2 M575.3 398.6 L576.1 403.3 M575.3 398.6 L579.2 403.2 M575.3 398.6 L579.8 400.2" stroke="#50d050" stroke-width="0.7" opacity="0.85"/>
<circle cx="575.3" cy="398.6" r="1.8" fill="#3ccc3c"/>
<text transform="translate(586.90,407.30) scale(1,1.1)" font-size="9.9" text-anchor="start" fill="#111">Flow Cytometry</text>
<rect x="452.4" y="412.2" width="112.1" height="107" fill="none" stroke="#555" stroke-width="0.9"/>
<rect x="572.6" y="412.4" width="111.8" height="106.8" fill="none" stroke="#555" stroke-width="0.9"/>
<text transform="translate(452.00,527.30) scale(1,1.0)" font-size="7.0" text-anchor="start" fill="#111">Principal component 1</text>
<text transform="translate(448.4,483.3) rotate(-90)" font-size="7" text-anchor="middle" fill="#111">Principal Component 2</text>
<polygon points="510.50,412.40 511.64,415.44 514.87,415.58 512.34,417.60 513.20,420.72 510.50,418.93 507.80,420.72 508.66,417.60 506.13,415.58 509.36,415.44" fill="#e5248f" stroke="#333" stroke-width="0.35" stroke-opacity="0.7"/>
<polygon points="484.20,427.40 485.34,430.44 488.57,430.58 486.04,432.60 486.90,435.72 484.20,433.93 481.50,435.72 482.36,432.60 479.83,430.58 483.06,430.44" fill="#e5248f" stroke="#333" stroke-width="0.35" stroke-opacity="0.7"/>
<polygon points="461.50,437.40 462.64,440.44 465.87,440.58 463.34,442.60 464.20,445.72 461.50,443.93 458.80,445.72 459.66,442.60 457.13,440.58 460.36,440.44" fill="#e5248f" stroke="#333" stroke-width="0.35" stroke-opacity="0.7"/>
<polygon points="548.20,432.70 549.34,435.74 552.57,435.88 550.04,437.90 550.90,441.02 548.20,439.23 545.50,441.02 546.36,437.90 543.83,435.88 547.06,435.74" fill="#1e8fff" stroke="#333" stroke-width="0.35" stroke-opacity="0.7"/>
<polygon points="559.00,440.50 560.14,443.54 563.37,443.68 560.84,445.70 561.70,448.82 559.00,447.03 556.30,448.82 557.16,445.70 554.63,443.68 557.86,443.54" fill="#1e8fff" stroke="#333" stroke-width="0.35" stroke-opacity="0.7"/>
<polygon points="526.00,462.00 527.14,465.04 530.37,465.18 527.84,467.20 528.70,470.32 526.00,468.53 523.30,470.32 524.16,467.20 521.63,465.18 524.86,465.04" fill="#1e8fff" stroke="#333" stroke-width="0.35" stroke-opacity="0.7"/>
<path d="M455.74 456.90 H458.66 V460.14 H461.90 V463.06 H458.66 V466.30 H455.74 V463.06 H452.50 V460.14 H455.74 Z" fill="#dc3f66" stroke="#333" stroke-width="0.3" stroke-opacity="0.6"/>
<path d="M464.84 466.30 H467.76 V469.54 H471.00 V472.46 H467.76 V475.70 H464.84 V472.46 H461.60 V469.54 H464.84 Z" fill="#dc3f66" stroke="#333" stroke-width="0.3" stroke-opacity="0.6"/>
<path d="M457.14 476.00 H460.06 V479.24 H463.30 V482.16 H460.06 V485.40 H457.14 V482.16 H453.90 V479.24 H457.14 Z" fill="#dc3f66" stroke="#333" stroke-width="0.3" stroke-opacity="0.6"/>
<circle cx="480.1" cy="467.6" r="5.0" fill="#ff0000" stroke="#333" stroke-width="0.4"/>
<circle cx="484.2" cy="471.2" r="5.0" fill="#ff0000" stroke="#333" stroke-width="0.4"/>
<circle cx="483.0" cy="474.8" r="5.0" fill="#ff0000" stroke="#333" stroke-width="0.4"/>
<path d="M501.14 492.80 H504.06 V496.04 H507.30 V498.96 H504.06 V502.20 H501.14 V498.96 H497.90 V496.04 H501.14 Z" fill="#1f1fff" stroke="#333" stroke-width="0.3" stroke-opacity="0.6"/>
<path d="M505.44 490.60 H508.36 V493.84 H511.60 V496.76 H508.36 V500.00 H505.44 V496.76 H502.20 V493.84 H505.44 Z" fill="#1f1fff" stroke="#333" stroke-width="0.3" stroke-opacity="0.6"/>
<path d="M507.84 488.70 H510.76 V491.94 H514.00 V494.86 H510.76 V498.10 H507.84 V494.86 H504.60 V491.94 H507.84 Z" fill="#1f1fff" stroke="#333" stroke-width="0.3" stroke-opacity="0.6"/>
<path d="M494.24 510.20 H497.16 V513.44 H500.40 V516.36 H497.16 V519.60 H494.24 V516.36 H491.00 V513.44 H494.24 Z" fill="#1f1fff" stroke="#333" stroke-width="0.3" stroke-opacity="0.6"/>
<circle cx="554.2" cy="470.7" r="5.0" fill="#10bff8" stroke="#333" stroke-width="0.4"/>
<circle cx="553.5" cy="487.4" r="5.0" fill="#10bff8" stroke="#333" stroke-width="0.4"/>
<circle cx="545.1" cy="492.2" r="5.0" fill="#10bff8" stroke="#333" stroke-width="0.4"/>
<polygon points="621.40,412.40 622.54,415.44 625.77,415.58 623.24,417.60 624.10,420.72 621.40,418.93 618.70,420.72 619.56,417.60 617.03,415.58 620.26,415.44" fill="#1e8fff" stroke="#333" stroke-width="0.35" stroke-opacity="0.7"/>
<polygon points="625.50,422.90 626.64,425.94 629.87,426.08 627.34,428.10 628.20,431.22 625.50,429.43 622.80,431.22 623.66,428.10 621.13,426.08 624.36,425.94" fill="#1e8fff" stroke="#333" stroke-width="0.35" stroke-opacity="0.7"/>
<polygon points="619.70,429.80 620.84,432.84 624.07,432.98 621.54,435.00 622.40,438.12 619.70,436.33 617.00,438.12 617.86,435.00 615.33,432.98 618.56,432.84" fill="#1e8fff" stroke="#333" stroke-width="0.35" stroke-opacity="0.7"/>
<circle cx="592.2" cy="463.1" r="5.0" fill="#10bff8" stroke="#333" stroke-width="0.4"/>
<circle cx="594.5" cy="463.1" r="5.0" fill="#10bff8" stroke="#333" stroke-width="0.4"/>
<circle cx="595.2" cy="473.9" r="5.0" fill="#10bff8" stroke="#333" stroke-width="0.4"/>
<path d="M575.74 468.80 H578.66 V472.04 H581.90 V474.96 H578.66 V478.20 H575.74 V474.96 H572.50 V472.04 H575.74 Z" fill="#1f1fff" stroke="#333" stroke-width="0.3" stroke-opacity="0.6"/>
<path d="M578.04 473.40 H580.96 V476.64 H584.20 V479.56 H580.96 V482.80 H578.04 V479.56 H574.80 V476.64 H578.04 Z" fill="#1f1fff" stroke="#333" stroke-width="0.3" stroke-opacity="0.6"/>
<path d="M582.24 478.40 H585.16 V481.64 H588.40 V484.56 H585.16 V487.80 H582.24 V484.56 H579.00 V481.64 H582.24 Z" fill="#1f1fff" stroke="#333" stroke-width="0.3" stroke-opacity="0.6"/>
<polygon points="668.00,457.80 669.14,460.84 672.37,460.98 669.84,463.00 670.70,466.12 668.00,464.33 665.30,466.12 666.16,463.00 663.63,460.98 666.86,460.84" fill="#e5248f" stroke="#333" stroke-width="0.35" stroke-opacity="0.7"/>
<polygon points="679.50,463.60 680.64,466.64 683.87,466.78 681.34,468.80 682.20,471.92 679.50,470.13 676.80,471.92 677.66,468.80 675.13,466.78 678.36,466.64" fill="#e5248f" stroke="#333" stroke-width="0.35" stroke-opacity="0.7"/>
<polygon points="671.00,473.90 672.14,476.94 675.37,477.08 672.84,479.10 673.70,482.22 671.00,480.43 668.30,482.22 669.16,479.10 666.63,477.08 669.86,476.94" fill="#e5248f" stroke="#333" stroke-width="0.35" stroke-opacity="0.7"/>
<circle cx="634.7" cy="496.5" r="5.0" fill="#ff0000" stroke="#333" stroke-width="0.4"/>
<circle cx="638.6" cy="500.4" r="5.0" fill="#ff0000" stroke="#333" stroke-width="0.4"/>
<path d="M616.64 503.30 H619.56 V506.54 H622.80 V509.46 H619.56 V512.70 H616.64 V509.46 H613.40 V506.54 H616.64 Z" fill="#dc3f66" stroke="#333" stroke-width="0.3" stroke-opacity="0.6"/>
<path d="M618.24 506.50 H621.16 V509.74 H624.40 V512.66 H621.16 V515.90 H618.24 V512.66 H615.00 V509.74 H618.24 Z" fill="#dc3f66" stroke="#333" stroke-width="0.3" stroke-opacity="0.6"/>
<path d="M613.64 510.10 H616.56 V513.34 H619.80 V516.26 H616.56 V519.50 H613.64 V516.26 H610.40 V513.34 H613.64 Z" fill="#dc3f66" stroke="#333" stroke-width="0.3" stroke-opacity="0.6"/>
</svg>
</body></html>
